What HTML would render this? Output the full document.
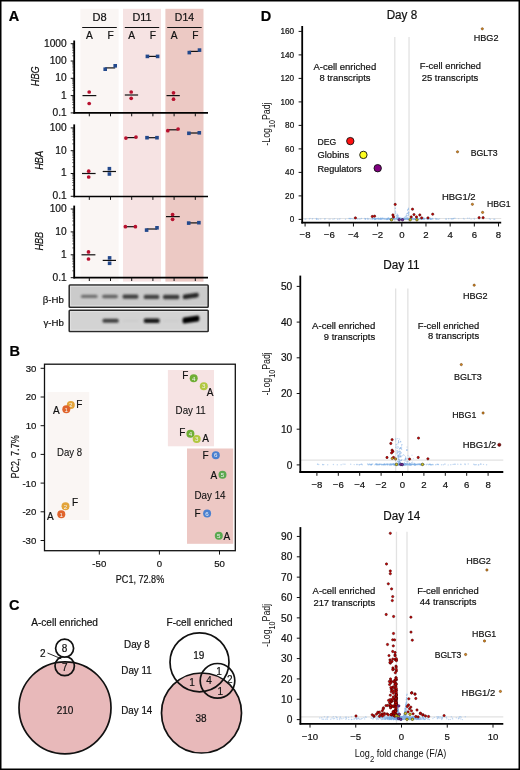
<!DOCTYPE html>
<html><head><meta charset="utf-8"><style>
html,body{margin:0;padding:0;background:#fff;}
svg{display:block;font-family:"Liberation Sans", sans-serif;will-change:transform;}
</style></head><body>
<svg width="520" height="770" viewBox="0 0 520 770" font-family='"Liberation Sans", sans-serif'>
<rect width="520" height="770" fill="#fff"/>
<text x="8.80" y="20.80" font-size="14.5" text-anchor="start" font-weight="bold" stroke="#000" stroke-width="0.2">A</text>
<rect x="80.40" y="8.80" width="38.20" height="272.80" fill="#faf6f4"/>
<rect x="123.00" y="8.80" width="38.00" height="272.80" fill="#f6e3e3"/>
<rect x="165.40" y="8.80" width="38.10" height="272.80" fill="#ecc9c4"/>
<text x="92.40" y="21.30" font-size="10.3" text-anchor="start" fill="#111" stroke="#111" stroke-width="0.2" textLength="14.20" lengthAdjust="spacingAndGlyphs">D8</text>
<line x1="82.20" y1="27.50" x2="116.80" y2="27.50" stroke="#111" stroke-width="1.2"/>
<text x="89.30" y="39.40" font-size="10.2" text-anchor="middle" fill="#111" stroke="#111" stroke-width="0.2">A</text>
<text x="110.50" y="39.40" font-size="10.2" text-anchor="middle" fill="#111" stroke="#111" stroke-width="0.2">F</text>
<text x="132.40" y="21.30" font-size="10.3" text-anchor="start" fill="#111" stroke="#111" stroke-width="0.2" textLength="19.20" lengthAdjust="spacingAndGlyphs">D11</text>
<line x1="124.80" y1="27.50" x2="159.20" y2="27.50" stroke="#111" stroke-width="1.2"/>
<text x="131.70" y="39.40" font-size="10.2" text-anchor="middle" fill="#111" stroke="#111" stroke-width="0.2">A</text>
<text x="152.90" y="39.40" font-size="10.2" text-anchor="middle" fill="#111" stroke="#111" stroke-width="0.2">F</text>
<text x="174.85" y="21.30" font-size="10.3" text-anchor="start" fill="#111" stroke="#111" stroke-width="0.2" textLength="19.20" lengthAdjust="spacingAndGlyphs">D14</text>
<line x1="167.20" y1="27.50" x2="201.70" y2="27.50" stroke="#111" stroke-width="1.2"/>
<text x="174.10" y="39.40" font-size="10.2" text-anchor="middle" fill="#111" stroke="#111" stroke-width="0.2">A</text>
<text x="195.30" y="39.40" font-size="10.2" text-anchor="middle" fill="#111" stroke="#111" stroke-width="0.2">F</text>
<line x1="74.20" y1="40.50" x2="74.20" y2="113.70" stroke="#000" stroke-width="1.8"/>
<line x1="73.40" y1="112.90" x2="208.00" y2="112.90" stroke="#000" stroke-width="1.6"/>
<line x1="89.30" y1="112.90" x2="89.30" y2="116.30" stroke="#111" stroke-width="1.0"/>
<line x1="110.50" y1="112.90" x2="110.50" y2="116.30" stroke="#111" stroke-width="1.0"/>
<line x1="131.70" y1="112.90" x2="131.70" y2="116.30" stroke="#111" stroke-width="1.0"/>
<line x1="152.90" y1="112.90" x2="152.90" y2="116.30" stroke="#111" stroke-width="1.0"/>
<line x1="174.10" y1="112.90" x2="174.10" y2="116.30" stroke="#111" stroke-width="1.0"/>
<line x1="195.30" y1="112.90" x2="195.30" y2="116.30" stroke="#111" stroke-width="1.0"/>
<line x1="70.70" y1="112.90" x2="74.20" y2="112.90" stroke="#111" stroke-width="1.0"/>
<text x="66.70" y="115.80" font-size="10.2" text-anchor="end" fill="#111" stroke="#111" stroke-width="0.2">0.1</text>
<line x1="72.20" y1="107.69" x2="74.20" y2="107.69" stroke="#111" stroke-width="0.6"/>
<line x1="72.20" y1="104.65" x2="74.20" y2="104.65" stroke="#111" stroke-width="0.6"/>
<line x1="72.20" y1="102.48" x2="74.20" y2="102.48" stroke="#111" stroke-width="0.6"/>
<line x1="72.20" y1="100.81" x2="74.20" y2="100.81" stroke="#111" stroke-width="0.6"/>
<line x1="72.20" y1="99.44" x2="74.20" y2="99.44" stroke="#111" stroke-width="0.6"/>
<line x1="72.20" y1="98.28" x2="74.20" y2="98.28" stroke="#111" stroke-width="0.6"/>
<line x1="72.20" y1="97.28" x2="74.20" y2="97.28" stroke="#111" stroke-width="0.6"/>
<line x1="72.20" y1="96.39" x2="74.20" y2="96.39" stroke="#111" stroke-width="0.6"/>
<line x1="70.70" y1="95.60" x2="74.20" y2="95.60" stroke="#111" stroke-width="1.0"/>
<text x="66.70" y="98.50" font-size="10.2" text-anchor="end" fill="#111" stroke="#111" stroke-width="0.2">1</text>
<line x1="72.20" y1="90.39" x2="74.20" y2="90.39" stroke="#111" stroke-width="0.6"/>
<line x1="72.20" y1="87.35" x2="74.20" y2="87.35" stroke="#111" stroke-width="0.6"/>
<line x1="72.20" y1="85.18" x2="74.20" y2="85.18" stroke="#111" stroke-width="0.6"/>
<line x1="72.20" y1="83.51" x2="74.20" y2="83.51" stroke="#111" stroke-width="0.6"/>
<line x1="72.20" y1="82.14" x2="74.20" y2="82.14" stroke="#111" stroke-width="0.6"/>
<line x1="72.20" y1="80.98" x2="74.20" y2="80.98" stroke="#111" stroke-width="0.6"/>
<line x1="72.20" y1="79.98" x2="74.20" y2="79.98" stroke="#111" stroke-width="0.6"/>
<line x1="72.20" y1="79.09" x2="74.20" y2="79.09" stroke="#111" stroke-width="0.6"/>
<line x1="70.70" y1="78.30" x2="74.20" y2="78.30" stroke="#111" stroke-width="1.0"/>
<text x="66.70" y="81.20" font-size="10.2" text-anchor="end" fill="#111" stroke="#111" stroke-width="0.2">10</text>
<line x1="72.20" y1="73.09" x2="74.20" y2="73.09" stroke="#111" stroke-width="0.6"/>
<line x1="72.20" y1="70.05" x2="74.20" y2="70.05" stroke="#111" stroke-width="0.6"/>
<line x1="72.20" y1="67.88" x2="74.20" y2="67.88" stroke="#111" stroke-width="0.6"/>
<line x1="72.20" y1="66.21" x2="74.20" y2="66.21" stroke="#111" stroke-width="0.6"/>
<line x1="72.20" y1="64.84" x2="74.20" y2="64.84" stroke="#111" stroke-width="0.6"/>
<line x1="72.20" y1="63.68" x2="74.20" y2="63.68" stroke="#111" stroke-width="0.6"/>
<line x1="72.20" y1="62.68" x2="74.20" y2="62.68" stroke="#111" stroke-width="0.6"/>
<line x1="72.20" y1="61.79" x2="74.20" y2="61.79" stroke="#111" stroke-width="0.6"/>
<line x1="70.70" y1="61.00" x2="74.20" y2="61.00" stroke="#111" stroke-width="1.0"/>
<text x="66.70" y="63.90" font-size="10.2" text-anchor="end" fill="#111" stroke="#111" stroke-width="0.2">100</text>
<line x1="72.20" y1="55.79" x2="74.20" y2="55.79" stroke="#111" stroke-width="0.6"/>
<line x1="72.20" y1="52.75" x2="74.20" y2="52.75" stroke="#111" stroke-width="0.6"/>
<line x1="72.20" y1="50.58" x2="74.20" y2="50.58" stroke="#111" stroke-width="0.6"/>
<line x1="72.20" y1="48.91" x2="74.20" y2="48.91" stroke="#111" stroke-width="0.6"/>
<line x1="72.20" y1="47.54" x2="74.20" y2="47.54" stroke="#111" stroke-width="0.6"/>
<line x1="72.20" y1="46.38" x2="74.20" y2="46.38" stroke="#111" stroke-width="0.6"/>
<line x1="72.20" y1="45.38" x2="74.20" y2="45.38" stroke="#111" stroke-width="0.6"/>
<line x1="72.20" y1="44.49" x2="74.20" y2="44.49" stroke="#111" stroke-width="0.6"/>
<line x1="70.70" y1="43.70" x2="74.20" y2="43.70" stroke="#111" stroke-width="1.0"/>
<text x="66.70" y="46.60" font-size="10.2" text-anchor="end" fill="#111" stroke="#111" stroke-width="0.2">1000</text>
<text x="0.00" y="0.00" font-size="10.2" text-anchor="middle" font-style="italic" fill="#111" stroke="#111" stroke-width="0.2" transform="translate(38.8,76.3) rotate(-90) scale(0.9,1)">HBG</text>
<line x1="74.20" y1="124.40" x2="74.20" y2="197.30" stroke="#000" stroke-width="1.8"/>
<line x1="73.40" y1="196.50" x2="208.00" y2="196.50" stroke="#000" stroke-width="1.6"/>
<line x1="89.30" y1="196.50" x2="89.30" y2="199.90" stroke="#111" stroke-width="1.0"/>
<line x1="110.50" y1="196.50" x2="110.50" y2="199.90" stroke="#111" stroke-width="1.0"/>
<line x1="131.70" y1="196.50" x2="131.70" y2="199.90" stroke="#111" stroke-width="1.0"/>
<line x1="152.90" y1="196.50" x2="152.90" y2="199.90" stroke="#111" stroke-width="1.0"/>
<line x1="174.10" y1="196.50" x2="174.10" y2="199.90" stroke="#111" stroke-width="1.0"/>
<line x1="195.30" y1="196.50" x2="195.30" y2="199.90" stroke="#111" stroke-width="1.0"/>
<line x1="70.70" y1="196.30" x2="74.20" y2="196.30" stroke="#111" stroke-width="1.0"/>
<text x="66.70" y="199.20" font-size="10.2" text-anchor="end" fill="#111" stroke="#111" stroke-width="0.2">0.1</text>
<line x1="72.20" y1="189.44" x2="74.20" y2="189.44" stroke="#111" stroke-width="0.6"/>
<line x1="72.20" y1="185.42" x2="74.20" y2="185.42" stroke="#111" stroke-width="0.6"/>
<line x1="72.20" y1="182.57" x2="74.20" y2="182.57" stroke="#111" stroke-width="0.6"/>
<line x1="72.20" y1="180.36" x2="74.20" y2="180.36" stroke="#111" stroke-width="0.6"/>
<line x1="72.20" y1="178.56" x2="74.20" y2="178.56" stroke="#111" stroke-width="0.6"/>
<line x1="72.20" y1="177.03" x2="74.20" y2="177.03" stroke="#111" stroke-width="0.6"/>
<line x1="72.20" y1="175.71" x2="74.20" y2="175.71" stroke="#111" stroke-width="0.6"/>
<line x1="72.20" y1="174.54" x2="74.20" y2="174.54" stroke="#111" stroke-width="0.6"/>
<line x1="70.70" y1="173.50" x2="74.20" y2="173.50" stroke="#111" stroke-width="1.0"/>
<text x="66.70" y="176.40" font-size="10.2" text-anchor="end" fill="#111" stroke="#111" stroke-width="0.2">1</text>
<line x1="72.20" y1="166.64" x2="74.20" y2="166.64" stroke="#111" stroke-width="0.6"/>
<line x1="72.20" y1="162.62" x2="74.20" y2="162.62" stroke="#111" stroke-width="0.6"/>
<line x1="72.20" y1="159.77" x2="74.20" y2="159.77" stroke="#111" stroke-width="0.6"/>
<line x1="72.20" y1="157.56" x2="74.20" y2="157.56" stroke="#111" stroke-width="0.6"/>
<line x1="72.20" y1="155.76" x2="74.20" y2="155.76" stroke="#111" stroke-width="0.6"/>
<line x1="72.20" y1="154.23" x2="74.20" y2="154.23" stroke="#111" stroke-width="0.6"/>
<line x1="72.20" y1="152.91" x2="74.20" y2="152.91" stroke="#111" stroke-width="0.6"/>
<line x1="72.20" y1="151.74" x2="74.20" y2="151.74" stroke="#111" stroke-width="0.6"/>
<line x1="70.70" y1="150.70" x2="74.20" y2="150.70" stroke="#111" stroke-width="1.0"/>
<text x="66.70" y="153.60" font-size="10.2" text-anchor="end" fill="#111" stroke="#111" stroke-width="0.2">10</text>
<line x1="72.20" y1="143.84" x2="74.20" y2="143.84" stroke="#111" stroke-width="0.6"/>
<line x1="72.20" y1="139.82" x2="74.20" y2="139.82" stroke="#111" stroke-width="0.6"/>
<line x1="72.20" y1="136.97" x2="74.20" y2="136.97" stroke="#111" stroke-width="0.6"/>
<line x1="72.20" y1="134.76" x2="74.20" y2="134.76" stroke="#111" stroke-width="0.6"/>
<line x1="72.20" y1="132.96" x2="74.20" y2="132.96" stroke="#111" stroke-width="0.6"/>
<line x1="72.20" y1="131.43" x2="74.20" y2="131.43" stroke="#111" stroke-width="0.6"/>
<line x1="72.20" y1="130.11" x2="74.20" y2="130.11" stroke="#111" stroke-width="0.6"/>
<line x1="72.20" y1="128.94" x2="74.20" y2="128.94" stroke="#111" stroke-width="0.6"/>
<line x1="70.70" y1="127.90" x2="74.20" y2="127.90" stroke="#111" stroke-width="1.0"/>
<text x="66.70" y="130.80" font-size="10.2" text-anchor="end" fill="#111" stroke="#111" stroke-width="0.2">100</text>
<text x="0.00" y="0.00" font-size="10.2" text-anchor="middle" font-style="italic" fill="#111" stroke="#111" stroke-width="0.2" transform="translate(42.9,160.4) rotate(-90) scale(0.9,1)">HBA</text>
<line x1="74.20" y1="205.60" x2="74.20" y2="278.40" stroke="#000" stroke-width="1.8"/>
<line x1="73.40" y1="277.60" x2="208.00" y2="277.60" stroke="#000" stroke-width="1.6"/>
<line x1="89.30" y1="277.60" x2="89.30" y2="281.00" stroke="#111" stroke-width="1.0"/>
<line x1="110.50" y1="277.60" x2="110.50" y2="281.00" stroke="#111" stroke-width="1.0"/>
<line x1="131.70" y1="277.60" x2="131.70" y2="281.00" stroke="#111" stroke-width="1.0"/>
<line x1="152.90" y1="277.60" x2="152.90" y2="281.00" stroke="#111" stroke-width="1.0"/>
<line x1="174.10" y1="277.60" x2="174.10" y2="281.00" stroke="#111" stroke-width="1.0"/>
<line x1="195.30" y1="277.60" x2="195.30" y2="281.00" stroke="#111" stroke-width="1.0"/>
<line x1="70.70" y1="277.70" x2="74.20" y2="277.70" stroke="#111" stroke-width="1.0"/>
<text x="66.70" y="280.60" font-size="10.2" text-anchor="end" fill="#111" stroke="#111" stroke-width="0.2">0.1</text>
<line x1="72.20" y1="270.81" x2="74.20" y2="270.81" stroke="#111" stroke-width="0.6"/>
<line x1="72.20" y1="266.77" x2="74.20" y2="266.77" stroke="#111" stroke-width="0.6"/>
<line x1="72.20" y1="263.91" x2="74.20" y2="263.91" stroke="#111" stroke-width="0.6"/>
<line x1="72.20" y1="261.69" x2="74.20" y2="261.69" stroke="#111" stroke-width="0.6"/>
<line x1="72.20" y1="259.88" x2="74.20" y2="259.88" stroke="#111" stroke-width="0.6"/>
<line x1="72.20" y1="258.35" x2="74.20" y2="258.35" stroke="#111" stroke-width="0.6"/>
<line x1="72.20" y1="257.02" x2="74.20" y2="257.02" stroke="#111" stroke-width="0.6"/>
<line x1="72.20" y1="255.85" x2="74.20" y2="255.85" stroke="#111" stroke-width="0.6"/>
<line x1="70.70" y1="254.80" x2="74.20" y2="254.80" stroke="#111" stroke-width="1.0"/>
<text x="66.70" y="257.70" font-size="10.2" text-anchor="end" fill="#111" stroke="#111" stroke-width="0.2">1</text>
<line x1="72.20" y1="247.91" x2="74.20" y2="247.91" stroke="#111" stroke-width="0.6"/>
<line x1="72.20" y1="243.87" x2="74.20" y2="243.87" stroke="#111" stroke-width="0.6"/>
<line x1="72.20" y1="241.01" x2="74.20" y2="241.01" stroke="#111" stroke-width="0.6"/>
<line x1="72.20" y1="238.79" x2="74.20" y2="238.79" stroke="#111" stroke-width="0.6"/>
<line x1="72.20" y1="236.98" x2="74.20" y2="236.98" stroke="#111" stroke-width="0.6"/>
<line x1="72.20" y1="235.45" x2="74.20" y2="235.45" stroke="#111" stroke-width="0.6"/>
<line x1="72.20" y1="234.12" x2="74.20" y2="234.12" stroke="#111" stroke-width="0.6"/>
<line x1="72.20" y1="232.95" x2="74.20" y2="232.95" stroke="#111" stroke-width="0.6"/>
<line x1="70.70" y1="231.90" x2="74.20" y2="231.90" stroke="#111" stroke-width="1.0"/>
<text x="66.70" y="234.80" font-size="10.2" text-anchor="end" fill="#111" stroke="#111" stroke-width="0.2">10</text>
<line x1="72.20" y1="225.01" x2="74.20" y2="225.01" stroke="#111" stroke-width="0.6"/>
<line x1="72.20" y1="220.97" x2="74.20" y2="220.97" stroke="#111" stroke-width="0.6"/>
<line x1="72.20" y1="218.11" x2="74.20" y2="218.11" stroke="#111" stroke-width="0.6"/>
<line x1="72.20" y1="215.89" x2="74.20" y2="215.89" stroke="#111" stroke-width="0.6"/>
<line x1="72.20" y1="214.08" x2="74.20" y2="214.08" stroke="#111" stroke-width="0.6"/>
<line x1="72.20" y1="212.55" x2="74.20" y2="212.55" stroke="#111" stroke-width="0.6"/>
<line x1="72.20" y1="211.22" x2="74.20" y2="211.22" stroke="#111" stroke-width="0.6"/>
<line x1="72.20" y1="210.05" x2="74.20" y2="210.05" stroke="#111" stroke-width="0.6"/>
<line x1="70.70" y1="209.00" x2="74.20" y2="209.00" stroke="#111" stroke-width="1.0"/>
<text x="66.70" y="211.90" font-size="10.2" text-anchor="end" fill="#111" stroke="#111" stroke-width="0.2">100</text>
<text x="0.00" y="0.00" font-size="10.2" text-anchor="middle" font-style="italic" fill="#111" stroke="#111" stroke-width="0.2" transform="translate(42.6,241.2) rotate(-90) scale(0.9,1)">HBB</text>
<line x1="82.50" y1="95.60" x2="96.30" y2="95.60" stroke="#111" stroke-width="1.2"/>
<circle cx="89.20" cy="92.00" r="1.85" fill="#b8102e"/>
<circle cx="89.20" cy="103.50" r="1.85" fill="#b8102e"/>
<line x1="105.20" y1="67.90" x2="115.20" y2="67.90" stroke="#111" stroke-width="1.2"/>
<rect x="103.40" y="67.40" width="3.60" height="3.60" fill="#23498c"/>
<rect x="113.40" y="64.00" width="3.60" height="3.60" fill="#23498c"/>
<line x1="124.80" y1="95.00" x2="138.10" y2="95.00" stroke="#111" stroke-width="1.2"/>
<circle cx="131.20" cy="92.00" r="1.85" fill="#b8102e"/>
<circle cx="131.20" cy="98.30" r="1.85" fill="#b8102e"/>
<line x1="147.40" y1="56.40" x2="157.60" y2="56.40" stroke="#111" stroke-width="1.2"/>
<rect x="145.60" y="54.60" width="3.60" height="3.60" fill="#23498c"/>
<rect x="155.80" y="54.60" width="3.60" height="3.60" fill="#23498c"/>
<line x1="166.50" y1="95.60" x2="179.80" y2="95.60" stroke="#111" stroke-width="1.2"/>
<circle cx="173.50" cy="92.80" r="1.85" fill="#b8102e"/>
<circle cx="173.50" cy="99.20" r="1.85" fill="#b8102e"/>
<line x1="189.30" y1="51.40" x2="199.50" y2="51.40" stroke="#111" stroke-width="1.2"/>
<rect x="187.50" y="50.80" width="3.60" height="3.60" fill="#23498c"/>
<rect x="197.70" y="48.30" width="3.60" height="3.60" fill="#23498c"/>
<line x1="82.00" y1="173.50" x2="95.60" y2="173.50" stroke="#111" stroke-width="1.2"/>
<circle cx="88.70" cy="171.20" r="1.85" fill="#b8102e"/>
<circle cx="88.70" cy="177.00" r="1.85" fill="#b8102e"/>
<line x1="102.70" y1="171.50" x2="116.00" y2="171.50" stroke="#111" stroke-width="1.2"/>
<rect x="107.60" y="166.90" width="3.60" height="3.60" fill="#23498c"/>
<rect x="107.60" y="172.20" width="3.60" height="3.60" fill="#23498c"/>
<line x1="125.90" y1="137.60" x2="136.00" y2="137.60" stroke="#111" stroke-width="1.2"/>
<circle cx="125.90" cy="138.10" r="1.85" fill="#b8102e"/>
<circle cx="136.00" cy="137.10" r="1.85" fill="#b8102e"/>
<line x1="147.00" y1="137.70" x2="157.00" y2="137.70" stroke="#111" stroke-width="1.2"/>
<rect x="145.20" y="135.90" width="3.60" height="3.60" fill="#23498c"/>
<rect x="155.20" y="135.90" width="3.60" height="3.60" fill="#23498c"/>
<line x1="167.80" y1="129.80" x2="178.10" y2="129.80" stroke="#111" stroke-width="1.2"/>
<circle cx="167.80" cy="130.70" r="1.85" fill="#b8102e"/>
<circle cx="178.10" cy="129.00" r="1.85" fill="#b8102e"/>
<line x1="188.90" y1="133.00" x2="199.30" y2="133.00" stroke="#111" stroke-width="1.2"/>
<rect x="187.10" y="131.50" width="3.60" height="3.60" fill="#23498c"/>
<rect x="197.50" y="131.00" width="3.60" height="3.60" fill="#23498c"/>
<line x1="81.50" y1="254.80" x2="95.40" y2="254.80" stroke="#111" stroke-width="1.2"/>
<circle cx="88.50" cy="251.90" r="1.85" fill="#b8102e"/>
<circle cx="88.50" cy="259.00" r="1.85" fill="#b8102e"/>
<line x1="102.70" y1="260.40" x2="116.00" y2="260.40" stroke="#111" stroke-width="1.2"/>
<rect x="107.80" y="256.10" width="3.60" height="3.60" fill="#23498c"/>
<rect x="107.80" y="261.50" width="3.60" height="3.60" fill="#23498c"/>
<line x1="125.40" y1="226.70" x2="135.40" y2="226.70" stroke="#111" stroke-width="1.2"/>
<circle cx="125.40" cy="226.70" r="1.85" fill="#b8102e"/>
<circle cx="135.40" cy="226.70" r="1.85" fill="#b8102e"/>
<line x1="146.60" y1="229.00" x2="157.00" y2="229.00" stroke="#111" stroke-width="1.2"/>
<rect x="144.80" y="228.30" width="3.60" height="3.60" fill="#23498c"/>
<rect x="155.20" y="226.00" width="3.60" height="3.60" fill="#23498c"/>
<line x1="166.00" y1="216.60" x2="179.80" y2="216.60" stroke="#111" stroke-width="1.2"/>
<circle cx="172.60" cy="214.50" r="1.85" fill="#b8102e"/>
<circle cx="172.60" cy="219.30" r="1.85" fill="#b8102e"/>
<line x1="188.70" y1="222.90" x2="198.90" y2="222.90" stroke="#111" stroke-width="1.2"/>
<rect x="186.90" y="221.30" width="3.60" height="3.60" fill="#23498c"/>
<rect x="197.10" y="220.90" width="3.60" height="3.60" fill="#23498c"/>
<defs><filter id="blur1" x="-20%" y="-100%" width="140%" height="300%"><feGaussianBlur stdDeviation="0.85"/></filter></defs>
<rect x="69.20" y="284.90" width="139.00" height="22.30" fill="#cbcbcb" stroke="#2a2a2a" stroke-width="1.5" rx="0.8"/>
<line x1="70.40" y1="286.30" x2="207.00" y2="286.30" stroke="#e2e2e2" stroke-width="0.8"/>
<line x1="70.40" y1="305.80" x2="207.00" y2="305.80" stroke="#e6e6e6" stroke-width="0.8"/>
<line x1="70.60" y1="286.10" x2="70.60" y2="306.00" stroke="#e2e2e2" stroke-width="0.8"/>
<rect x="69.20" y="310.20" width="139.00" height="21.30" fill="#d3d3d3" stroke="#2a2a2a" stroke-width="1.5" rx="0.8"/>
<line x1="70.40" y1="311.60" x2="207.00" y2="311.60" stroke="#e2e2e2" stroke-width="0.8"/>
<line x1="70.40" y1="330.10" x2="207.00" y2="330.10" stroke="#e6e6e6" stroke-width="0.8"/>
<line x1="70.60" y1="311.40" x2="70.60" y2="330.30" stroke="#e2e2e2" stroke-width="0.8"/>
<path d="M82.5,294.7 L96.0,294.7 Q97.6,294.7 97.6,296.4 Q97.6,298.1 96.0,298.1 L82.5,298.1 Q80.9,298.1 80.9,296.4 Q80.9,294.7 82.5,294.7 Z" fill="#6e6e6e" filter="url(#blur1)"/>
<path d="M103.7,294.7 L116.3,294.7 Q117.9,294.7 117.9,296.5 Q117.9,298.3 116.3,298.3 L103.7,298.3 Q102.1,298.3 102.1,296.5 Q102.1,294.7 103.7,294.7 Z" fill="#626262" filter="url(#blur1)"/>
<path d="M124.1,294.4 L136.8,294.4 Q138.4,294.4 138.4,296.6 Q138.4,298.8 136.8,298.8 L124.1,298.8 Q122.5,298.8 122.5,296.6 Q122.5,294.4 124.1,294.4 Z" fill="#404040" filter="url(#blur1)"/>
<path d="M145.3,294.7 L157.7,294.7 Q159.3,294.7 159.3,296.9 Q159.3,299.1 157.7,299.1 L145.3,299.1 Q143.7,299.1 143.7,296.9 Q143.7,294.7 145.3,294.7 Z" fill="#424242" filter="url(#blur1)"/>
<path d="M164.5,294.8 L177.8,294.8 Q179.4,294.8 179.4,297.0 Q179.4,299.2 177.8,299.2 L164.5,299.2 Q162.9,299.2 162.9,297.0 Q162.9,294.8 164.5,294.8 Z" fill="#3a3a3a" filter="url(#blur1)"/>
<path d="M184.4,294.5 L197.2,292.7 Q198.8,292.7 198.8,295.1 Q198.8,297.5 197.2,297.5 L184.4,299.3 Q182.8,299.3 182.8,296.9 Q182.8,294.5 184.4,294.5 Z" fill="#262626" filter="url(#blur1)"/>
<path d="M104.0,318.7 L117.2,318.7 Q118.8,318.7 118.8,320.7 Q118.8,322.7 117.2,322.7 L104.0,322.7 Q102.4,322.7 102.4,320.7 Q102.4,318.7 104.0,318.7 Z" fill="#404040" filter="url(#blur1)"/>
<path d="M123.7,319.5 L137.8,319.5 Q139.0,319.5 139.0,320.7 Q139.0,321.9 137.8,321.9 L123.7,321.9 Q122.5,321.9 122.5,320.7 Q122.5,319.5 123.7,319.5 Z" fill="#cdcdcd" filter="url(#blur1)"/>
<path d="M145.3,318.5 L158.1,318.5 Q159.7,318.5 159.7,320.7 Q159.7,322.9 158.1,322.9 L145.3,322.9 Q143.7,322.9 143.7,320.7 Q143.7,318.5 145.3,318.5 Z" fill="#181818" filter="url(#blur1)"/>
<path d="M163.9,319.5 L178.4,319.5 Q179.6,319.5 179.6,320.7 Q179.6,321.9 178.4,321.9 L163.9,321.9 Q162.7,321.9 162.7,320.7 Q162.7,319.5 163.9,319.5 Z" fill="#cecece" filter="url(#blur1)"/>
<path d="M184.1,317.4 L197.8,315.6 Q199.4,315.6 199.4,318.6 Q199.4,321.6 197.8,321.6 L184.1,323.4 Q182.5,323.4 182.5,320.4 Q182.5,317.4 184.1,317.4 Z" fill="#060606" filter="url(#blur1)"/>
<text x="42.80" y="302.60" font-size="9.6" text-anchor="start" fill="#111" stroke="#111" stroke-width="0.2" textLength="21.10" lengthAdjust="spacingAndGlyphs">β-Hb</text>
<text x="43.50" y="326.40" font-size="9.6" text-anchor="start" fill="#111" stroke="#111" stroke-width="0.2" textLength="20.40" lengthAdjust="spacingAndGlyphs">γ-Hb</text>
<text x="9.40" y="355.60" font-size="14.5" text-anchor="start" font-weight="bold" stroke="#000" stroke-width="0.2">B</text>
<rect x="47.50" y="392.00" width="41.70" height="128.00" fill="#faf6f4"/>
<rect x="167.90" y="370.00" width="46.10" height="76.30" fill="#f6e3e3"/>
<rect x="187.00" y="448.50" width="46.20" height="95.30" fill="#edc8c4"/>
<rect x="44.5" y="364.2" width="190.8" height="186.5" fill="none" stroke="#111" stroke-width="1.3"/>
<line x1="40.60" y1="368.30" x2="44.50" y2="368.30" stroke="#111" stroke-width="1.0"/>
<text x="36.30" y="371.70" font-size="9.6" text-anchor="end" fill="#111" stroke="#111" stroke-width="0.2">30</text>
<line x1="40.60" y1="397.00" x2="44.50" y2="397.00" stroke="#111" stroke-width="1.0"/>
<text x="36.30" y="400.40" font-size="9.6" text-anchor="end" fill="#111" stroke="#111" stroke-width="0.2">20</text>
<line x1="40.60" y1="425.70" x2="44.50" y2="425.70" stroke="#111" stroke-width="1.0"/>
<text x="36.30" y="429.10" font-size="9.6" text-anchor="end" fill="#111" stroke="#111" stroke-width="0.2">10</text>
<line x1="40.60" y1="454.40" x2="44.50" y2="454.40" stroke="#111" stroke-width="1.0"/>
<text x="36.30" y="457.80" font-size="9.6" text-anchor="end" fill="#111" stroke="#111" stroke-width="0.2">0</text>
<line x1="40.60" y1="483.10" x2="44.50" y2="483.10" stroke="#111" stroke-width="1.0"/>
<text x="36.30" y="486.50" font-size="9.6" text-anchor="end" fill="#111" stroke="#111" stroke-width="0.2">-10</text>
<line x1="40.60" y1="511.80" x2="44.50" y2="511.80" stroke="#111" stroke-width="1.0"/>
<text x="36.30" y="515.20" font-size="9.6" text-anchor="end" fill="#111" stroke="#111" stroke-width="0.2">-20</text>
<line x1="40.60" y1="540.50" x2="44.50" y2="540.50" stroke="#111" stroke-width="1.0"/>
<text x="36.30" y="543.90" font-size="9.6" text-anchor="end" fill="#111" stroke="#111" stroke-width="0.2">-30</text>
<line x1="99.30" y1="550.70" x2="99.30" y2="554.60" stroke="#111" stroke-width="1.0"/>
<text x="99.30" y="567.00" font-size="9.6" text-anchor="middle" fill="#111" stroke="#111" stroke-width="0.2">-50</text>
<line x1="159.40" y1="550.70" x2="159.40" y2="554.60" stroke="#111" stroke-width="1.0"/>
<text x="159.40" y="567.00" font-size="9.6" text-anchor="middle" fill="#111" stroke="#111" stroke-width="0.2">0</text>
<line x1="219.50" y1="550.70" x2="219.50" y2="554.60" stroke="#111" stroke-width="1.0"/>
<text x="219.50" y="567.00" font-size="9.6" text-anchor="middle" fill="#111" stroke="#111" stroke-width="0.2">50</text>
<text x="115.80" y="582.80" font-size="11.4" text-anchor="start" fill="#111" stroke="#111" stroke-width="0.2" textLength="48.40" lengthAdjust="spacingAndGlyphs">PC1, 72.8%</text>
<text x="0.00" y="0.00" font-size="11" text-anchor="start" fill="#111" stroke="#111" stroke-width="0.2" textLength="43.20" lengthAdjust="spacingAndGlyphs" transform="translate(19.3,478.5) rotate(-90)">PC2, 7.7%</text>
<circle cx="70.80" cy="405.00" r="4.00" fill="#e3a43a"/>
<text x="70.80" y="407.20" font-size="6.2" text-anchor="middle" fill="#f4f4f4">2</text>
<circle cx="66.30" cy="409.30" r="4.00" fill="#e0642c"/>
<text x="66.30" y="411.50" font-size="6.2" text-anchor="middle" fill="#f4f4f4">1</text>
<text x="53.00" y="413.50" font-size="10" text-anchor="start" fill="#111" stroke="#111" stroke-width="0.2">A</text>
<text x="76.20" y="408.00" font-size="10" text-anchor="start" fill="#111" stroke="#111" stroke-width="0.2">F</text>
<text x="57.00" y="456.00" font-size="10.5" text-anchor="start" fill="#111" stroke="#111" stroke-width="0.1" textLength="25.00" lengthAdjust="spacingAndGlyphs">Day 8</text>
<circle cx="65.50" cy="506.30" r="4.00" fill="#e3a43a"/>
<text x="65.50" y="508.50" font-size="6.2" text-anchor="middle" fill="#f4f4f4">2</text>
<circle cx="61.30" cy="514.30" r="4.00" fill="#e0642c"/>
<text x="61.30" y="516.50" font-size="6.2" text-anchor="middle" fill="#f4f4f4">1</text>
<text x="72.00" y="506.00" font-size="10" text-anchor="start" fill="#111" stroke="#111" stroke-width="0.2">F</text>
<text x="47.00" y="519.80" font-size="10" text-anchor="start" fill="#111" stroke="#111" stroke-width="0.2">A</text>
<circle cx="193.70" cy="378.30" r="4.00" fill="#6fae35"/>
<text x="193.70" y="380.50" font-size="6.2" text-anchor="middle" fill="#f4f4f4">4</text>
<text x="182.30" y="379.30" font-size="10" text-anchor="start" fill="#111" stroke="#111" stroke-width="0.2">F</text>
<circle cx="203.80" cy="386.20" r="4.00" fill="#b2c840"/>
<text x="203.80" y="388.40" font-size="6.2" text-anchor="middle" fill="#f4f4f4">3</text>
<text x="206.70" y="395.50" font-size="10" text-anchor="start" fill="#111" stroke="#111" stroke-width="0.2">A</text>
<text x="175.60" y="413.70" font-size="10.5" text-anchor="start" fill="#111" stroke="#111" stroke-width="0.1" textLength="30.20" lengthAdjust="spacingAndGlyphs">Day 11</text>
<circle cx="190.40" cy="433.80" r="4.00" fill="#6fae35"/>
<text x="190.40" y="436.00" font-size="6.2" text-anchor="middle" fill="#f4f4f4">4</text>
<text x="179.20" y="435.80" font-size="10" text-anchor="start" fill="#111" stroke="#111" stroke-width="0.2">F</text>
<circle cx="196.70" cy="439.00" r="4.00" fill="#b2c840"/>
<text x="196.70" y="441.20" font-size="6.2" text-anchor="middle" fill="#f4f4f4">3</text>
<text x="202.30" y="441.80" font-size="10" text-anchor="start" fill="#111" stroke="#111" stroke-width="0.2">A</text>
<circle cx="215.80" cy="455.20" r="4.00" fill="#4a80d0"/>
<text x="215.80" y="457.40" font-size="6.2" text-anchor="middle" fill="#f4f4f4">6</text>
<text x="202.60" y="458.50" font-size="10" text-anchor="start" fill="#111" stroke="#111" stroke-width="0.2">F</text>
<circle cx="222.50" cy="474.70" r="4.00" fill="#5aa84f"/>
<text x="222.50" y="476.90" font-size="6.2" text-anchor="middle" fill="#f4f4f4">5</text>
<text x="210.40" y="479.00" font-size="10" text-anchor="start" fill="#111" stroke="#111" stroke-width="0.2">A</text>
<text x="194.40" y="499.40" font-size="10.5" text-anchor="start" fill="#111" stroke="#111" stroke-width="0.1" textLength="31.20" lengthAdjust="spacingAndGlyphs">Day 14</text>
<circle cx="207.10" cy="513.60" r="4.00" fill="#4a80d0"/>
<text x="207.10" y="515.80" font-size="6.2" text-anchor="middle" fill="#f4f4f4">6</text>
<text x="194.40" y="517.10" font-size="10" text-anchor="start" fill="#111" stroke="#111" stroke-width="0.2">F</text>
<circle cx="218.80" cy="535.80" r="4.00" fill="#5aa84f"/>
<text x="218.80" y="538.00" font-size="6.2" text-anchor="middle" fill="#f4f4f4">5</text>
<text x="223.60" y="539.90" font-size="10" text-anchor="start" fill="#111" stroke="#111" stroke-width="0.2">A</text>
<text x="9.10" y="610.30" font-size="14.5" text-anchor="start" font-weight="bold" stroke="#000" stroke-width="0.2">C</text>
<text x="31.20" y="625.80" font-size="10.1" text-anchor="start" fill="#111" stroke="#111" stroke-width="0.2" textLength="66.80" lengthAdjust="spacingAndGlyphs">A-cell enriched</text>
<text x="166.50" y="625.80" font-size="10.1" text-anchor="start" fill="#111" stroke="#111" stroke-width="0.2" textLength="66.00" lengthAdjust="spacingAndGlyphs">F-cell enriched</text>
<circle cx="65.00" cy="707.80" r="46.00" fill="#e8b9ba" stroke="#111" stroke-width="1.7"/>
<circle cx="64.70" cy="666.00" r="9.70" fill="none" stroke="#111" stroke-width="1.7"/>
<circle cx="64.60" cy="648.20" r="9.00" fill="#fff" stroke="#111" stroke-width="1.7"/>
<text x="64.60" y="651.80" font-size="10" text-anchor="middle" fill="#111" stroke="#111" stroke-width="0.2">8</text>
<text x="64.70" y="671.20" font-size="10" text-anchor="middle" fill="#111" stroke="#111" stroke-width="0.2">7</text>
<text x="42.80" y="657.40" font-size="10" text-anchor="middle" fill="#111" stroke="#111" stroke-width="0.2">2</text>
<line x1="47.50" y1="653.00" x2="61.30" y2="658.80" stroke="#111" stroke-width="0.9"/>
<text x="65.00" y="713.60" font-size="10" text-anchor="middle" fill="#111" stroke="#111" stroke-width="0.2">210</text>
<circle cx="201.50" cy="713.00" r="40.00" fill="#e8b9ba" stroke="#111" stroke-width="1.7"/>
<circle cx="199.50" cy="662.30" r="29.50" fill="none" stroke="#111" stroke-width="1.7"/>
<circle cx="217.50" cy="680.80" r="17.30" fill="none" stroke="#111" stroke-width="1.7"/>
<text x="198.80" y="658.80" font-size="10" text-anchor="middle" fill="#111" stroke="#111" stroke-width="0.2">19</text>
<text x="219.00" y="675.00" font-size="10" text-anchor="middle" fill="#111" stroke="#111" stroke-width="0.2">1</text>
<text x="229.80" y="683.00" font-size="10" text-anchor="middle" fill="#111" stroke="#111" stroke-width="0.2">2</text>
<text x="192.10" y="685.70" font-size="10" text-anchor="middle" fill="#111" stroke="#111" stroke-width="0.2">1</text>
<text x="209.10" y="684.40" font-size="10" text-anchor="middle" fill="#111" stroke="#111" stroke-width="0.2">4</text>
<text x="220.40" y="694.60" font-size="10" text-anchor="middle" fill="#111" stroke="#111" stroke-width="0.2">1</text>
<text x="201.00" y="722.10" font-size="10" text-anchor="middle" fill="#111" stroke="#111" stroke-width="0.2">38</text>
<text x="124.00" y="648.00" font-size="10" text-anchor="start" fill="#111" stroke="#111" stroke-width="0.2" textLength="25.80" lengthAdjust="spacingAndGlyphs">Day 8</text>
<text x="121.30" y="674.10" font-size="10" text-anchor="start" fill="#111" stroke="#111" stroke-width="0.2" textLength="30.40" lengthAdjust="spacingAndGlyphs">Day 11</text>
<text x="121.30" y="714.00" font-size="10" text-anchor="start" fill="#111" stroke="#111" stroke-width="0.2" textLength="31.00" lengthAdjust="spacingAndGlyphs">Day 14</text>
<text x="260.80" y="20.90" font-size="14.5" text-anchor="start" font-weight="bold" stroke="#000" stroke-width="0.2">D</text>
<line x1="394.79" y1="37.00" x2="394.79" y2="222.70" stroke="#e2e2e2" stroke-width="1.3"/>
<line x1="409.05" y1="37.00" x2="409.05" y2="222.70" stroke="#e2e2e2" stroke-width="1.3"/>
<line x1="302.20" y1="218.50" x2="501.20" y2="218.50" stroke="#e2e2e2" stroke-width="1.2"/>
<circle cx="367.7" cy="219.2" r="0.7" fill="#9cc0ea" fill-opacity="0.6"/>
<circle cx="431.0" cy="219.3" r="0.7" fill="#9cc0ea" fill-opacity="0.6"/>
<circle cx="408.7" cy="219.0" r="0.7" fill="#9cc0ea" fill-opacity="0.6"/>
<circle cx="316.3" cy="218.8" r="0.7" fill="#9cc0ea" fill-opacity="0.6"/>
<circle cx="312.3" cy="218.9" r="0.7" fill="#9cc0ea" fill-opacity="0.6"/>
<circle cx="318.6" cy="219.3" r="0.7" fill="#9cc0ea" fill-opacity="0.6"/>
<circle cx="387.2" cy="218.4" r="0.7" fill="#9cc0ea" fill-opacity="0.6"/>
<circle cx="329.0" cy="219.1" r="0.7" fill="#9cc0ea" fill-opacity="0.6"/>
<circle cx="426.5" cy="218.3" r="0.7" fill="#9cc0ea" fill-opacity="0.6"/>
<circle cx="416.7" cy="218.9" r="0.7" fill="#9cc0ea" fill-opacity="0.6"/>
<circle cx="493.9" cy="219.3" r="0.7" fill="#9cc0ea" fill-opacity="0.6"/>
<circle cx="471.1" cy="219.1" r="0.7" fill="#9cc0ea" fill-opacity="0.6"/>
<circle cx="333.0" cy="219.3" r="0.7" fill="#9cc0ea" fill-opacity="0.6"/>
<circle cx="364.8" cy="218.4" r="0.7" fill="#9cc0ea" fill-opacity="0.6"/>
<circle cx="340.0" cy="218.7" r="0.7" fill="#9cc0ea" fill-opacity="0.6"/>
<circle cx="428.7" cy="219.0" r="0.7" fill="#9cc0ea" fill-opacity="0.6"/>
<circle cx="411.0" cy="219.3" r="0.7" fill="#9cc0ea" fill-opacity="0.6"/>
<circle cx="316.6" cy="219.2" r="0.7" fill="#9cc0ea" fill-opacity="0.6"/>
<circle cx="436.7" cy="218.9" r="0.7" fill="#9cc0ea" fill-opacity="0.6"/>
<circle cx="365.8" cy="218.7" r="0.7" fill="#9cc0ea" fill-opacity="0.6"/>
<circle cx="392.7" cy="219.0" r="0.7" fill="#9cc0ea" fill-opacity="0.6"/>
<circle cx="458.7" cy="218.6" r="0.7" fill="#9cc0ea" fill-opacity="0.6"/>
<circle cx="352.3" cy="218.7" r="0.7" fill="#9cc0ea" fill-opacity="0.6"/>
<circle cx="406.7" cy="218.4" r="0.7" fill="#9cc0ea" fill-opacity="0.6"/>
<circle cx="446.2" cy="219.1" r="0.7" fill="#9cc0ea" fill-opacity="0.6"/>
<circle cx="494.7" cy="219.3" r="0.7" fill="#9cc0ea" fill-opacity="0.6"/>
<circle cx="386.0" cy="218.5" r="0.7" fill="#9cc0ea" fill-opacity="0.6"/>
<circle cx="334.5" cy="218.8" r="0.7" fill="#9cc0ea" fill-opacity="0.6"/>
<circle cx="312.7" cy="218.6" r="0.7" fill="#9cc0ea" fill-opacity="0.6"/>
<circle cx="453.0" cy="218.7" r="0.7" fill="#9cc0ea" fill-opacity="0.6"/>
<circle cx="474.4" cy="219.0" r="0.7" fill="#9cc0ea" fill-opacity="0.6"/>
<circle cx="439.6" cy="218.7" r="0.7" fill="#9cc0ea" fill-opacity="0.6"/>
<circle cx="417.3" cy="218.9" r="0.7" fill="#9cc0ea" fill-opacity="0.6"/>
<circle cx="467.6" cy="218.3" r="0.7" fill="#9cc0ea" fill-opacity="0.6"/>
<circle cx="396.8" cy="218.6" r="0.7" fill="#9cc0ea" fill-opacity="0.6"/>
<circle cx="316.8" cy="218.6" r="0.7" fill="#9cc0ea" fill-opacity="0.6"/>
<circle cx="430.3" cy="218.2" r="0.7" fill="#9cc0ea" fill-opacity="0.6"/>
<circle cx="464.1" cy="219.1" r="0.7" fill="#9cc0ea" fill-opacity="0.6"/>
<circle cx="379.7" cy="218.6" r="0.7" fill="#9cc0ea" fill-opacity="0.6"/>
<circle cx="309.4" cy="218.9" r="0.7" fill="#9cc0ea" fill-opacity="0.6"/>
<circle cx="337.6" cy="219.3" r="0.7" fill="#9cc0ea" fill-opacity="0.6"/>
<circle cx="316.5" cy="218.5" r="0.7" fill="#9cc0ea" fill-opacity="0.6"/>
<circle cx="330.1" cy="219.1" r="0.7" fill="#9cc0ea" fill-opacity="0.6"/>
<circle cx="380.7" cy="218.4" r="0.7" fill="#9cc0ea" fill-opacity="0.6"/>
<circle cx="320.7" cy="218.9" r="0.7" fill="#9cc0ea" fill-opacity="0.6"/>
<circle cx="411.4" cy="218.4" r="0.7" fill="#9cc0ea" fill-opacity="0.6"/>
<circle cx="463.6" cy="218.4" r="0.7" fill="#9cc0ea" fill-opacity="0.6"/>
<circle cx="358.9" cy="218.9" r="0.7" fill="#9cc0ea" fill-opacity="0.6"/>
<circle cx="374.5" cy="218.4" r="0.7" fill="#9cc0ea" fill-opacity="0.6"/>
<circle cx="490.3" cy="219.2" r="0.7" fill="#9cc0ea" fill-opacity="0.6"/>
<circle cx="339.2" cy="219.1" r="0.7" fill="#9cc0ea" fill-opacity="0.6"/>
<circle cx="350.2" cy="218.8" r="0.7" fill="#9cc0ea" fill-opacity="0.6"/>
<circle cx="419.0" cy="219.1" r="0.7" fill="#9cc0ea" fill-opacity="0.6"/>
<circle cx="305.9" cy="218.9" r="0.7" fill="#9cc0ea" fill-opacity="0.6"/>
<circle cx="376.5" cy="218.7" r="0.7" fill="#9cc0ea" fill-opacity="0.6"/>
<circle cx="489.4" cy="218.6" r="0.7" fill="#9cc0ea" fill-opacity="0.6"/>
<circle cx="404.8" cy="218.7" r="0.7" fill="#9cc0ea" fill-opacity="0.6"/>
<circle cx="435.9" cy="219.3" r="0.7" fill="#9cc0ea" fill-opacity="0.6"/>
<circle cx="479.1" cy="218.5" r="0.7" fill="#9cc0ea" fill-opacity="0.6"/>
<circle cx="474.2" cy="218.5" r="0.7" fill="#9cc0ea" fill-opacity="0.6"/>
<circle cx="381.0" cy="218.9" r="0.7" fill="#9cc0ea" fill-opacity="0.6"/>
<circle cx="325.1" cy="218.7" r="0.7" fill="#9cc0ea" fill-opacity="0.6"/>
<circle cx="317.1" cy="219.3" r="0.7" fill="#9cc0ea" fill-opacity="0.6"/>
<circle cx="345.5" cy="219.2" r="0.7" fill="#9cc0ea" fill-opacity="0.6"/>
<circle cx="370.9" cy="219.3" r="0.7" fill="#9cc0ea" fill-opacity="0.6"/>
<circle cx="305.1" cy="219.2" r="0.7" fill="#9cc0ea" fill-opacity="0.6"/>
<circle cx="324.7" cy="219.0" r="0.7" fill="#9cc0ea" fill-opacity="0.6"/>
<circle cx="310.0" cy="218.4" r="0.7" fill="#9cc0ea" fill-opacity="0.6"/>
<circle cx="423.9" cy="219.2" r="0.7" fill="#9cc0ea" fill-opacity="0.6"/>
<circle cx="353.9" cy="219.0" r="0.7" fill="#9cc0ea" fill-opacity="0.6"/>
<circle cx="375.5" cy="219.3" r="0.7" fill="#9cc0ea" fill-opacity="0.6"/>
<circle cx="469.3" cy="218.2" r="0.7" fill="#9cc0ea" fill-opacity="0.6"/>
<circle cx="395.2" cy="218.8" r="0.7" fill="#9cc0ea" fill-opacity="0.6"/>
<circle cx="409.5" cy="219.0" r="0.75" fill="#7eaee6" fill-opacity="0.55"/>
<circle cx="406.4" cy="219.1" r="0.75" fill="#7eaee6" fill-opacity="0.55"/>
<circle cx="407.3" cy="219.4" r="0.75" fill="#7eaee6" fill-opacity="0.55"/>
<circle cx="391.7" cy="218.3" r="0.75" fill="#7eaee6" fill-opacity="0.55"/>
<circle cx="391.1" cy="218.8" r="0.75" fill="#7eaee6" fill-opacity="0.55"/>
<circle cx="399.9" cy="219.4" r="0.75" fill="#7eaee6" fill-opacity="0.55"/>
<circle cx="349.0" cy="218.4" r="0.75" fill="#7eaee6" fill-opacity="0.55"/>
<circle cx="392.4" cy="218.6" r="0.75" fill="#7eaee6" fill-opacity="0.55"/>
<circle cx="400.5" cy="219.2" r="0.75" fill="#7eaee6" fill-opacity="0.55"/>
<circle cx="420.2" cy="218.5" r="0.75" fill="#7eaee6" fill-opacity="0.55"/>
<circle cx="368.9" cy="219.0" r="0.75" fill="#7eaee6" fill-opacity="0.55"/>
<circle cx="395.0" cy="219.1" r="0.75" fill="#7eaee6" fill-opacity="0.55"/>
<circle cx="422.9" cy="218.4" r="0.75" fill="#7eaee6" fill-opacity="0.55"/>
<circle cx="349.9" cy="218.5" r="0.75" fill="#7eaee6" fill-opacity="0.55"/>
<circle cx="415.0" cy="219.1" r="0.75" fill="#7eaee6" fill-opacity="0.55"/>
<circle cx="372.9" cy="218.8" r="0.75" fill="#7eaee6" fill-opacity="0.55"/>
<circle cx="398.9" cy="219.4" r="0.75" fill="#7eaee6" fill-opacity="0.55"/>
<circle cx="405.5" cy="219.1" r="0.75" fill="#7eaee6" fill-opacity="0.55"/>
<circle cx="400.1" cy="218.3" r="0.75" fill="#7eaee6" fill-opacity="0.55"/>
<circle cx="431.5" cy="218.9" r="0.75" fill="#7eaee6" fill-opacity="0.55"/>
<circle cx="454.9" cy="218.3" r="0.75" fill="#7eaee6" fill-opacity="0.55"/>
<circle cx="379.6" cy="219.0" r="0.75" fill="#7eaee6" fill-opacity="0.55"/>
<circle cx="404.4" cy="219.2" r="0.75" fill="#7eaee6" fill-opacity="0.55"/>
<circle cx="415.4" cy="219.2" r="0.75" fill="#7eaee6" fill-opacity="0.55"/>
<circle cx="372.3" cy="218.4" r="0.75" fill="#7eaee6" fill-opacity="0.55"/>
<circle cx="372.6" cy="218.8" r="0.75" fill="#7eaee6" fill-opacity="0.55"/>
<circle cx="381.9" cy="219.3" r="0.75" fill="#7eaee6" fill-opacity="0.55"/>
<circle cx="373.4" cy="218.6" r="0.75" fill="#7eaee6" fill-opacity="0.55"/>
<circle cx="430.3" cy="218.5" r="0.75" fill="#7eaee6" fill-opacity="0.55"/>
<circle cx="383.7" cy="218.8" r="0.75" fill="#7eaee6" fill-opacity="0.55"/>
<circle cx="416.6" cy="219.0" r="0.75" fill="#7eaee6" fill-opacity="0.55"/>
<circle cx="432.5" cy="218.5" r="0.75" fill="#7eaee6" fill-opacity="0.55"/>
<circle cx="420.9" cy="218.9" r="0.75" fill="#7eaee6" fill-opacity="0.55"/>
<circle cx="398.4" cy="218.3" r="0.75" fill="#7eaee6" fill-opacity="0.55"/>
<circle cx="399.9" cy="219.3" r="0.75" fill="#7eaee6" fill-opacity="0.55"/>
<circle cx="390.1" cy="219.2" r="0.75" fill="#7eaee6" fill-opacity="0.55"/>
<circle cx="430.8" cy="219.2" r="0.75" fill="#7eaee6" fill-opacity="0.55"/>
<circle cx="382.1" cy="218.4" r="0.75" fill="#7eaee6" fill-opacity="0.55"/>
<circle cx="429.9" cy="219.0" r="0.75" fill="#7eaee6" fill-opacity="0.55"/>
<circle cx="398.3" cy="218.8" r="0.75" fill="#7eaee6" fill-opacity="0.55"/>
<circle cx="404.0" cy="218.3" r="0.75" fill="#7eaee6" fill-opacity="0.55"/>
<circle cx="404.2" cy="218.6" r="0.75" fill="#7eaee6" fill-opacity="0.55"/>
<circle cx="357.4" cy="218.9" r="0.75" fill="#7eaee6" fill-opacity="0.55"/>
<circle cx="394.3" cy="218.4" r="0.75" fill="#7eaee6" fill-opacity="0.55"/>
<circle cx="407.9" cy="219.1" r="0.75" fill="#7eaee6" fill-opacity="0.55"/>
<circle cx="390.0" cy="219.1" r="0.75" fill="#7eaee6" fill-opacity="0.55"/>
<circle cx="403.3" cy="219.1" r="0.75" fill="#7eaee6" fill-opacity="0.55"/>
<circle cx="427.5" cy="218.9" r="0.75" fill="#7eaee6" fill-opacity="0.55"/>
<circle cx="430.7" cy="219.0" r="0.75" fill="#7eaee6" fill-opacity="0.55"/>
<circle cx="432.9" cy="218.9" r="0.75" fill="#7eaee6" fill-opacity="0.55"/>
<circle cx="365.5" cy="218.9" r="0.75" fill="#7eaee6" fill-opacity="0.55"/>
<circle cx="380.8" cy="218.3" r="0.75" fill="#7eaee6" fill-opacity="0.55"/>
<circle cx="378.0" cy="218.8" r="0.75" fill="#7eaee6" fill-opacity="0.55"/>
<circle cx="401.6" cy="219.4" r="0.75" fill="#7eaee6" fill-opacity="0.55"/>
<circle cx="390.4" cy="219.4" r="0.75" fill="#7eaee6" fill-opacity="0.55"/>
<circle cx="406.3" cy="218.5" r="0.75" fill="#7eaee6" fill-opacity="0.55"/>
<circle cx="412.1" cy="218.5" r="0.75" fill="#7eaee6" fill-opacity="0.55"/>
<circle cx="421.2" cy="218.7" r="0.75" fill="#7eaee6" fill-opacity="0.55"/>
<circle cx="391.1" cy="218.7" r="0.75" fill="#7eaee6" fill-opacity="0.55"/>
<circle cx="422.6" cy="218.5" r="0.75" fill="#7eaee6" fill-opacity="0.55"/>
<circle cx="421.3" cy="219.1" r="0.75" fill="#7eaee6" fill-opacity="0.55"/>
<circle cx="417.1" cy="219.1" r="0.75" fill="#7eaee6" fill-opacity="0.55"/>
<circle cx="405.0" cy="218.7" r="0.75" fill="#7eaee6" fill-opacity="0.55"/>
<circle cx="379.0" cy="218.5" r="0.75" fill="#7eaee6" fill-opacity="0.55"/>
<circle cx="419.6" cy="218.7" r="0.75" fill="#7eaee6" fill-opacity="0.55"/>
<circle cx="390.9" cy="218.8" r="0.75" fill="#7eaee6" fill-opacity="0.55"/>
<circle cx="372.2" cy="218.9" r="0.75" fill="#7eaee6" fill-opacity="0.55"/>
<circle cx="399.5" cy="218.8" r="0.75" fill="#7eaee6" fill-opacity="0.55"/>
<circle cx="356.1" cy="218.6" r="0.75" fill="#7eaee6" fill-opacity="0.55"/>
<circle cx="408.1" cy="218.4" r="0.75" fill="#7eaee6" fill-opacity="0.55"/>
<circle cx="415.8" cy="218.7" r="0.75" fill="#7eaee6" fill-opacity="0.55"/>
<circle cx="396.5" cy="218.3" r="0.75" fill="#7eaee6" fill-opacity="0.55"/>
<circle cx="407.4" cy="219.3" r="0.75" fill="#7eaee6" fill-opacity="0.55"/>
<circle cx="392.9" cy="218.9" r="0.75" fill="#7eaee6" fill-opacity="0.55"/>
<circle cx="414.7" cy="219.3" r="0.75" fill="#7eaee6" fill-opacity="0.55"/>
<circle cx="408.1" cy="218.6" r="0.75" fill="#7eaee6" fill-opacity="0.55"/>
<circle cx="410.5" cy="219.2" r="0.75" fill="#7eaee6" fill-opacity="0.55"/>
<circle cx="361.5" cy="218.6" r="0.75" fill="#7eaee6" fill-opacity="0.55"/>
<circle cx="396.1" cy="218.4" r="0.75" fill="#7eaee6" fill-opacity="0.55"/>
<circle cx="392.7" cy="218.3" r="0.75" fill="#7eaee6" fill-opacity="0.55"/>
<circle cx="410.9" cy="218.9" r="0.75" fill="#7eaee6" fill-opacity="0.55"/>
<circle cx="448.7" cy="218.8" r="0.75" fill="#7eaee6" fill-opacity="0.55"/>
<circle cx="438.3" cy="219.2" r="0.75" fill="#7eaee6" fill-opacity="0.55"/>
<circle cx="399.5" cy="218.9" r="0.75" fill="#7eaee6" fill-opacity="0.55"/>
<circle cx="384.3" cy="219.2" r="0.75" fill="#7eaee6" fill-opacity="0.55"/>
<circle cx="400.1" cy="219.0" r="0.75" fill="#7eaee6" fill-opacity="0.55"/>
<circle cx="401.1" cy="218.7" r="0.75" fill="#7eaee6" fill-opacity="0.55"/>
<circle cx="398.0" cy="218.9" r="0.75" fill="#7eaee6" fill-opacity="0.55"/>
<circle cx="419.0" cy="218.7" r="0.75" fill="#7eaee6" fill-opacity="0.55"/>
<circle cx="403.8" cy="218.8" r="0.75" fill="#7eaee6" fill-opacity="0.55"/>
<circle cx="453.4" cy="218.5" r="0.75" fill="#7eaee6" fill-opacity="0.55"/>
<circle cx="423.9" cy="218.3" r="0.75" fill="#7eaee6" fill-opacity="0.55"/>
<circle cx="413.8" cy="219.4" r="0.75" fill="#7eaee6" fill-opacity="0.55"/>
<circle cx="411.1" cy="218.5" r="0.75" fill="#7eaee6" fill-opacity="0.55"/>
<circle cx="400.5" cy="218.9" r="0.75" fill="#7eaee6" fill-opacity="0.55"/>
<circle cx="411.9" cy="218.3" r="0.75" fill="#7eaee6" fill-opacity="0.55"/>
<circle cx="408.1" cy="219.2" r="0.75" fill="#7eaee6" fill-opacity="0.55"/>
<circle cx="388.2" cy="218.3" r="0.75" fill="#7eaee6" fill-opacity="0.55"/>
<circle cx="374.7" cy="219.3" r="0.75" fill="#7eaee6" fill-opacity="0.55"/>
<circle cx="388.9" cy="219.3" r="0.75" fill="#7eaee6" fill-opacity="0.55"/>
<circle cx="394.1" cy="219.3" r="0.75" fill="#7eaee6" fill-opacity="0.55"/>
<circle cx="383.0" cy="218.3" r="0.75" fill="#7eaee6" fill-opacity="0.55"/>
<circle cx="378.7" cy="219.3" r="0.75" fill="#7eaee6" fill-opacity="0.55"/>
<circle cx="375.8" cy="218.4" r="0.75" fill="#7eaee6" fill-opacity="0.55"/>
<circle cx="437.0" cy="218.9" r="0.75" fill="#7eaee6" fill-opacity="0.55"/>
<circle cx="417.5" cy="219.0" r="0.75" fill="#7eaee6" fill-opacity="0.55"/>
<circle cx="360.0" cy="219.1" r="0.75" fill="#7eaee6" fill-opacity="0.55"/>
<circle cx="387.3" cy="219.2" r="0.75" fill="#7eaee6" fill-opacity="0.55"/>
<circle cx="387.7" cy="219.3" r="0.75" fill="#7eaee6" fill-opacity="0.55"/>
<circle cx="399.4" cy="219.2" r="0.75" fill="#7eaee6" fill-opacity="0.55"/>
<circle cx="414.1" cy="219.0" r="0.75" fill="#7eaee6" fill-opacity="0.55"/>
<circle cx="405.8" cy="219.0" r="0.75" fill="#7eaee6" fill-opacity="0.55"/>
<circle cx="402.8" cy="218.8" r="0.75" fill="#7eaee6" fill-opacity="0.55"/>
<circle cx="385.8" cy="219.2" r="0.75" fill="#7eaee6" fill-opacity="0.55"/>
<circle cx="399.7" cy="219.1" r="0.75" fill="#7eaee6" fill-opacity="0.55"/>
<circle cx="404.8" cy="219.4" r="0.75" fill="#7eaee6" fill-opacity="0.55"/>
<circle cx="399.2" cy="219.2" r="0.75" fill="#7eaee6" fill-opacity="0.55"/>
<circle cx="377.5" cy="218.8" r="0.75" fill="#7eaee6" fill-opacity="0.55"/>
<circle cx="410.2" cy="218.4" r="0.75" fill="#7eaee6" fill-opacity="0.55"/>
<circle cx="398.1" cy="218.9" r="0.75" fill="#7eaee6" fill-opacity="0.55"/>
<circle cx="365.1" cy="218.9" r="0.75" fill="#7eaee6" fill-opacity="0.55"/>
<circle cx="403.0" cy="218.8" r="0.75" fill="#7eaee6" fill-opacity="0.55"/>
<circle cx="380.8" cy="219.0" r="0.75" fill="#7eaee6" fill-opacity="0.55"/>
<circle cx="351.0" cy="218.4" r="0.75" fill="#7eaee6" fill-opacity="0.55"/>
<circle cx="394.4" cy="218.9" r="0.75" fill="#7eaee6" fill-opacity="0.55"/>
<circle cx="375.3" cy="219.0" r="0.75" fill="#7eaee6" fill-opacity="0.55"/>
<circle cx="411.4" cy="219.3" r="0.75" fill="#7eaee6" fill-opacity="0.55"/>
<circle cx="405.2" cy="218.5" r="0.75" fill="#7eaee6" fill-opacity="0.55"/>
<circle cx="401.4" cy="219.3" r="0.75" fill="#7eaee6" fill-opacity="0.55"/>
<circle cx="413.3" cy="218.4" r="0.75" fill="#7eaee6" fill-opacity="0.55"/>
<circle cx="421.6" cy="219.1" r="0.75" fill="#7eaee6" fill-opacity="0.55"/>
<circle cx="380.9" cy="219.1" r="0.75" fill="#7eaee6" fill-opacity="0.55"/>
<circle cx="396.1" cy="219.2" r="0.75" fill="#7eaee6" fill-opacity="0.55"/>
<circle cx="422.5" cy="218.9" r="0.75" fill="#7eaee6" fill-opacity="0.55"/>
<circle cx="397.7" cy="218.3" r="0.75" fill="#7eaee6" fill-opacity="0.55"/>
<circle cx="451.1" cy="218.8" r="0.75" fill="#7eaee6" fill-opacity="0.55"/>
<circle cx="403.6" cy="219.0" r="0.75" fill="#7eaee6" fill-opacity="0.55"/>
<circle cx="452.0" cy="219.0" r="0.75" fill="#7eaee6" fill-opacity="0.55"/>
<circle cx="420.8" cy="218.8" r="0.75" fill="#7eaee6" fill-opacity="0.55"/>
<circle cx="401.9" cy="218.8" r="0.75" fill="#7eaee6" fill-opacity="0.55"/>
<circle cx="408.8" cy="219.4" r="0.75" fill="#7eaee6" fill-opacity="0.55"/>
<circle cx="423.7" cy="219.1" r="0.75" fill="#7eaee6" fill-opacity="0.55"/>
<circle cx="418.3" cy="219.4" r="0.75" fill="#7eaee6" fill-opacity="0.55"/>
<circle cx="412.2" cy="219.4" r="0.75" fill="#7eaee6" fill-opacity="0.55"/>
<circle cx="397.1" cy="218.7" r="0.75" fill="#7eaee6" fill-opacity="0.55"/>
<circle cx="415.1" cy="218.8" r="0.75" fill="#7eaee6" fill-opacity="0.55"/>
<circle cx="401.9" cy="218.6" r="0.75" fill="#7eaee6" fill-opacity="0.55"/>
<circle cx="373.5" cy="218.4" r="0.75" fill="#7eaee6" fill-opacity="0.55"/>
<circle cx="388.6" cy="218.2" r="0.75" fill="#7eaee6" fill-opacity="0.55"/>
<circle cx="412.8" cy="219.2" r="0.75" fill="#7eaee6" fill-opacity="0.55"/>
<circle cx="397.3" cy="219.3" r="0.75" fill="#7eaee6" fill-opacity="0.55"/>
<circle cx="374.4" cy="218.4" r="0.75" fill="#7eaee6" fill-opacity="0.55"/>
<circle cx="423.0" cy="218.5" r="0.75" fill="#7eaee6" fill-opacity="0.55"/>
<circle cx="384.7" cy="218.4" r="0.75" fill="#7eaee6" fill-opacity="0.55"/>
<circle cx="416.9" cy="218.8" r="0.75" fill="#7eaee6" fill-opacity="0.55"/>
<circle cx="419.9" cy="218.4" r="0.75" fill="#7eaee6" fill-opacity="0.55"/>
<circle cx="414.0" cy="218.7" r="0.75" fill="#7eaee6" fill-opacity="0.55"/>
<circle cx="367.7" cy="218.4" r="0.75" fill="#7eaee6" fill-opacity="0.55"/>
<circle cx="389.6" cy="219.1" r="0.75" fill="#7eaee6" fill-opacity="0.55"/>
<circle cx="374.7" cy="219.4" r="0.75" fill="#7eaee6" fill-opacity="0.55"/>
<circle cx="414.1" cy="219.3" r="0.75" fill="#7eaee6" fill-opacity="0.55"/>
<circle cx="415.4" cy="218.4" r="0.75" fill="#7eaee6" fill-opacity="0.55"/>
<circle cx="376.4" cy="218.7" r="0.75" fill="#7eaee6" fill-opacity="0.55"/>
<circle cx="392.0" cy="218.6" r="0.75" fill="#7eaee6" fill-opacity="0.55"/>
<circle cx="400.2" cy="218.5" r="0.75" fill="#7eaee6" fill-opacity="0.55"/>
<circle cx="401.9" cy="218.5" r="0.75" fill="#7eaee6" fill-opacity="0.55"/>
<circle cx="377.9" cy="218.6" r="0.75" fill="#7eaee6" fill-opacity="0.55"/>
<circle cx="401.4" cy="219.3" r="0.75" fill="#7eaee6" fill-opacity="0.55"/>
<circle cx="400.6" cy="219.3" r="0.75" fill="#7eaee6" fill-opacity="0.55"/>
<circle cx="387.1" cy="219.1" r="0.75" fill="#7eaee6" fill-opacity="0.55"/>
<circle cx="400.1" cy="218.5" r="0.75" fill="#7eaee6" fill-opacity="0.55"/>
<circle cx="388.8" cy="218.3" r="0.75" fill="#7eaee6" fill-opacity="0.55"/>
<circle cx="382.8" cy="218.8" r="0.75" fill="#7eaee6" fill-opacity="0.55"/>
<circle cx="402.5" cy="218.6" r="0.75" fill="#7eaee6" fill-opacity="0.55"/>
<circle cx="404.7" cy="218.6" r="0.75" fill="#7eaee6" fill-opacity="0.55"/>
<circle cx="375.2" cy="219.3" r="0.75" fill="#7eaee6" fill-opacity="0.55"/>
<circle cx="410.7" cy="218.5" r="0.75" fill="#7eaee6" fill-opacity="0.55"/>
<circle cx="413.6" cy="219.0" r="0.75" fill="#7eaee6" fill-opacity="0.55"/>
<circle cx="399.0" cy="219.3" r="0.75" fill="#7eaee6" fill-opacity="0.55"/>
<circle cx="400.5" cy="219.1" r="0.75" fill="#7eaee6" fill-opacity="0.55"/>
<circle cx="387.8" cy="218.6" r="0.75" fill="#7eaee6" fill-opacity="0.55"/>
<circle cx="375.6" cy="219.1" r="0.75" fill="#7eaee6" fill-opacity="0.55"/>
<circle cx="380.3" cy="218.9" r="0.75" fill="#7eaee6" fill-opacity="0.55"/>
<circle cx="399.6" cy="219.3" r="0.75" fill="#7eaee6" fill-opacity="0.55"/>
<circle cx="411.9" cy="218.3" r="0.75" fill="#7eaee6" fill-opacity="0.55"/>
<circle cx="393.8" cy="218.3" r="0.75" fill="#7eaee6" fill-opacity="0.55"/>
<circle cx="423.1" cy="218.4" r="0.75" fill="#7eaee6" fill-opacity="0.55"/>
<circle cx="404.2" cy="218.3" r="0.75" fill="#7eaee6" fill-opacity="0.55"/>
<circle cx="387.3" cy="219.2" r="0.75" fill="#7eaee6" fill-opacity="0.55"/>
<circle cx="406.6" cy="218.3" r="0.75" fill="#7eaee6" fill-opacity="0.55"/>
<circle cx="408.0" cy="219.2" r="0.75" fill="#7eaee6" fill-opacity="0.55"/>
<circle cx="426.6" cy="218.8" r="0.75" fill="#7eaee6" fill-opacity="0.55"/>
<circle cx="411.7" cy="218.4" r="0.75" fill="#7eaee6" fill-opacity="0.55"/>
<circle cx="398.8" cy="218.8" r="0.75" fill="#7eaee6" fill-opacity="0.55"/>
<circle cx="424.7" cy="219.1" r="0.75" fill="#7eaee6" fill-opacity="0.55"/>
<circle cx="382.1" cy="218.3" r="0.75" fill="#7eaee6" fill-opacity="0.55"/>
<circle cx="397.5" cy="219.4" r="0.75" fill="#7eaee6" fill-opacity="0.55"/>
<circle cx="402.2" cy="218.8" r="0.75" fill="#7eaee6" fill-opacity="0.55"/>
<circle cx="386.2" cy="219.2" r="0.75" fill="#7eaee6" fill-opacity="0.55"/>
<circle cx="406.8" cy="219.0" r="0.75" fill="#7eaee6" fill-opacity="0.55"/>
<circle cx="386.9" cy="219.4" r="0.75" fill="#7eaee6" fill-opacity="0.55"/>
<circle cx="435.7" cy="218.5" r="0.75" fill="#7eaee6" fill-opacity="0.55"/>
<circle cx="407.0" cy="218.3" r="0.75" fill="#7eaee6" fill-opacity="0.55"/>
<circle cx="393.5" cy="218.6" r="0.75" fill="#7eaee6" fill-opacity="0.55"/>
<circle cx="414.8" cy="219.0" r="0.75" fill="#7eaee6" fill-opacity="0.55"/>
<circle cx="392.5" cy="218.9" r="0.75" fill="#7eaee6" fill-opacity="0.55"/>
<circle cx="427.6" cy="219.0" r="0.75" fill="#7eaee6" fill-opacity="0.55"/>
<circle cx="401.6" cy="218.9" r="0.75" fill="#7eaee6" fill-opacity="0.55"/>
<circle cx="400.8" cy="219.3" r="0.75" fill="#7eaee6" fill-opacity="0.55"/>
<circle cx="407.8" cy="218.4" r="0.75" fill="#7eaee6" fill-opacity="0.55"/>
<circle cx="391.7" cy="219.1" r="0.75" fill="#7eaee6" fill-opacity="0.55"/>
<circle cx="446.0" cy="219.1" r="0.75" fill="#7eaee6" fill-opacity="0.55"/>
<circle cx="389.3" cy="219.0" r="0.75" fill="#7eaee6" fill-opacity="0.55"/>
<circle cx="400.9" cy="218.3" r="0.75" fill="#7eaee6" fill-opacity="0.55"/>
<circle cx="428.2" cy="218.7" r="0.75" fill="#7eaee6" fill-opacity="0.55"/>
<circle cx="378.3" cy="218.3" r="0.75" fill="#7eaee6" fill-opacity="0.55"/>
<circle cx="424.5" cy="218.6" r="0.75" fill="#7eaee6" fill-opacity="0.55"/>
<circle cx="392.9" cy="219.3" r="0.75" fill="#7eaee6" fill-opacity="0.55"/>
<circle cx="399.5" cy="218.5" r="0.75" fill="#7eaee6" fill-opacity="0.55"/>
<circle cx="380.8" cy="218.6" r="0.75" fill="#7eaee6" fill-opacity="0.55"/>
<circle cx="398.9" cy="218.9" r="0.6" fill="#8ab4e6" fill-opacity="0.6"/>
<circle cx="408.0" cy="215.5" r="0.6" fill="#8ab4e6" fill-opacity="0.6"/>
<circle cx="401.5" cy="219.4" r="0.6" fill="#8ab4e6" fill-opacity="0.6"/>
<circle cx="399.0" cy="217.7" r="0.6" fill="#8ab4e6" fill-opacity="0.6"/>
<circle cx="408.7" cy="212.4" r="0.6" fill="#8ab4e6" fill-opacity="0.6"/>
<circle cx="404.1" cy="218.7" r="0.6" fill="#8ab4e6" fill-opacity="0.6"/>
<circle cx="402.7" cy="219.3" r="0.6" fill="#8ab4e6" fill-opacity="0.6"/>
<circle cx="397.2" cy="216.9" r="0.6" fill="#8ab4e6" fill-opacity="0.6"/>
<circle cx="397.8" cy="215.1" r="0.6" fill="#8ab4e6" fill-opacity="0.6"/>
<circle cx="401.9" cy="219.4" r="0.6" fill="#8ab4e6" fill-opacity="0.6"/>
<circle cx="407.7" cy="209.7" r="0.6" fill="#8ab4e6" fill-opacity="0.6"/>
<circle cx="401.2" cy="219.4" r="0.6" fill="#8ab4e6" fill-opacity="0.6"/>
<circle cx="397.5" cy="217.9" r="0.6" fill="#8ab4e6" fill-opacity="0.6"/>
<circle cx="399.7" cy="219.1" r="0.6" fill="#8ab4e6" fill-opacity="0.6"/>
<circle cx="398.2" cy="217.6" r="0.6" fill="#8ab4e6" fill-opacity="0.6"/>
<circle cx="402.9" cy="219.2" r="0.6" fill="#8ab4e6" fill-opacity="0.6"/>
<circle cx="405.5" cy="217.2" r="0.6" fill="#8ab4e6" fill-opacity="0.6"/>
<circle cx="400.7" cy="219.2" r="0.6" fill="#8ab4e6" fill-opacity="0.6"/>
<circle cx="400.2" cy="219.0" r="0.6" fill="#8ab4e6" fill-opacity="0.6"/>
<circle cx="395.7" cy="213.4" r="0.6" fill="#8ab4e6" fill-opacity="0.6"/>
<circle cx="408.6" cy="214.7" r="0.6" fill="#8ab4e6" fill-opacity="0.6"/>
<circle cx="402.0" cy="219.4" r="0.6" fill="#8ab4e6" fill-opacity="0.6"/>
<circle cx="407.1" cy="215.8" r="0.6" fill="#8ab4e6" fill-opacity="0.6"/>
<circle cx="398.7" cy="218.1" r="0.6" fill="#8ab4e6" fill-opacity="0.6"/>
<circle cx="400.5" cy="219.1" r="0.6" fill="#8ab4e6" fill-opacity="0.6"/>
<circle cx="408.4" cy="208.0" r="0.6" fill="#8ab4e6" fill-opacity="0.6"/>
<circle cx="407.2" cy="218.2" r="0.6" fill="#8ab4e6" fill-opacity="0.6"/>
<circle cx="395.2" cy="208.3" r="0.6" fill="#8ab4e6" fill-opacity="0.6"/>
<circle cx="407.6" cy="213.1" r="0.6" fill="#8ab4e6" fill-opacity="0.6"/>
<circle cx="403.2" cy="219.4" r="0.6" fill="#8ab4e6" fill-opacity="0.6"/>
<circle cx="400.4" cy="219.0" r="0.6" fill="#8ab4e6" fill-opacity="0.6"/>
<circle cx="406.6" cy="213.8" r="0.6" fill="#8ab4e6" fill-opacity="0.6"/>
<circle cx="408.7" cy="212.7" r="0.6" fill="#8ab4e6" fill-opacity="0.6"/>
<circle cx="396.3" cy="215.9" r="0.6" fill="#8ab4e6" fill-opacity="0.6"/>
<circle cx="402.2" cy="219.4" r="0.6" fill="#8ab4e6" fill-opacity="0.6"/>
<circle cx="408.2" cy="209.5" r="0.6" fill="#8ab4e6" fill-opacity="0.6"/>
<circle cx="404.0" cy="218.4" r="0.6" fill="#8ab4e6" fill-opacity="0.6"/>
<circle cx="401.3" cy="219.4" r="0.6" fill="#8ab4e6" fill-opacity="0.6"/>
<circle cx="395.4" cy="208.2" r="0.6" fill="#8ab4e6" fill-opacity="0.6"/>
<circle cx="398.1" cy="215.8" r="0.6" fill="#8ab4e6" fill-opacity="0.6"/>
<circle cx="404.0" cy="218.8" r="0.6" fill="#8ab4e6" fill-opacity="0.6"/>
<circle cx="396.6" cy="215.5" r="0.6" fill="#8ab4e6" fill-opacity="0.6"/>
<circle cx="403.9" cy="218.6" r="0.6" fill="#8ab4e6" fill-opacity="0.6"/>
<circle cx="396.4" cy="217.1" r="0.6" fill="#8ab4e6" fill-opacity="0.6"/>
<circle cx="402.3" cy="219.4" r="0.6" fill="#8ab4e6" fill-opacity="0.6"/>
<circle cx="400.3" cy="219.2" r="0.6" fill="#8ab4e6" fill-opacity="0.6"/>
<circle cx="403.4" cy="219.3" r="0.6" fill="#8ab4e6" fill-opacity="0.6"/>
<circle cx="399.1" cy="218.1" r="0.6" fill="#8ab4e6" fill-opacity="0.6"/>
<circle cx="408.5" cy="209.2" r="0.6" fill="#8ab4e6" fill-opacity="0.6"/>
<circle cx="407.4" cy="213.5" r="0.6" fill="#8ab4e6" fill-opacity="0.6"/>
<circle cx="398.1" cy="217.6" r="0.6" fill="#8ab4e6" fill-opacity="0.6"/>
<circle cx="408.5" cy="208.7" r="0.6" fill="#8ab4e6" fill-opacity="0.6"/>
<circle cx="399.2" cy="219.1" r="0.6" fill="#8ab4e6" fill-opacity="0.6"/>
<circle cx="401.9" cy="219.4" r="0.6" fill="#8ab4e6" fill-opacity="0.6"/>
<circle cx="400.8" cy="219.3" r="0.6" fill="#8ab4e6" fill-opacity="0.6"/>
<circle cx="404.3" cy="218.0" r="0.6" fill="#8ab4e6" fill-opacity="0.6"/>
<circle cx="398.0" cy="218.7" r="0.6" fill="#8ab4e6" fill-opacity="0.6"/>
<circle cx="399.6" cy="218.6" r="0.6" fill="#8ab4e6" fill-opacity="0.6"/>
<circle cx="404.5" cy="218.6" r="0.6" fill="#8ab4e6" fill-opacity="0.6"/>
<circle cx="406.2" cy="215.1" r="0.6" fill="#8ab4e6" fill-opacity="0.6"/>
<circle cx="402.0" cy="219.4" r="0.6" fill="#8ab4e6" fill-opacity="0.6"/>
<circle cx="408.6" cy="211.9" r="0.6" fill="#8ab4e6" fill-opacity="0.6"/>
<circle cx="406.5" cy="216.6" r="0.6" fill="#8ab4e6" fill-opacity="0.6"/>
<circle cx="397.9" cy="215.8" r="0.6" fill="#8ab4e6" fill-opacity="0.6"/>
<circle cx="399.0" cy="217.4" r="0.6" fill="#8ab4e6" fill-opacity="0.6"/>
<circle cx="401.9" cy="219.4" r="0.6" fill="#8ab4e6" fill-opacity="0.6"/>
<circle cx="398.0" cy="216.8" r="0.6" fill="#8ab4e6" fill-opacity="0.6"/>
<circle cx="404.3" cy="218.0" r="0.6" fill="#8ab4e6" fill-opacity="0.6"/>
<circle cx="396.9" cy="215.0" r="0.6" fill="#8ab4e6" fill-opacity="0.6"/>
<circle cx="397.8" cy="215.1" r="0.6" fill="#8ab4e6" fill-opacity="0.6"/>
<circle cx="396.8" cy="217.8" r="0.6" fill="#8ab4e6" fill-opacity="0.6"/>
<circle cx="395.6" cy="212.2" r="0.6" fill="#8ab4e6" fill-opacity="0.6"/>
<circle cx="407.6" cy="210.6" r="0.6" fill="#8ab4e6" fill-opacity="0.6"/>
<circle cx="405.2" cy="216.4" r="0.6" fill="#8ab4e6" fill-opacity="0.6"/>
<circle cx="408.1" cy="213.0" r="0.6" fill="#8ab4e6" fill-opacity="0.6"/>
<circle cx="397.4" cy="214.2" r="0.6" fill="#8ab4e6" fill-opacity="0.6"/>
<circle cx="405.4" cy="218.8" r="0.6" fill="#8ab4e6" fill-opacity="0.6"/>
<circle cx="404.3" cy="218.5" r="0.6" fill="#8ab4e6" fill-opacity="0.6"/>
<circle cx="400.1" cy="219.0" r="0.6" fill="#8ab4e6" fill-opacity="0.6"/>
<circle cx="397.2" cy="219.1" r="0.6" fill="#8ab4e6" fill-opacity="0.6"/>
<circle cx="398.8" cy="218.0" r="0.6" fill="#8ab4e6" fill-opacity="0.6"/>
<circle cx="408.4" cy="215.0" r="0.6" fill="#8ab4e6" fill-opacity="0.6"/>
<circle cx="408.5" cy="213.5" r="0.6" fill="#8ab4e6" fill-opacity="0.6"/>
<circle cx="399.9" cy="218.6" r="0.6" fill="#8ab4e6" fill-opacity="0.6"/>
<circle cx="406.5" cy="215.5" r="0.6" fill="#8ab4e6" fill-opacity="0.6"/>
<circle cx="395.5" cy="211.1" r="0.6" fill="#8ab4e6" fill-opacity="0.6"/>
<circle cx="400.1" cy="218.8" r="0.6" fill="#8ab4e6" fill-opacity="0.6"/>
<circle cx="397.5" cy="216.3" r="0.6" fill="#8ab4e6" fill-opacity="0.6"/>
<circle cx="407.6" cy="217.8" r="0.6" fill="#8ab4e6" fill-opacity="0.6"/>
<circle cx="400.6" cy="219.1" r="0.6" fill="#8ab4e6" fill-opacity="0.6"/>
<circle cx="395.2" cy="204.4" r="1.15" fill="#d00000" stroke="#400000" stroke-width="0.55"/>
<circle cx="355.4" cy="217.9" r="1.15" fill="#d00000" stroke="#400000" stroke-width="0.55"/>
<circle cx="372.3" cy="216.5" r="1.15" fill="#d00000" stroke="#400000" stroke-width="0.55"/>
<circle cx="374.6" cy="216.2" r="1.15" fill="#d00000" stroke="#400000" stroke-width="0.55"/>
<circle cx="412.5" cy="209.2" r="1.15" fill="#d00000" stroke="#400000" stroke-width="0.55"/>
<circle cx="432.7" cy="214.2" r="1.15" fill="#d00000" stroke="#400000" stroke-width="0.55"/>
<circle cx="392.9" cy="215.0" r="1.15" fill="#d00000" stroke="#400000" stroke-width="0.55"/>
<circle cx="393.5" cy="217.0" r="1.15" fill="#d00000" stroke="#400000" stroke-width="0.55"/>
<circle cx="411.2" cy="217.0" r="1.15" fill="#d00000" stroke="#400000" stroke-width="0.55"/>
<circle cx="414.0" cy="214.6" r="1.15" fill="#d00000" stroke="#400000" stroke-width="0.55"/>
<circle cx="416.5" cy="217.0" r="1.15" fill="#d00000" stroke="#400000" stroke-width="0.55"/>
<circle cx="419.8" cy="215.0" r="1.15" fill="#d00000" stroke="#400000" stroke-width="0.55"/>
<circle cx="421.7" cy="217.9" r="1.15" fill="#d00000" stroke="#400000" stroke-width="0.55"/>
<circle cx="428.0" cy="217.9" r="1.15" fill="#d00000" stroke="#400000" stroke-width="0.55"/>
<circle cx="479.1" cy="217.7" r="1.15" fill="#d00000" stroke="#400000" stroke-width="0.55"/>
<circle cx="483.1" cy="217.7" r="1.15" fill="#d00000" stroke="#400000" stroke-width="0.55"/>
<circle cx="391.5" cy="219.8" r="1.25" fill="#d8cc20" stroke="#403800" stroke-width="0.6"/>
<circle cx="410.2" cy="219.8" r="1.25" fill="#d8cc20" stroke="#403800" stroke-width="0.6"/>
<circle cx="416.9" cy="219.8" r="1.25" fill="#d8cc20" stroke="#403800" stroke-width="0.6"/>
<circle cx="399.2" cy="219.8" r="1.25" fill="#7a30a0" stroke="#2a0838" stroke-width="0.6"/>
<circle cx="402.5" cy="219.8" r="1.25" fill="#7a30a0" stroke="#2a0838" stroke-width="0.6"/>
<circle cx="482.3" cy="28.8" r="1.15" fill="#d8861c" stroke="#5a3000" stroke-width="0.5"/>
<circle cx="457.5" cy="151.8" r="1.15" fill="#d8861c" stroke="#5a3000" stroke-width="0.5"/>
<circle cx="472.4" cy="204.3" r="1.15" fill="#d8861c" stroke="#5a3000" stroke-width="0.5"/>
<circle cx="482.6" cy="212.4" r="1.15" fill="#d8861c" stroke="#5a3000" stroke-width="0.5"/>
<line x1="302.20" y1="26.00" x2="302.20" y2="223.50" stroke="#000" stroke-width="1.8"/>
<line x1="301.40" y1="222.70" x2="501.20" y2="222.70" stroke="#000" stroke-width="1.8"/>
<line x1="298.60" y1="219.40" x2="302.20" y2="219.40" stroke="#111" stroke-width="1.0"/>
<text x="294.20" y="222.35" font-size="8.2" text-anchor="end" fill="#111" stroke="#111" stroke-width="0.2">0</text>
<line x1="298.60" y1="195.90" x2="302.20" y2="195.90" stroke="#111" stroke-width="1.0"/>
<text x="294.20" y="198.85" font-size="8.2" text-anchor="end" fill="#111" stroke="#111" stroke-width="0.2">20</text>
<line x1="298.60" y1="172.40" x2="302.20" y2="172.40" stroke="#111" stroke-width="1.0"/>
<text x="294.20" y="175.35" font-size="8.2" text-anchor="end" fill="#111" stroke="#111" stroke-width="0.2">40</text>
<line x1="298.60" y1="148.90" x2="302.20" y2="148.90" stroke="#111" stroke-width="1.0"/>
<text x="294.20" y="151.85" font-size="8.2" text-anchor="end" fill="#111" stroke="#111" stroke-width="0.2">60</text>
<line x1="298.60" y1="125.40" x2="302.20" y2="125.40" stroke="#111" stroke-width="1.0"/>
<text x="294.20" y="128.35" font-size="8.2" text-anchor="end" fill="#111" stroke="#111" stroke-width="0.2">80</text>
<line x1="298.60" y1="101.90" x2="302.20" y2="101.90" stroke="#111" stroke-width="1.0"/>
<text x="294.20" y="104.85" font-size="8.2" text-anchor="end" fill="#111" stroke="#111" stroke-width="0.2">100</text>
<line x1="298.60" y1="78.40" x2="302.20" y2="78.40" stroke="#111" stroke-width="1.0"/>
<text x="294.20" y="81.35" font-size="8.2" text-anchor="end" fill="#111" stroke="#111" stroke-width="0.2">120</text>
<line x1="298.60" y1="54.90" x2="302.20" y2="54.90" stroke="#111" stroke-width="1.0"/>
<text x="294.20" y="57.85" font-size="8.2" text-anchor="end" fill="#111" stroke="#111" stroke-width="0.2">140</text>
<line x1="298.60" y1="31.40" x2="302.20" y2="31.40" stroke="#111" stroke-width="1.0"/>
<text x="294.20" y="34.35" font-size="8.2" text-anchor="end" fill="#111" stroke="#111" stroke-width="0.2">160</text>
<line x1="305.08" y1="222.70" x2="305.08" y2="226.50" stroke="#111" stroke-width="1.0"/>
<text x="305.08" y="238.40" font-size="9.6" text-anchor="middle" fill="#111" stroke="#111" stroke-width="0.2">−8</text>
<line x1="329.26" y1="222.70" x2="329.26" y2="226.50" stroke="#111" stroke-width="1.0"/>
<text x="329.26" y="238.40" font-size="9.6" text-anchor="middle" fill="#111" stroke="#111" stroke-width="0.2">−6</text>
<line x1="353.44" y1="222.70" x2="353.44" y2="226.50" stroke="#111" stroke-width="1.0"/>
<text x="353.44" y="238.40" font-size="9.6" text-anchor="middle" fill="#111" stroke="#111" stroke-width="0.2">−4</text>
<line x1="377.62" y1="222.70" x2="377.62" y2="226.50" stroke="#111" stroke-width="1.0"/>
<text x="377.62" y="238.40" font-size="9.6" text-anchor="middle" fill="#111" stroke="#111" stroke-width="0.2">−2</text>
<line x1="401.80" y1="222.70" x2="401.80" y2="226.50" stroke="#111" stroke-width="1.0"/>
<text x="401.80" y="238.40" font-size="9.6" text-anchor="middle" fill="#111" stroke="#111" stroke-width="0.2">0</text>
<line x1="425.98" y1="222.70" x2="425.98" y2="226.50" stroke="#111" stroke-width="1.0"/>
<text x="425.98" y="238.40" font-size="9.6" text-anchor="middle" fill="#111" stroke="#111" stroke-width="0.2">2</text>
<line x1="450.16" y1="222.70" x2="450.16" y2="226.50" stroke="#111" stroke-width="1.0"/>
<text x="450.16" y="238.40" font-size="9.6" text-anchor="middle" fill="#111" stroke="#111" stroke-width="0.2">4</text>
<line x1="474.34" y1="222.70" x2="474.34" y2="226.50" stroke="#111" stroke-width="1.0"/>
<text x="474.34" y="238.40" font-size="9.6" text-anchor="middle" fill="#111" stroke="#111" stroke-width="0.2">6</text>
<line x1="498.52" y1="222.70" x2="498.52" y2="226.50" stroke="#111" stroke-width="1.0"/>
<text x="498.52" y="238.40" font-size="9.6" text-anchor="middle" fill="#111" stroke="#111" stroke-width="0.2">8</text>
<text font-size="11" text-anchor="middle" fill="#111" transform="translate(269.5,124.1) rotate(-90) scale(0.8,1)">-Log<tspan font-size="9" dy="5">10</tspan><tspan dy="-5">Padj</tspan></text>
<text x="386.70" y="19.10" font-size="12" text-anchor="start" fill="#111" stroke="#111" stroke-width="0.2" textLength="30.50" lengthAdjust="spacingAndGlyphs">Day 8</text>
<text x="313.40" y="70.20" font-size="9.6" text-anchor="start" fill="#111" stroke="#111" stroke-width="0.2" textLength="62.80" lengthAdjust="spacingAndGlyphs">A-cell enriched</text>
<text x="319.40" y="80.60" font-size="9.6" text-anchor="start" fill="#111" stroke="#111" stroke-width="0.2" textLength="51.10" lengthAdjust="spacingAndGlyphs">8 transcripts</text>
<text x="419.80" y="69.20" font-size="9.6" text-anchor="start" fill="#111" stroke="#111" stroke-width="0.2" textLength="61.20" lengthAdjust="spacingAndGlyphs">F-cell enriched</text>
<text x="421.70" y="81.20" font-size="9.6" text-anchor="start" fill="#111" stroke="#111" stroke-width="0.2" textLength="56.60" lengthAdjust="spacingAndGlyphs">25 transcripts</text>
<text x="473.70" y="41.00" font-size="9.6" text-anchor="start" fill="#111" stroke="#111" stroke-width="0.2" textLength="24.80" lengthAdjust="spacingAndGlyphs">HBG2</text>
<text x="470.70" y="156.10" font-size="9.6" text-anchor="start" fill="#111" stroke="#111" stroke-width="0.2" textLength="27.00" lengthAdjust="spacingAndGlyphs">BGLT3</text>
<text x="441.90" y="200.00" font-size="9.6" text-anchor="start" fill="#111" stroke="#111" stroke-width="0.2" textLength="33.70" lengthAdjust="spacingAndGlyphs">HBG1/2</text>
<text x="486.90" y="207.30" font-size="9.6" text-anchor="start" fill="#111" stroke="#111" stroke-width="0.2" textLength="23.70" lengthAdjust="spacingAndGlyphs">HBG1</text>
<text x="317.50" y="144.60" font-size="9.0" text-anchor="start" fill="#111" stroke="#111" stroke-width="0.2" textLength="18.70" lengthAdjust="spacingAndGlyphs">DEG</text>
<text x="317.50" y="158.30" font-size="9.0" text-anchor="start" fill="#111" stroke="#111" stroke-width="0.2" textLength="31.60" lengthAdjust="spacingAndGlyphs">Globins</text>
<text x="317.50" y="171.90" font-size="9.0" text-anchor="start" fill="#111" stroke="#111" stroke-width="0.2" textLength="44.00" lengthAdjust="spacingAndGlyphs">Regulators</text>
<circle cx="350.30" cy="141.10" r="3.70" fill="#ff1010" stroke="#111" stroke-width="0.9"/>
<circle cx="363.40" cy="154.90" r="3.70" fill="#ffff20" stroke="#111" stroke-width="0.9"/>
<circle cx="377.70" cy="168.20" r="3.70" fill="#800080" stroke="#111" stroke-width="0.9"/>
<line x1="395.65" y1="288.50" x2="395.65" y2="472.00" stroke="#e2e2e2" stroke-width="1.3"/>
<line x1="407.85" y1="288.50" x2="407.85" y2="472.00" stroke="#e2e2e2" stroke-width="1.3"/>
<line x1="300.30" y1="460.20" x2="503.30" y2="460.20" stroke="#e2e2e2" stroke-width="1.2"/>
<circle cx="448.2" cy="464.9" r="0.7" fill="#9cc0ea" fill-opacity="0.6"/>
<circle cx="322.9" cy="464.8" r="0.7" fill="#9cc0ea" fill-opacity="0.6"/>
<circle cx="474.4" cy="464.7" r="0.7" fill="#9cc0ea" fill-opacity="0.6"/>
<circle cx="444.8" cy="464.1" r="0.7" fill="#9cc0ea" fill-opacity="0.6"/>
<circle cx="374.9" cy="464.7" r="0.7" fill="#9cc0ea" fill-opacity="0.6"/>
<circle cx="480.9" cy="464.3" r="0.7" fill="#9cc0ea" fill-opacity="0.6"/>
<circle cx="361.8" cy="464.3" r="0.7" fill="#9cc0ea" fill-opacity="0.6"/>
<circle cx="371.1" cy="464.7" r="0.7" fill="#9cc0ea" fill-opacity="0.6"/>
<circle cx="317.5" cy="464.2" r="0.7" fill="#9cc0ea" fill-opacity="0.6"/>
<circle cx="473.8" cy="464.3" r="0.7" fill="#9cc0ea" fill-opacity="0.6"/>
<circle cx="478.4" cy="464.9" r="0.7" fill="#9cc0ea" fill-opacity="0.6"/>
<circle cx="356.9" cy="464.5" r="0.7" fill="#9cc0ea" fill-opacity="0.6"/>
<circle cx="480.7" cy="464.0" r="0.7" fill="#9cc0ea" fill-opacity="0.6"/>
<circle cx="383.1" cy="464.7" r="0.7" fill="#9cc0ea" fill-opacity="0.6"/>
<circle cx="390.5" cy="464.5" r="0.7" fill="#9cc0ea" fill-opacity="0.6"/>
<circle cx="475.8" cy="464.7" r="0.7" fill="#9cc0ea" fill-opacity="0.6"/>
<circle cx="454.3" cy="464.2" r="0.7" fill="#9cc0ea" fill-opacity="0.6"/>
<circle cx="457.8" cy="464.2" r="0.7" fill="#9cc0ea" fill-opacity="0.6"/>
<circle cx="420.9" cy="464.6" r="0.7" fill="#9cc0ea" fill-opacity="0.6"/>
<circle cx="371.6" cy="464.6" r="0.7" fill="#9cc0ea" fill-opacity="0.6"/>
<circle cx="450.8" cy="464.8" r="0.7" fill="#9cc0ea" fill-opacity="0.6"/>
<circle cx="350.7" cy="464.2" r="0.7" fill="#9cc0ea" fill-opacity="0.6"/>
<circle cx="359.2" cy="464.8" r="0.7" fill="#9cc0ea" fill-opacity="0.6"/>
<circle cx="322.7" cy="464.4" r="0.7" fill="#9cc0ea" fill-opacity="0.6"/>
<circle cx="372.7" cy="464.0" r="0.7" fill="#9cc0ea" fill-opacity="0.6"/>
<circle cx="468.2" cy="464.0" r="0.7" fill="#9cc0ea" fill-opacity="0.6"/>
<circle cx="362.2" cy="464.8" r="0.7" fill="#9cc0ea" fill-opacity="0.6"/>
<circle cx="333.4" cy="464.5" r="0.7" fill="#9cc0ea" fill-opacity="0.6"/>
<circle cx="438.4" cy="464.5" r="0.7" fill="#9cc0ea" fill-opacity="0.6"/>
<circle cx="357.0" cy="464.5" r="0.7" fill="#9cc0ea" fill-opacity="0.6"/>
<circle cx="423.1" cy="464.3" r="0.7" fill="#9cc0ea" fill-opacity="0.6"/>
<circle cx="445.0" cy="464.1" r="0.7" fill="#9cc0ea" fill-opacity="0.6"/>
<circle cx="430.6" cy="464.8" r="0.7" fill="#9cc0ea" fill-opacity="0.6"/>
<circle cx="460.9" cy="464.6" r="0.7" fill="#9cc0ea" fill-opacity="0.6"/>
<circle cx="414.0" cy="464.6" r="0.7" fill="#9cc0ea" fill-opacity="0.6"/>
<circle cx="443.3" cy="464.7" r="0.7" fill="#9cc0ea" fill-opacity="0.6"/>
<circle cx="359.3" cy="464.7" r="0.7" fill="#9cc0ea" fill-opacity="0.6"/>
<circle cx="343.1" cy="464.1" r="0.7" fill="#9cc0ea" fill-opacity="0.6"/>
<circle cx="415.9" cy="464.6" r="0.7" fill="#9cc0ea" fill-opacity="0.6"/>
<circle cx="384.7" cy="464.0" r="0.7" fill="#9cc0ea" fill-opacity="0.6"/>
<circle cx="403.8" cy="464.7" r="0.7" fill="#9cc0ea" fill-opacity="0.6"/>
<circle cx="455.3" cy="464.3" r="0.7" fill="#9cc0ea" fill-opacity="0.6"/>
<circle cx="486.6" cy="464.8" r="0.7" fill="#9cc0ea" fill-opacity="0.6"/>
<circle cx="398.2" cy="464.2" r="0.7" fill="#9cc0ea" fill-opacity="0.6"/>
<circle cx="460.8" cy="464.1" r="0.7" fill="#9cc0ea" fill-opacity="0.6"/>
<circle cx="323.8" cy="464.6" r="0.7" fill="#9cc0ea" fill-opacity="0.6"/>
<circle cx="337.3" cy="464.7" r="0.7" fill="#9cc0ea" fill-opacity="0.6"/>
<circle cx="483.5" cy="464.4" r="0.7" fill="#9cc0ea" fill-opacity="0.6"/>
<circle cx="476.1" cy="464.6" r="0.7" fill="#9cc0ea" fill-opacity="0.6"/>
<circle cx="465.2" cy="464.5" r="0.7" fill="#9cc0ea" fill-opacity="0.6"/>
<circle cx="361.4" cy="464.2" r="0.7" fill="#9cc0ea" fill-opacity="0.6"/>
<circle cx="478.8" cy="464.8" r="0.7" fill="#9cc0ea" fill-opacity="0.6"/>
<circle cx="419.0" cy="464.3" r="0.7" fill="#9cc0ea" fill-opacity="0.6"/>
<circle cx="354.2" cy="464.6" r="0.7" fill="#9cc0ea" fill-opacity="0.6"/>
<circle cx="341.1" cy="464.7" r="0.7" fill="#9cc0ea" fill-opacity="0.6"/>
<circle cx="360.5" cy="464.4" r="0.7" fill="#9cc0ea" fill-opacity="0.6"/>
<circle cx="428.5" cy="464.7" r="0.7" fill="#9cc0ea" fill-opacity="0.6"/>
<circle cx="318.8" cy="464.6" r="0.7" fill="#9cc0ea" fill-opacity="0.6"/>
<circle cx="433.0" cy="464.7" r="0.7" fill="#9cc0ea" fill-opacity="0.6"/>
<circle cx="370.3" cy="464.7" r="0.7" fill="#9cc0ea" fill-opacity="0.6"/>
<circle cx="453.1" cy="464.4" r="0.7" fill="#9cc0ea" fill-opacity="0.6"/>
<circle cx="327.7" cy="464.8" r="0.7" fill="#9cc0ea" fill-opacity="0.6"/>
<circle cx="384.6" cy="464.4" r="0.7" fill="#9cc0ea" fill-opacity="0.6"/>
<circle cx="426.3" cy="464.8" r="0.7" fill="#9cc0ea" fill-opacity="0.6"/>
<circle cx="344.9" cy="464.3" r="0.7" fill="#9cc0ea" fill-opacity="0.6"/>
<circle cx="387.1" cy="464.6" r="0.7" fill="#9cc0ea" fill-opacity="0.6"/>
<circle cx="369.6" cy="464.0" r="0.7" fill="#9cc0ea" fill-opacity="0.6"/>
<circle cx="370.4" cy="464.4" r="0.7" fill="#9cc0ea" fill-opacity="0.6"/>
<circle cx="378.0" cy="464.5" r="0.7" fill="#9cc0ea" fill-opacity="0.6"/>
<circle cx="464.9" cy="464.0" r="0.7" fill="#9cc0ea" fill-opacity="0.6"/>
<circle cx="379.2" cy="464.7" r="0.7" fill="#9cc0ea" fill-opacity="0.6"/>
<circle cx="441.5" cy="464.7" r="0.7" fill="#9cc0ea" fill-opacity="0.6"/>
<circle cx="317.9" cy="464.1" r="0.7" fill="#9cc0ea" fill-opacity="0.6"/>
<circle cx="379.6" cy="464.5" r="0.75" fill="#7eaee6" fill-opacity="0.55"/>
<circle cx="414.4" cy="464.1" r="0.75" fill="#7eaee6" fill-opacity="0.55"/>
<circle cx="394.5" cy="464.9" r="0.75" fill="#7eaee6" fill-opacity="0.55"/>
<circle cx="404.5" cy="464.4" r="0.75" fill="#7eaee6" fill-opacity="0.55"/>
<circle cx="383.2" cy="464.8" r="0.75" fill="#7eaee6" fill-opacity="0.55"/>
<circle cx="378.9" cy="464.3" r="0.75" fill="#7eaee6" fill-opacity="0.55"/>
<circle cx="391.2" cy="464.8" r="0.75" fill="#7eaee6" fill-opacity="0.55"/>
<circle cx="414.5" cy="464.6" r="0.75" fill="#7eaee6" fill-opacity="0.55"/>
<circle cx="371.1" cy="464.8" r="0.75" fill="#7eaee6" fill-opacity="0.55"/>
<circle cx="398.3" cy="464.5" r="0.75" fill="#7eaee6" fill-opacity="0.55"/>
<circle cx="414.8" cy="464.7" r="0.75" fill="#7eaee6" fill-opacity="0.55"/>
<circle cx="368.3" cy="464.8" r="0.75" fill="#7eaee6" fill-opacity="0.55"/>
<circle cx="438.0" cy="464.5" r="0.75" fill="#7eaee6" fill-opacity="0.55"/>
<circle cx="389.2" cy="464.9" r="0.75" fill="#7eaee6" fill-opacity="0.55"/>
<circle cx="414.8" cy="464.1" r="0.75" fill="#7eaee6" fill-opacity="0.55"/>
<circle cx="396.3" cy="464.3" r="0.75" fill="#7eaee6" fill-opacity="0.55"/>
<circle cx="406.2" cy="464.2" r="0.75" fill="#7eaee6" fill-opacity="0.55"/>
<circle cx="395.2" cy="464.7" r="0.75" fill="#7eaee6" fill-opacity="0.55"/>
<circle cx="380.3" cy="464.2" r="0.75" fill="#7eaee6" fill-opacity="0.55"/>
<circle cx="417.7" cy="464.7" r="0.75" fill="#7eaee6" fill-opacity="0.55"/>
<circle cx="405.3" cy="464.4" r="0.75" fill="#7eaee6" fill-opacity="0.55"/>
<circle cx="416.3" cy="464.6" r="0.75" fill="#7eaee6" fill-opacity="0.55"/>
<circle cx="410.0" cy="464.3" r="0.75" fill="#7eaee6" fill-opacity="0.55"/>
<circle cx="409.8" cy="464.1" r="0.75" fill="#7eaee6" fill-opacity="0.55"/>
<circle cx="419.8" cy="464.2" r="0.75" fill="#7eaee6" fill-opacity="0.55"/>
<circle cx="407.1" cy="464.9" r="0.75" fill="#7eaee6" fill-opacity="0.55"/>
<circle cx="406.2" cy="464.4" r="0.75" fill="#7eaee6" fill-opacity="0.55"/>
<circle cx="396.6" cy="464.4" r="0.75" fill="#7eaee6" fill-opacity="0.55"/>
<circle cx="394.2" cy="464.5" r="0.75" fill="#7eaee6" fill-opacity="0.55"/>
<circle cx="394.0" cy="464.4" r="0.75" fill="#7eaee6" fill-opacity="0.55"/>
<circle cx="384.3" cy="464.5" r="0.75" fill="#7eaee6" fill-opacity="0.55"/>
<circle cx="411.7" cy="464.5" r="0.75" fill="#7eaee6" fill-opacity="0.55"/>
<circle cx="421.6" cy="464.5" r="0.75" fill="#7eaee6" fill-opacity="0.55"/>
<circle cx="405.3" cy="464.7" r="0.75" fill="#7eaee6" fill-opacity="0.55"/>
<circle cx="404.6" cy="464.5" r="0.75" fill="#7eaee6" fill-opacity="0.55"/>
<circle cx="378.4" cy="464.7" r="0.75" fill="#7eaee6" fill-opacity="0.55"/>
<circle cx="396.0" cy="464.8" r="0.75" fill="#7eaee6" fill-opacity="0.55"/>
<circle cx="403.6" cy="464.5" r="0.75" fill="#7eaee6" fill-opacity="0.55"/>
<circle cx="415.1" cy="464.4" r="0.75" fill="#7eaee6" fill-opacity="0.55"/>
<circle cx="410.7" cy="464.9" r="0.75" fill="#7eaee6" fill-opacity="0.55"/>
<circle cx="398.7" cy="464.2" r="0.75" fill="#7eaee6" fill-opacity="0.55"/>
<circle cx="398.1" cy="464.2" r="0.75" fill="#7eaee6" fill-opacity="0.55"/>
<circle cx="397.9" cy="464.5" r="0.75" fill="#7eaee6" fill-opacity="0.55"/>
<circle cx="402.2" cy="464.6" r="0.75" fill="#7eaee6" fill-opacity="0.55"/>
<circle cx="409.7" cy="464.1" r="0.75" fill="#7eaee6" fill-opacity="0.55"/>
<circle cx="400.2" cy="464.0" r="0.75" fill="#7eaee6" fill-opacity="0.55"/>
<circle cx="399.6" cy="464.7" r="0.75" fill="#7eaee6" fill-opacity="0.55"/>
<circle cx="377.1" cy="464.0" r="0.75" fill="#7eaee6" fill-opacity="0.55"/>
<circle cx="367.7" cy="464.1" r="0.75" fill="#7eaee6" fill-opacity="0.55"/>
<circle cx="404.3" cy="464.8" r="0.75" fill="#7eaee6" fill-opacity="0.55"/>
<circle cx="410.2" cy="464.8" r="0.75" fill="#7eaee6" fill-opacity="0.55"/>
<circle cx="371.3" cy="464.6" r="0.75" fill="#7eaee6" fill-opacity="0.55"/>
<circle cx="402.8" cy="464.1" r="0.75" fill="#7eaee6" fill-opacity="0.55"/>
<circle cx="394.3" cy="464.7" r="0.75" fill="#7eaee6" fill-opacity="0.55"/>
<circle cx="405.6" cy="464.5" r="0.75" fill="#7eaee6" fill-opacity="0.55"/>
<circle cx="395.4" cy="464.1" r="0.75" fill="#7eaee6" fill-opacity="0.55"/>
<circle cx="405.3" cy="464.4" r="0.75" fill="#7eaee6" fill-opacity="0.55"/>
<circle cx="413.0" cy="464.6" r="0.75" fill="#7eaee6" fill-opacity="0.55"/>
<circle cx="411.1" cy="464.8" r="0.75" fill="#7eaee6" fill-opacity="0.55"/>
<circle cx="404.5" cy="464.1" r="0.75" fill="#7eaee6" fill-opacity="0.55"/>
<circle cx="389.9" cy="464.7" r="0.75" fill="#7eaee6" fill-opacity="0.55"/>
<circle cx="375.8" cy="464.2" r="0.75" fill="#7eaee6" fill-opacity="0.55"/>
<circle cx="415.3" cy="464.3" r="0.75" fill="#7eaee6" fill-opacity="0.55"/>
<circle cx="413.8" cy="464.6" r="0.75" fill="#7eaee6" fill-opacity="0.55"/>
<circle cx="414.9" cy="464.4" r="0.75" fill="#7eaee6" fill-opacity="0.55"/>
<circle cx="389.8" cy="464.1" r="0.75" fill="#7eaee6" fill-opacity="0.55"/>
<circle cx="437.2" cy="464.3" r="0.75" fill="#7eaee6" fill-opacity="0.55"/>
<circle cx="429.3" cy="464.5" r="0.75" fill="#7eaee6" fill-opacity="0.55"/>
<circle cx="405.7" cy="464.0" r="0.75" fill="#7eaee6" fill-opacity="0.55"/>
<circle cx="392.1" cy="464.4" r="0.75" fill="#7eaee6" fill-opacity="0.55"/>
<circle cx="387.4" cy="464.5" r="0.75" fill="#7eaee6" fill-opacity="0.55"/>
<circle cx="420.7" cy="464.7" r="0.75" fill="#7eaee6" fill-opacity="0.55"/>
<circle cx="402.3" cy="464.2" r="0.75" fill="#7eaee6" fill-opacity="0.55"/>
<circle cx="398.1" cy="464.7" r="0.75" fill="#7eaee6" fill-opacity="0.55"/>
<circle cx="376.8" cy="464.4" r="0.75" fill="#7eaee6" fill-opacity="0.55"/>
<circle cx="371.8" cy="464.3" r="0.75" fill="#7eaee6" fill-opacity="0.55"/>
<circle cx="402.2" cy="464.9" r="0.75" fill="#7eaee6" fill-opacity="0.55"/>
<circle cx="403.3" cy="464.8" r="0.75" fill="#7eaee6" fill-opacity="0.55"/>
<circle cx="391.5" cy="464.4" r="0.75" fill="#7eaee6" fill-opacity="0.55"/>
<circle cx="392.6" cy="464.1" r="0.75" fill="#7eaee6" fill-opacity="0.55"/>
<circle cx="409.2" cy="464.3" r="0.75" fill="#7eaee6" fill-opacity="0.55"/>
<circle cx="409.9" cy="464.9" r="0.75" fill="#7eaee6" fill-opacity="0.55"/>
<circle cx="415.5" cy="464.8" r="0.75" fill="#7eaee6" fill-opacity="0.55"/>
<circle cx="402.7" cy="464.6" r="0.75" fill="#7eaee6" fill-opacity="0.55"/>
<circle cx="405.5" cy="464.4" r="0.75" fill="#7eaee6" fill-opacity="0.55"/>
<circle cx="420.7" cy="464.7" r="0.75" fill="#7eaee6" fill-opacity="0.55"/>
<circle cx="391.3" cy="464.8" r="0.75" fill="#7eaee6" fill-opacity="0.55"/>
<circle cx="391.4" cy="464.1" r="0.75" fill="#7eaee6" fill-opacity="0.55"/>
<circle cx="402.8" cy="464.8" r="0.75" fill="#7eaee6" fill-opacity="0.55"/>
<circle cx="410.4" cy="464.3" r="0.75" fill="#7eaee6" fill-opacity="0.55"/>
<circle cx="419.3" cy="464.5" r="0.75" fill="#7eaee6" fill-opacity="0.55"/>
<circle cx="384.9" cy="464.7" r="0.75" fill="#7eaee6" fill-opacity="0.55"/>
<circle cx="422.5" cy="464.4" r="0.75" fill="#7eaee6" fill-opacity="0.55"/>
<circle cx="403.9" cy="464.6" r="0.75" fill="#7eaee6" fill-opacity="0.55"/>
<circle cx="393.3" cy="464.1" r="0.75" fill="#7eaee6" fill-opacity="0.55"/>
<circle cx="390.6" cy="464.2" r="0.75" fill="#7eaee6" fill-opacity="0.55"/>
<circle cx="402.8" cy="464.9" r="0.75" fill="#7eaee6" fill-opacity="0.55"/>
<circle cx="432.6" cy="464.4" r="0.75" fill="#7eaee6" fill-opacity="0.55"/>
<circle cx="394.0" cy="464.8" r="0.75" fill="#7eaee6" fill-opacity="0.55"/>
<circle cx="408.2" cy="464.2" r="0.75" fill="#7eaee6" fill-opacity="0.55"/>
<circle cx="420.0" cy="464.1" r="0.75" fill="#7eaee6" fill-opacity="0.55"/>
<circle cx="403.9" cy="464.8" r="0.75" fill="#7eaee6" fill-opacity="0.55"/>
<circle cx="408.4" cy="464.4" r="0.75" fill="#7eaee6" fill-opacity="0.55"/>
<circle cx="420.6" cy="464.3" r="0.75" fill="#7eaee6" fill-opacity="0.55"/>
<circle cx="405.8" cy="464.6" r="0.75" fill="#7eaee6" fill-opacity="0.55"/>
<circle cx="394.6" cy="464.6" r="0.75" fill="#7eaee6" fill-opacity="0.55"/>
<circle cx="430.3" cy="464.2" r="0.75" fill="#7eaee6" fill-opacity="0.55"/>
<circle cx="411.3" cy="464.3" r="0.75" fill="#7eaee6" fill-opacity="0.55"/>
<circle cx="429.3" cy="464.2" r="0.75" fill="#7eaee6" fill-opacity="0.55"/>
<circle cx="403.6" cy="464.5" r="0.75" fill="#7eaee6" fill-opacity="0.55"/>
<circle cx="401.7" cy="464.7" r="0.75" fill="#7eaee6" fill-opacity="0.55"/>
<circle cx="387.3" cy="464.8" r="0.75" fill="#7eaee6" fill-opacity="0.55"/>
<circle cx="402.9" cy="464.6" r="0.75" fill="#7eaee6" fill-opacity="0.55"/>
<circle cx="406.4" cy="464.2" r="0.75" fill="#7eaee6" fill-opacity="0.55"/>
<circle cx="393.4" cy="464.3" r="0.75" fill="#7eaee6" fill-opacity="0.55"/>
<circle cx="377.2" cy="464.7" r="0.75" fill="#7eaee6" fill-opacity="0.55"/>
<circle cx="388.5" cy="464.2" r="0.75" fill="#7eaee6" fill-opacity="0.55"/>
<circle cx="397.6" cy="464.4" r="0.75" fill="#7eaee6" fill-opacity="0.55"/>
<circle cx="400.6" cy="464.0" r="0.75" fill="#7eaee6" fill-opacity="0.55"/>
<circle cx="422.3" cy="464.7" r="0.75" fill="#7eaee6" fill-opacity="0.55"/>
<circle cx="404.3" cy="464.7" r="0.75" fill="#7eaee6" fill-opacity="0.55"/>
<circle cx="400.8" cy="464.7" r="0.75" fill="#7eaee6" fill-opacity="0.55"/>
<circle cx="401.2" cy="464.2" r="0.75" fill="#7eaee6" fill-opacity="0.55"/>
<circle cx="369.1" cy="464.6" r="0.75" fill="#7eaee6" fill-opacity="0.55"/>
<circle cx="411.6" cy="464.7" r="0.75" fill="#7eaee6" fill-opacity="0.55"/>
<circle cx="394.0" cy="464.1" r="0.75" fill="#7eaee6" fill-opacity="0.55"/>
<circle cx="387.9" cy="464.3" r="0.75" fill="#7eaee6" fill-opacity="0.55"/>
<circle cx="386.9" cy="464.0" r="0.75" fill="#7eaee6" fill-opacity="0.55"/>
<circle cx="376.4" cy="464.3" r="0.75" fill="#7eaee6" fill-opacity="0.55"/>
<circle cx="407.6" cy="464.1" r="0.75" fill="#7eaee6" fill-opacity="0.55"/>
<circle cx="381.9" cy="464.4" r="0.75" fill="#7eaee6" fill-opacity="0.55"/>
<circle cx="411.1" cy="464.6" r="0.75" fill="#7eaee6" fill-opacity="0.55"/>
<circle cx="407.1" cy="464.8" r="0.75" fill="#7eaee6" fill-opacity="0.55"/>
<circle cx="421.4" cy="464.1" r="0.75" fill="#7eaee6" fill-opacity="0.55"/>
<circle cx="404.5" cy="464.8" r="0.75" fill="#7eaee6" fill-opacity="0.55"/>
<circle cx="405.1" cy="464.1" r="0.75" fill="#7eaee6" fill-opacity="0.55"/>
<circle cx="398.2" cy="464.9" r="0.75" fill="#7eaee6" fill-opacity="0.55"/>
<circle cx="408.9" cy="464.9" r="0.75" fill="#7eaee6" fill-opacity="0.55"/>
<circle cx="395.5" cy="464.3" r="0.75" fill="#7eaee6" fill-opacity="0.55"/>
<circle cx="384.0" cy="464.2" r="0.75" fill="#7eaee6" fill-opacity="0.55"/>
<circle cx="419.5" cy="464.6" r="0.75" fill="#7eaee6" fill-opacity="0.55"/>
<circle cx="410.0" cy="464.2" r="0.75" fill="#7eaee6" fill-opacity="0.55"/>
<circle cx="414.9" cy="464.8" r="0.75" fill="#7eaee6" fill-opacity="0.55"/>
<circle cx="376.0" cy="464.1" r="0.75" fill="#7eaee6" fill-opacity="0.55"/>
<circle cx="431.2" cy="464.8" r="0.75" fill="#7eaee6" fill-opacity="0.55"/>
<circle cx="385.4" cy="464.7" r="0.75" fill="#7eaee6" fill-opacity="0.55"/>
<circle cx="405.3" cy="464.1" r="0.75" fill="#7eaee6" fill-opacity="0.55"/>
<circle cx="404.9" cy="464.2" r="0.75" fill="#7eaee6" fill-opacity="0.55"/>
<circle cx="385.2" cy="464.3" r="0.75" fill="#7eaee6" fill-opacity="0.55"/>
<circle cx="383.1" cy="464.6" r="0.75" fill="#7eaee6" fill-opacity="0.55"/>
<circle cx="407.6" cy="464.2" r="0.75" fill="#7eaee6" fill-opacity="0.55"/>
<circle cx="406.2" cy="464.7" r="0.75" fill="#7eaee6" fill-opacity="0.55"/>
<circle cx="396.4" cy="464.9" r="0.75" fill="#7eaee6" fill-opacity="0.55"/>
<circle cx="415.7" cy="464.7" r="0.75" fill="#7eaee6" fill-opacity="0.55"/>
<circle cx="398.0" cy="464.6" r="0.75" fill="#7eaee6" fill-opacity="0.55"/>
<circle cx="424.1" cy="464.6" r="0.75" fill="#7eaee6" fill-opacity="0.55"/>
<circle cx="418.5" cy="464.1" r="0.75" fill="#7eaee6" fill-opacity="0.55"/>
<circle cx="398.8" cy="464.3" r="0.75" fill="#7eaee6" fill-opacity="0.55"/>
<circle cx="416.6" cy="464.5" r="0.75" fill="#7eaee6" fill-opacity="0.55"/>
<circle cx="405.3" cy="464.2" r="0.75" fill="#7eaee6" fill-opacity="0.55"/>
<circle cx="390.1" cy="464.4" r="0.75" fill="#7eaee6" fill-opacity="0.55"/>
<circle cx="420.3" cy="464.7" r="0.75" fill="#7eaee6" fill-opacity="0.55"/>
<circle cx="406.4" cy="464.2" r="0.75" fill="#7eaee6" fill-opacity="0.55"/>
<circle cx="397.9" cy="464.7" r="0.75" fill="#7eaee6" fill-opacity="0.55"/>
<circle cx="411.8" cy="464.2" r="0.75" fill="#7eaee6" fill-opacity="0.55"/>
<circle cx="402.6" cy="464.0" r="0.75" fill="#7eaee6" fill-opacity="0.55"/>
<circle cx="418.7" cy="464.5" r="0.75" fill="#7eaee6" fill-opacity="0.55"/>
<circle cx="402.9" cy="464.2" r="0.75" fill="#7eaee6" fill-opacity="0.55"/>
<circle cx="409.0" cy="464.6" r="0.75" fill="#7eaee6" fill-opacity="0.55"/>
<circle cx="417.4" cy="464.2" r="0.75" fill="#7eaee6" fill-opacity="0.55"/>
<circle cx="400.3" cy="464.6" r="0.75" fill="#7eaee6" fill-opacity="0.55"/>
<circle cx="435.8" cy="464.7" r="0.75" fill="#7eaee6" fill-opacity="0.55"/>
<circle cx="397.4" cy="464.8" r="0.75" fill="#7eaee6" fill-opacity="0.55"/>
<circle cx="387.0" cy="464.3" r="0.75" fill="#7eaee6" fill-opacity="0.55"/>
<circle cx="423.9" cy="464.3" r="0.75" fill="#7eaee6" fill-opacity="0.55"/>
<circle cx="414.4" cy="464.2" r="0.75" fill="#7eaee6" fill-opacity="0.55"/>
<circle cx="393.5" cy="464.5" r="0.75" fill="#7eaee6" fill-opacity="0.55"/>
<circle cx="393.1" cy="464.5" r="0.75" fill="#7eaee6" fill-opacity="0.55"/>
<circle cx="407.1" cy="464.1" r="0.75" fill="#7eaee6" fill-opacity="0.55"/>
<circle cx="398.7" cy="464.9" r="0.75" fill="#7eaee6" fill-opacity="0.55"/>
<circle cx="405.5" cy="464.1" r="0.75" fill="#7eaee6" fill-opacity="0.55"/>
<circle cx="413.0" cy="464.5" r="0.75" fill="#7eaee6" fill-opacity="0.55"/>
<circle cx="381.5" cy="464.7" r="0.75" fill="#7eaee6" fill-opacity="0.55"/>
<circle cx="422.4" cy="464.5" r="0.75" fill="#7eaee6" fill-opacity="0.55"/>
<circle cx="379.6" cy="464.2" r="0.75" fill="#7eaee6" fill-opacity="0.55"/>
<circle cx="397.9" cy="464.3" r="0.75" fill="#7eaee6" fill-opacity="0.55"/>
<circle cx="395.3" cy="464.8" r="0.75" fill="#7eaee6" fill-opacity="0.55"/>
<circle cx="412.6" cy="464.1" r="0.75" fill="#7eaee6" fill-opacity="0.55"/>
<circle cx="390.5" cy="464.7" r="0.75" fill="#7eaee6" fill-opacity="0.55"/>
<circle cx="383.0" cy="464.5" r="0.75" fill="#7eaee6" fill-opacity="0.55"/>
<circle cx="405.2" cy="464.8" r="0.75" fill="#7eaee6" fill-opacity="0.55"/>
<circle cx="384.4" cy="464.5" r="0.75" fill="#7eaee6" fill-opacity="0.55"/>
<circle cx="410.2" cy="464.7" r="0.75" fill="#7eaee6" fill-opacity="0.55"/>
<circle cx="395.7" cy="464.6" r="0.75" fill="#7eaee6" fill-opacity="0.55"/>
<circle cx="394.7" cy="464.8" r="0.75" fill="#7eaee6" fill-opacity="0.55"/>
<circle cx="376.9" cy="464.8" r="0.75" fill="#7eaee6" fill-opacity="0.55"/>
<circle cx="402.7" cy="464.4" r="0.75" fill="#7eaee6" fill-opacity="0.55"/>
<circle cx="414.9" cy="464.8" r="0.75" fill="#7eaee6" fill-opacity="0.55"/>
<circle cx="398.3" cy="464.0" r="0.75" fill="#7eaee6" fill-opacity="0.55"/>
<circle cx="410.4" cy="464.2" r="0.75" fill="#7eaee6" fill-opacity="0.55"/>
<circle cx="431.1" cy="464.8" r="0.75" fill="#7eaee6" fill-opacity="0.55"/>
<circle cx="423.8" cy="464.6" r="0.75" fill="#7eaee6" fill-opacity="0.55"/>
<circle cx="427.1" cy="464.2" r="0.75" fill="#7eaee6" fill-opacity="0.55"/>
<circle cx="400.0" cy="464.5" r="0.75" fill="#7eaee6" fill-opacity="0.55"/>
<circle cx="409.1" cy="464.8" r="0.75" fill="#7eaee6" fill-opacity="0.55"/>
<circle cx="421.2" cy="464.7" r="0.75" fill="#7eaee6" fill-opacity="0.55"/>
<circle cx="399.7" cy="464.5" r="0.75" fill="#7eaee6" fill-opacity="0.55"/>
<circle cx="404.9" cy="464.2" r="0.75" fill="#7eaee6" fill-opacity="0.55"/>
<circle cx="396.8" cy="464.3" r="0.75" fill="#7eaee6" fill-opacity="0.55"/>
<circle cx="387.1" cy="464.5" r="0.75" fill="#7eaee6" fill-opacity="0.55"/>
<circle cx="414.4" cy="464.5" r="0.75" fill="#7eaee6" fill-opacity="0.55"/>
<circle cx="417.2" cy="464.2" r="0.75" fill="#7eaee6" fill-opacity="0.55"/>
<circle cx="414.9" cy="464.4" r="0.75" fill="#7eaee6" fill-opacity="0.55"/>
<circle cx="394.4" cy="464.2" r="0.75" fill="#7eaee6" fill-opacity="0.55"/>
<circle cx="393.7" cy="464.3" r="0.75" fill="#7eaee6" fill-opacity="0.55"/>
<circle cx="407.3" cy="464.1" r="0.75" fill="#7eaee6" fill-opacity="0.55"/>
<circle cx="405.7" cy="464.1" r="0.75" fill="#7eaee6" fill-opacity="0.55"/>
<circle cx="381.2" cy="464.3" r="0.75" fill="#7eaee6" fill-opacity="0.55"/>
<circle cx="392.9" cy="464.6" r="0.75" fill="#7eaee6" fill-opacity="0.55"/>
<circle cx="390.6" cy="464.3" r="0.75" fill="#7eaee6" fill-opacity="0.55"/>
<circle cx="396.8" cy="452.8" r="0.6" fill="#8ab4e6" fill-opacity="0.6"/>
<circle cx="405.2" cy="459.6" r="0.6" fill="#8ab4e6" fill-opacity="0.6"/>
<circle cx="403.3" cy="464.7" r="0.6" fill="#8ab4e6" fill-opacity="0.6"/>
<circle cx="400.8" cy="464.0" r="0.6" fill="#8ab4e6" fill-opacity="0.6"/>
<circle cx="403.2" cy="464.7" r="0.6" fill="#8ab4e6" fill-opacity="0.6"/>
<circle cx="403.9" cy="463.5" r="0.6" fill="#8ab4e6" fill-opacity="0.6"/>
<circle cx="397.9" cy="455.2" r="0.6" fill="#8ab4e6" fill-opacity="0.6"/>
<circle cx="405.1" cy="461.1" r="0.6" fill="#8ab4e6" fill-opacity="0.6"/>
<circle cx="401.6" cy="464.6" r="0.6" fill="#8ab4e6" fill-opacity="0.6"/>
<circle cx="396.1" cy="446.9" r="0.6" fill="#8ab4e6" fill-opacity="0.6"/>
<circle cx="397.6" cy="452.9" r="0.6" fill="#8ab4e6" fill-opacity="0.6"/>
<circle cx="407.1" cy="450.0" r="0.6" fill="#8ab4e6" fill-opacity="0.6"/>
<circle cx="396.9" cy="450.9" r="0.6" fill="#8ab4e6" fill-opacity="0.6"/>
<circle cx="402.3" cy="464.9" r="0.6" fill="#8ab4e6" fill-opacity="0.6"/>
<circle cx="401.9" cy="464.8" r="0.6" fill="#8ab4e6" fill-opacity="0.6"/>
<circle cx="405.8" cy="457.9" r="0.6" fill="#8ab4e6" fill-opacity="0.6"/>
<circle cx="400.7" cy="463.4" r="0.6" fill="#8ab4e6" fill-opacity="0.6"/>
<circle cx="398.2" cy="456.5" r="0.6" fill="#8ab4e6" fill-opacity="0.6"/>
<circle cx="400.4" cy="463.1" r="0.6" fill="#8ab4e6" fill-opacity="0.6"/>
<circle cx="397.1" cy="448.4" r="0.6" fill="#8ab4e6" fill-opacity="0.6"/>
<circle cx="400.0" cy="464.2" r="0.6" fill="#8ab4e6" fill-opacity="0.6"/>
<circle cx="399.0" cy="460.8" r="0.6" fill="#8ab4e6" fill-opacity="0.6"/>
<circle cx="395.8" cy="447.4" r="0.6" fill="#8ab4e6" fill-opacity="0.6"/>
<circle cx="400.8" cy="463.8" r="0.6" fill="#8ab4e6" fill-opacity="0.6"/>
<circle cx="399.9" cy="463.2" r="0.6" fill="#8ab4e6" fill-opacity="0.6"/>
<circle cx="398.4" cy="456.9" r="0.6" fill="#8ab4e6" fill-opacity="0.6"/>
<circle cx="407.1" cy="449.9" r="0.6" fill="#8ab4e6" fill-opacity="0.6"/>
<circle cx="398.3" cy="456.3" r="0.6" fill="#8ab4e6" fill-opacity="0.6"/>
<circle cx="400.4" cy="464.0" r="0.6" fill="#8ab4e6" fill-opacity="0.6"/>
<circle cx="397.2" cy="450.8" r="0.6" fill="#8ab4e6" fill-opacity="0.6"/>
<circle cx="405.5" cy="458.4" r="0.6" fill="#8ab4e6" fill-opacity="0.6"/>
<circle cx="401.4" cy="464.5" r="0.6" fill="#8ab4e6" fill-opacity="0.6"/>
<circle cx="398.4" cy="455.9" r="0.6" fill="#8ab4e6" fill-opacity="0.6"/>
<circle cx="400.0" cy="462.3" r="0.6" fill="#8ab4e6" fill-opacity="0.6"/>
<circle cx="405.6" cy="456.9" r="0.6" fill="#8ab4e6" fill-opacity="0.6"/>
<circle cx="401.4" cy="464.6" r="0.6" fill="#8ab4e6" fill-opacity="0.6"/>
<circle cx="402.3" cy="464.9" r="0.6" fill="#8ab4e6" fill-opacity="0.6"/>
<circle cx="405.8" cy="458.9" r="0.6" fill="#8ab4e6" fill-opacity="0.6"/>
<circle cx="406.0" cy="459.0" r="0.6" fill="#8ab4e6" fill-opacity="0.6"/>
<circle cx="400.2" cy="463.6" r="0.6" fill="#8ab4e6" fill-opacity="0.6"/>
<circle cx="400.8" cy="464.4" r="0.6" fill="#8ab4e6" fill-opacity="0.6"/>
<circle cx="395.7" cy="440.9" r="0.6" fill="#8ab4e6" fill-opacity="0.6"/>
<circle cx="399.1" cy="461.8" r="0.6" fill="#8ab4e6" fill-opacity="0.6"/>
<circle cx="399.3" cy="461.3" r="0.6" fill="#8ab4e6" fill-opacity="0.6"/>
<circle cx="400.9" cy="463.9" r="0.6" fill="#8ab4e6" fill-opacity="0.6"/>
<circle cx="403.7" cy="464.3" r="0.6" fill="#8ab4e6" fill-opacity="0.6"/>
<circle cx="407.0" cy="447.0" r="0.6" fill="#8ab4e6" fill-opacity="0.6"/>
<circle cx="396.3" cy="444.4" r="0.6" fill="#8ab4e6" fill-opacity="0.6"/>
<circle cx="406.7" cy="450.0" r="0.6" fill="#8ab4e6" fill-opacity="0.6"/>
<circle cx="397.4" cy="451.1" r="0.6" fill="#8ab4e6" fill-opacity="0.6"/>
<circle cx="403.4" cy="464.8" r="0.6" fill="#8ab4e6" fill-opacity="0.6"/>
<circle cx="395.8" cy="438.3" r="0.6" fill="#8ab4e6" fill-opacity="0.6"/>
<circle cx="403.7" cy="464.4" r="0.6" fill="#8ab4e6" fill-opacity="0.6"/>
<circle cx="396.9" cy="457.9" r="0.6" fill="#8ab4e6" fill-opacity="0.6"/>
<circle cx="398.5" cy="457.2" r="0.6" fill="#8ab4e6" fill-opacity="0.6"/>
<circle cx="399.9" cy="463.5" r="0.6" fill="#8ab4e6" fill-opacity="0.6"/>
<circle cx="406.7" cy="450.1" r="0.6" fill="#8ab4e6" fill-opacity="0.6"/>
<circle cx="397.7" cy="452.6" r="0.6" fill="#8ab4e6" fill-opacity="0.6"/>
<circle cx="403.1" cy="464.7" r="0.6" fill="#8ab4e6" fill-opacity="0.6"/>
<circle cx="403.8" cy="463.7" r="0.6" fill="#8ab4e6" fill-opacity="0.6"/>
<circle cx="405.3" cy="458.8" r="0.6" fill="#8ab4e6" fill-opacity="0.6"/>
<circle cx="398.1" cy="455.7" r="0.6" fill="#8ab4e6" fill-opacity="0.6"/>
<circle cx="402.1" cy="464.9" r="0.6" fill="#8ab4e6" fill-opacity="0.6"/>
<circle cx="401.0" cy="464.0" r="0.6" fill="#8ab4e6" fill-opacity="0.6"/>
<circle cx="402.4" cy="464.9" r="0.6" fill="#8ab4e6" fill-opacity="0.6"/>
<circle cx="398.5" cy="461.6" r="0.6" fill="#8ab4e6" fill-opacity="0.6"/>
<circle cx="401.7" cy="464.8" r="0.6" fill="#8ab4e6" fill-opacity="0.6"/>
<circle cx="401.3" cy="464.7" r="0.6" fill="#8ab4e6" fill-opacity="0.6"/>
<circle cx="401.6" cy="464.7" r="0.6" fill="#8ab4e6" fill-opacity="0.6"/>
<circle cx="402.2" cy="464.9" r="0.6" fill="#8ab4e6" fill-opacity="0.6"/>
<circle cx="395.7" cy="439.4" r="0.6" fill="#8ab4e6" fill-opacity="0.6"/>
<circle cx="401.4" cy="464.5" r="0.6" fill="#8ab4e6" fill-opacity="0.6"/>
<circle cx="403.8" cy="463.8" r="0.6" fill="#8ab4e6" fill-opacity="0.6"/>
<circle cx="400.2" cy="463.3" r="0.6" fill="#8ab4e6" fill-opacity="0.6"/>
<circle cx="407.4" cy="458.5" r="0.6" fill="#8ab4e6" fill-opacity="0.6"/>
<circle cx="403.4" cy="464.4" r="0.6" fill="#8ab4e6" fill-opacity="0.6"/>
<circle cx="396.0" cy="445.0" r="0.6" fill="#8ab4e6" fill-opacity="0.6"/>
<circle cx="404.0" cy="463.3" r="0.6" fill="#8ab4e6" fill-opacity="0.6"/>
<circle cx="399.7" cy="460.9" r="0.6" fill="#8ab4e6" fill-opacity="0.6"/>
<circle cx="401.9" cy="464.8" r="0.6" fill="#8ab4e6" fill-opacity="0.6"/>
<circle cx="406.6" cy="462.0" r="0.6" fill="#8ab4e6" fill-opacity="0.6"/>
<circle cx="404.4" cy="462.6" r="0.6" fill="#8ab4e6" fill-opacity="0.6"/>
<circle cx="399.8" cy="461.4" r="0.6" fill="#8ab4e6" fill-opacity="0.6"/>
<circle cx="400.1" cy="463.0" r="0.6" fill="#8ab4e6" fill-opacity="0.6"/>
<circle cx="402.1" cy="464.8" r="0.6" fill="#8ab4e6" fill-opacity="0.6"/>
<circle cx="398.2" cy="458.2" r="0.6" fill="#8ab4e6" fill-opacity="0.6"/>
<circle cx="400.8" cy="463.9" r="0.6" fill="#8ab4e6" fill-opacity="0.6"/>
<circle cx="405.7" cy="459.8" r="0.6" fill="#8ab4e6" fill-opacity="0.6"/>
<circle cx="405.7" cy="458.8" r="0.6" fill="#8ab4e6" fill-opacity="0.6"/>
<circle cx="401.8" cy="464.8" r="0.6" fill="#8ab4e6" fill-opacity="0.6"/>
<circle cx="418.5" cy="438.1" r="1.15" fill="#d00000" stroke="#400000" stroke-width="0.55"/>
<circle cx="418.2" cy="457.5" r="1.15" fill="#d00000" stroke="#400000" stroke-width="0.55"/>
<circle cx="427.9" cy="458.8" r="1.15" fill="#d00000" stroke="#400000" stroke-width="0.55"/>
<circle cx="409.6" cy="459.1" r="1.15" fill="#d00000" stroke="#400000" stroke-width="0.55"/>
<circle cx="392.1" cy="439.7" r="1.15" fill="#d00000" stroke="#400000" stroke-width="0.55"/>
<circle cx="390.8" cy="443.5" r="1.15" fill="#d00000" stroke="#400000" stroke-width="0.55"/>
<circle cx="392.1" cy="450.2" r="1.15" fill="#d00000" stroke="#400000" stroke-width="0.55"/>
<circle cx="392.9" cy="451.5" r="1.15" fill="#d00000" stroke="#400000" stroke-width="0.55"/>
<circle cx="391.6" cy="452.9" r="1.15" fill="#d00000" stroke="#400000" stroke-width="0.55"/>
<circle cx="387.0" cy="457.5" r="1.15" fill="#d00000" stroke="#400000" stroke-width="0.55"/>
<circle cx="393.5" cy="457.5" r="1.15" fill="#d00000" stroke="#400000" stroke-width="0.55"/>
<circle cx="499.3" cy="444.8" r="1.6" fill="#8e0a0a" stroke="#3a0000" stroke-width="0.5"/>
<circle cx="397.0" cy="453.9" r="0.6" fill="#8ab4e6" fill-opacity="0.65"/>
<circle cx="399.9" cy="448.3" r="0.6" fill="#8ab4e6" fill-opacity="0.65"/>
<circle cx="399.5" cy="462.6" r="0.6" fill="#8ab4e6" fill-opacity="0.65"/>
<circle cx="400.8" cy="456.2" r="0.6" fill="#8ab4e6" fill-opacity="0.65"/>
<circle cx="398.7" cy="464.5" r="0.6" fill="#8ab4e6" fill-opacity="0.65"/>
<circle cx="398.6" cy="451.3" r="0.6" fill="#8ab4e6" fill-opacity="0.65"/>
<circle cx="401.0" cy="464.5" r="0.6" fill="#8ab4e6" fill-opacity="0.65"/>
<circle cx="399.1" cy="462.6" r="0.6" fill="#8ab4e6" fill-opacity="0.65"/>
<circle cx="400.7" cy="441.9" r="0.6" fill="#8ab4e6" fill-opacity="0.65"/>
<circle cx="400.0" cy="455.4" r="0.6" fill="#8ab4e6" fill-opacity="0.65"/>
<circle cx="398.9" cy="442.6" r="0.6" fill="#8ab4e6" fill-opacity="0.65"/>
<circle cx="398.4" cy="455.3" r="0.6" fill="#8ab4e6" fill-opacity="0.65"/>
<circle cx="398.9" cy="452.3" r="0.6" fill="#8ab4e6" fill-opacity="0.65"/>
<circle cx="399.0" cy="455.8" r="0.6" fill="#8ab4e6" fill-opacity="0.65"/>
<circle cx="399.7" cy="453.4" r="0.6" fill="#8ab4e6" fill-opacity="0.65"/>
<circle cx="399.3" cy="459.7" r="0.6" fill="#8ab4e6" fill-opacity="0.65"/>
<circle cx="400.0" cy="463.9" r="0.6" fill="#8ab4e6" fill-opacity="0.65"/>
<circle cx="399.5" cy="464.5" r="0.6" fill="#8ab4e6" fill-opacity="0.65"/>
<circle cx="400.4" cy="453.8" r="0.6" fill="#8ab4e6" fill-opacity="0.65"/>
<circle cx="397.6" cy="461.5" r="0.6" fill="#8ab4e6" fill-opacity="0.65"/>
<circle cx="400.9" cy="456.9" r="0.6" fill="#8ab4e6" fill-opacity="0.65"/>
<circle cx="398.3" cy="463.1" r="0.6" fill="#8ab4e6" fill-opacity="0.65"/>
<circle cx="399.6" cy="462.3" r="0.6" fill="#8ab4e6" fill-opacity="0.65"/>
<circle cx="401.1" cy="460.3" r="0.6" fill="#8ab4e6" fill-opacity="0.65"/>
<circle cx="398.4" cy="464.5" r="0.6" fill="#8ab4e6" fill-opacity="0.65"/>
<circle cx="398.0" cy="456.7" r="0.6" fill="#8ab4e6" fill-opacity="0.65"/>
<circle cx="400.5" cy="447.5" r="0.6" fill="#8ab4e6" fill-opacity="0.65"/>
<circle cx="400.1" cy="456.5" r="0.6" fill="#8ab4e6" fill-opacity="0.65"/>
<circle cx="401.0" cy="464.5" r="0.6" fill="#8ab4e6" fill-opacity="0.65"/>
<circle cx="399.4" cy="461.2" r="0.6" fill="#8ab4e6" fill-opacity="0.65"/>
<circle cx="397.8" cy="438.6" r="0.6" fill="#8ab4e6" fill-opacity="0.65"/>
<circle cx="398.6" cy="459.2" r="0.6" fill="#8ab4e6" fill-opacity="0.65"/>
<circle cx="399.6" cy="454.2" r="0.6" fill="#8ab4e6" fill-opacity="0.65"/>
<circle cx="400.3" cy="463.6" r="0.6" fill="#8ab4e6" fill-opacity="0.65"/>
<circle cx="400.1" cy="464.5" r="0.6" fill="#8ab4e6" fill-opacity="0.65"/>
<circle cx="400.2" cy="452.8" r="0.6" fill="#8ab4e6" fill-opacity="0.65"/>
<circle cx="402.1" cy="464.4" r="0.6" fill="#8ab4e6" fill-opacity="0.65"/>
<circle cx="402.0" cy="444.6" r="0.6" fill="#8ab4e6" fill-opacity="0.65"/>
<circle cx="400.1" cy="451.4" r="0.6" fill="#8ab4e6" fill-opacity="0.65"/>
<circle cx="400.2" cy="463.3" r="0.6" fill="#8ab4e6" fill-opacity="0.65"/>
<circle cx="399.9" cy="464.5" r="0.6" fill="#8ab4e6" fill-opacity="0.65"/>
<circle cx="399.3" cy="449.1" r="0.6" fill="#8ab4e6" fill-opacity="0.65"/>
<circle cx="399.5" cy="451.0" r="0.6" fill="#8ab4e6" fill-opacity="0.65"/>
<circle cx="397.9" cy="464.4" r="0.6" fill="#8ab4e6" fill-opacity="0.65"/>
<circle cx="398.8" cy="459.6" r="0.6" fill="#8ab4e6" fill-opacity="0.65"/>
<circle cx="398.7" cy="441.4" r="0.6" fill="#8ab4e6" fill-opacity="0.65"/>
<circle cx="399.9" cy="451.5" r="0.6" fill="#8ab4e6" fill-opacity="0.65"/>
<circle cx="402.8" cy="464.5" r="0.6" fill="#8ab4e6" fill-opacity="0.65"/>
<circle cx="401.6" cy="447.2" r="0.6" fill="#8ab4e6" fill-opacity="0.65"/>
<circle cx="400.1" cy="464.4" r="0.6" fill="#8ab4e6" fill-opacity="0.65"/>
<circle cx="399.3" cy="464.0" r="0.6" fill="#8ab4e6" fill-opacity="0.65"/>
<circle cx="401.6" cy="445.1" r="0.6" fill="#8ab4e6" fill-opacity="0.65"/>
<circle cx="399.6" cy="461.5" r="0.6" fill="#8ab4e6" fill-opacity="0.65"/>
<circle cx="400.0" cy="456.5" r="0.6" fill="#8ab4e6" fill-opacity="0.65"/>
<circle cx="398.5" cy="464.1" r="0.6" fill="#8ab4e6" fill-opacity="0.65"/>
<circle cx="400.6" cy="448.1" r="0.6" fill="#8ab4e6" fill-opacity="0.65"/>
<circle cx="399.0" cy="454.7" r="0.6" fill="#8ab4e6" fill-opacity="0.65"/>
<circle cx="401.2" cy="460.5" r="0.6" fill="#8ab4e6" fill-opacity="0.65"/>
<circle cx="398.5" cy="440.7" r="0.6" fill="#8ab4e6" fill-opacity="0.65"/>
<circle cx="401.3" cy="448.7" r="0.6" fill="#8ab4e6" fill-opacity="0.65"/>
<circle cx="399.2" cy="464.4" r="0.6" fill="#8ab4e6" fill-opacity="0.65"/>
<circle cx="399.6" cy="439.0" r="0.6" fill="#8ab4e6" fill-opacity="0.65"/>
<circle cx="399.4" cy="462.1" r="0.6" fill="#8ab4e6" fill-opacity="0.65"/>
<circle cx="398.0" cy="455.5" r="0.6" fill="#8ab4e6" fill-opacity="0.65"/>
<circle cx="402.1" cy="455.7" r="0.6" fill="#8ab4e6" fill-opacity="0.65"/>
<circle cx="399.7" cy="462.5" r="0.6" fill="#8ab4e6" fill-opacity="0.65"/>
<circle cx="397.9" cy="461.3" r="0.6" fill="#8ab4e6" fill-opacity="0.65"/>
<circle cx="401.0" cy="452.8" r="0.6" fill="#8ab4e6" fill-opacity="0.65"/>
<circle cx="398.1" cy="447.6" r="0.6" fill="#8ab4e6" fill-opacity="0.65"/>
<circle cx="398.6" cy="462.8" r="0.6" fill="#8ab4e6" fill-opacity="0.65"/>
<circle cx="400.9" cy="460.4" r="0.6" fill="#8ab4e6" fill-opacity="0.65"/>
<circle cx="400.0" cy="456.1" r="0.6" fill="#8ab4e6" fill-opacity="0.65"/>
<circle cx="400.9" cy="464.5" r="0.6" fill="#8ab4e6" fill-opacity="0.65"/>
<circle cx="397.9" cy="446.4" r="0.6" fill="#8ab4e6" fill-opacity="0.65"/>
<circle cx="400.8" cy="456.6" r="0.6" fill="#8ab4e6" fill-opacity="0.65"/>
<circle cx="398.0" cy="462.9" r="0.6" fill="#8ab4e6" fill-opacity="0.65"/>
<circle cx="401.2" cy="452.8" r="0.6" fill="#8ab4e6" fill-opacity="0.65"/>
<circle cx="398.4" cy="442.4" r="0.6" fill="#8ab4e6" fill-opacity="0.65"/>
<circle cx="399.7" cy="457.1" r="0.6" fill="#8ab4e6" fill-opacity="0.65"/>
<circle cx="400.4" cy="448.1" r="0.6" fill="#8ab4e6" fill-opacity="0.65"/>
<circle cx="400.6" cy="441.4" r="0.6" fill="#8ab4e6" fill-opacity="0.65"/>
<circle cx="401.7" cy="463.4" r="0.6" fill="#8ab4e6" fill-opacity="0.65"/>
<circle cx="398.7" cy="459.5" r="0.6" fill="#8ab4e6" fill-opacity="0.65"/>
<circle cx="399.0" cy="463.7" r="0.6" fill="#8ab4e6" fill-opacity="0.65"/>
<circle cx="399.9" cy="448.4" r="0.6" fill="#8ab4e6" fill-opacity="0.65"/>
<circle cx="401.8" cy="459.6" r="0.6" fill="#8ab4e6" fill-opacity="0.65"/>
<circle cx="401.7" cy="449.2" r="0.6" fill="#8ab4e6" fill-opacity="0.65"/>
<circle cx="401.0" cy="463.4" r="0.6" fill="#8ab4e6" fill-opacity="0.65"/>
<circle cx="397.9" cy="443.9" r="0.6" fill="#8ab4e6" fill-opacity="0.65"/>
<circle cx="398.9" cy="458.0" r="0.6" fill="#8ab4e6" fill-opacity="0.65"/>
<circle cx="408.2" cy="461.0" r="0.6" fill="#8ab4e6" fill-opacity="0.5"/>
<circle cx="405.1" cy="464.1" r="0.6" fill="#8ab4e6" fill-opacity="0.5"/>
<circle cx="405.0" cy="459.6" r="0.6" fill="#8ab4e6" fill-opacity="0.5"/>
<circle cx="407.0" cy="461.3" r="0.6" fill="#8ab4e6" fill-opacity="0.5"/>
<circle cx="407.4" cy="461.8" r="0.6" fill="#8ab4e6" fill-opacity="0.5"/>
<circle cx="404.6" cy="464.5" r="0.6" fill="#8ab4e6" fill-opacity="0.5"/>
<circle cx="414.0" cy="463.1" r="0.6" fill="#8ab4e6" fill-opacity="0.5"/>
<circle cx="404.2" cy="460.5" r="0.6" fill="#8ab4e6" fill-opacity="0.5"/>
<circle cx="411.7" cy="464.3" r="0.6" fill="#8ab4e6" fill-opacity="0.5"/>
<circle cx="409.6" cy="463.3" r="0.6" fill="#8ab4e6" fill-opacity="0.5"/>
<circle cx="408.7" cy="464.5" r="0.6" fill="#8ab4e6" fill-opacity="0.5"/>
<circle cx="403.4" cy="454.7" r="0.6" fill="#8ab4e6" fill-opacity="0.5"/>
<circle cx="412.5" cy="462.1" r="0.6" fill="#8ab4e6" fill-opacity="0.5"/>
<circle cx="409.2" cy="463.8" r="0.6" fill="#8ab4e6" fill-opacity="0.5"/>
<circle cx="411.6" cy="462.7" r="0.6" fill="#8ab4e6" fill-opacity="0.5"/>
<circle cx="413.4" cy="458.6" r="0.6" fill="#8ab4e6" fill-opacity="0.5"/>
<circle cx="412.0" cy="455.2" r="0.6" fill="#8ab4e6" fill-opacity="0.5"/>
<circle cx="405.8" cy="464.5" r="0.6" fill="#8ab4e6" fill-opacity="0.5"/>
<circle cx="405.2" cy="464.2" r="0.6" fill="#8ab4e6" fill-opacity="0.5"/>
<circle cx="403.9" cy="464.5" r="0.6" fill="#8ab4e6" fill-opacity="0.5"/>
<circle cx="409.1" cy="456.9" r="0.6" fill="#8ab4e6" fill-opacity="0.5"/>
<circle cx="408.0" cy="455.5" r="0.6" fill="#8ab4e6" fill-opacity="0.5"/>
<circle cx="413.0" cy="464.5" r="0.6" fill="#8ab4e6" fill-opacity="0.5"/>
<circle cx="409.6" cy="462.9" r="0.6" fill="#8ab4e6" fill-opacity="0.5"/>
<circle cx="404.3" cy="455.3" r="0.6" fill="#8ab4e6" fill-opacity="0.5"/>
<circle cx="396.5" cy="464.4" r="1.25" fill="#d8cc20" stroke="#403800" stroke-width="0.6"/>
<circle cx="422.5" cy="464.4" r="1.25" fill="#d8cc20" stroke="#403800" stroke-width="0.6"/>
<circle cx="392.2" cy="458.4" r="1.15" fill="#e0a020" stroke="#403000" stroke-width="0.55"/>
<circle cx="395.6" cy="459.0" r="1.15" fill="#e0a020" stroke="#403000" stroke-width="0.55"/>
<circle cx="400.7" cy="464.4" r="1.25" fill="#7a30a0" stroke="#2a0838" stroke-width="0.6"/>
<circle cx="402.2" cy="464.6" r="1.25" fill="#7a30a0" stroke="#2a0838" stroke-width="0.6"/>
<circle cx="474.2" cy="285.2" r="1.15" fill="#d8861c" stroke="#5a3000" stroke-width="0.5"/>
<circle cx="461.3" cy="364.6" r="1.15" fill="#d8861c" stroke="#5a3000" stroke-width="0.5"/>
<circle cx="483.1" cy="413.0" r="1.15" fill="#d8861c" stroke="#5a3000" stroke-width="0.5"/>
<line x1="300.30" y1="275.60" x2="300.30" y2="472.80" stroke="#000" stroke-width="1.8"/>
<line x1="299.50" y1="472.00" x2="503.30" y2="472.00" stroke="#000" stroke-width="1.8"/>
<line x1="296.70" y1="464.90" x2="300.30" y2="464.90" stroke="#111" stroke-width="1.0"/>
<text x="292.30" y="468.57" font-size="10.2" text-anchor="end" fill="#111" stroke="#111" stroke-width="0.2">0</text>
<line x1="296.70" y1="429.20" x2="300.30" y2="429.20" stroke="#111" stroke-width="1.0"/>
<text x="292.30" y="432.87" font-size="10.2" text-anchor="end" fill="#111" stroke="#111" stroke-width="0.2">10</text>
<line x1="296.70" y1="393.50" x2="300.30" y2="393.50" stroke="#111" stroke-width="1.0"/>
<text x="292.30" y="397.17" font-size="10.2" text-anchor="end" fill="#111" stroke="#111" stroke-width="0.2">20</text>
<line x1="296.70" y1="357.80" x2="300.30" y2="357.80" stroke="#111" stroke-width="1.0"/>
<text x="292.30" y="361.47" font-size="10.2" text-anchor="end" fill="#111" stroke="#111" stroke-width="0.2">30</text>
<line x1="296.70" y1="322.10" x2="300.30" y2="322.10" stroke="#111" stroke-width="1.0"/>
<text x="292.30" y="325.77" font-size="10.2" text-anchor="end" fill="#111" stroke="#111" stroke-width="0.2">40</text>
<line x1="296.70" y1="286.40" x2="300.30" y2="286.40" stroke="#111" stroke-width="1.0"/>
<text x="292.30" y="290.07" font-size="10.2" text-anchor="end" fill="#111" stroke="#111" stroke-width="0.2">50</text>
<line x1="316.90" y1="472.00" x2="316.90" y2="475.80" stroke="#111" stroke-width="1.0"/>
<text x="316.90" y="487.70" font-size="9.6" text-anchor="middle" fill="#111" stroke="#111" stroke-width="0.2">−8</text>
<line x1="338.30" y1="472.00" x2="338.30" y2="475.80" stroke="#111" stroke-width="1.0"/>
<text x="338.30" y="487.70" font-size="9.6" text-anchor="middle" fill="#111" stroke="#111" stroke-width="0.2">−6</text>
<line x1="359.70" y1="472.00" x2="359.70" y2="475.80" stroke="#111" stroke-width="1.0"/>
<text x="359.70" y="487.70" font-size="9.6" text-anchor="middle" fill="#111" stroke="#111" stroke-width="0.2">−4</text>
<line x1="381.10" y1="472.00" x2="381.10" y2="475.80" stroke="#111" stroke-width="1.0"/>
<text x="381.10" y="487.70" font-size="9.6" text-anchor="middle" fill="#111" stroke="#111" stroke-width="0.2">−2</text>
<line x1="402.50" y1="472.00" x2="402.50" y2="475.80" stroke="#111" stroke-width="1.0"/>
<text x="402.50" y="487.70" font-size="9.6" text-anchor="middle" fill="#111" stroke="#111" stroke-width="0.2">0</text>
<line x1="423.90" y1="472.00" x2="423.90" y2="475.80" stroke="#111" stroke-width="1.0"/>
<text x="423.90" y="487.70" font-size="9.6" text-anchor="middle" fill="#111" stroke="#111" stroke-width="0.2">2</text>
<line x1="445.30" y1="472.00" x2="445.30" y2="475.80" stroke="#111" stroke-width="1.0"/>
<text x="445.30" y="487.70" font-size="9.6" text-anchor="middle" fill="#111" stroke="#111" stroke-width="0.2">4</text>
<line x1="466.70" y1="472.00" x2="466.70" y2="475.80" stroke="#111" stroke-width="1.0"/>
<text x="466.70" y="487.70" font-size="9.6" text-anchor="middle" fill="#111" stroke="#111" stroke-width="0.2">6</text>
<line x1="488.10" y1="472.00" x2="488.10" y2="475.80" stroke="#111" stroke-width="1.0"/>
<text x="488.10" y="487.70" font-size="9.6" text-anchor="middle" fill="#111" stroke="#111" stroke-width="0.2">8</text>
<text font-size="11" text-anchor="middle" fill="#111" transform="translate(269.6,373.8) rotate(-90) scale(0.8,1)">-Log<tspan font-size="9" dy="5">10</tspan><tspan dy="-5">Padj</tspan></text>
<text x="383.20" y="268.90" font-size="12" text-anchor="start" fill="#111" stroke="#111" stroke-width="0.2" textLength="36.40" lengthAdjust="spacingAndGlyphs">Day 11</text>
<text x="312.10" y="328.50" font-size="9.6" text-anchor="start" fill="#111" stroke="#111" stroke-width="0.2" textLength="63.10" lengthAdjust="spacingAndGlyphs">A-cell enriched</text>
<text x="323.80" y="340.10" font-size="9.6" text-anchor="start" fill="#111" stroke="#111" stroke-width="0.2" textLength="51.40" lengthAdjust="spacingAndGlyphs">9 transcripts</text>
<text x="417.70" y="328.90" font-size="9.6" text-anchor="start" fill="#111" stroke="#111" stroke-width="0.2" textLength="61.40" lengthAdjust="spacingAndGlyphs">F-cell enriched</text>
<text x="427.90" y="339.40" font-size="9.6" text-anchor="start" fill="#111" stroke="#111" stroke-width="0.2" textLength="51.20" lengthAdjust="spacingAndGlyphs">8 transcripts</text>
<text x="462.90" y="298.50" font-size="9.6" text-anchor="start" fill="#111" stroke="#111" stroke-width="0.2" textLength="24.80" lengthAdjust="spacingAndGlyphs">HBG2</text>
<text x="454.00" y="380.00" font-size="9.6" text-anchor="start" fill="#111" stroke="#111" stroke-width="0.2" textLength="27.80" lengthAdjust="spacingAndGlyphs">BGLT3</text>
<text x="452.20" y="418.00" font-size="9.6" text-anchor="start" fill="#111" stroke="#111" stroke-width="0.2" textLength="24.20" lengthAdjust="spacingAndGlyphs">HBG1</text>
<text x="462.70" y="448.10" font-size="9.6" text-anchor="start" fill="#111" stroke="#111" stroke-width="0.2" textLength="33.60" lengthAdjust="spacingAndGlyphs">HBG1/2</text>
<line x1="396.47" y1="531.70" x2="396.47" y2="723.80" stroke="#e2e2e2" stroke-width="1.3"/>
<line x1="406.99" y1="531.70" x2="406.99" y2="723.80" stroke="#e2e2e2" stroke-width="1.3"/>
<line x1="300.40" y1="716.80" x2="503.30" y2="716.80" stroke="#e2e2e2" stroke-width="1.2"/>
<circle cx="356.8" cy="717.9" r="0.7" fill="#9cc0ea" fill-opacity="0.6"/>
<circle cx="412.9" cy="716.7" r="0.7" fill="#9cc0ea" fill-opacity="0.6"/>
<circle cx="417.2" cy="718.4" r="0.7" fill="#9cc0ea" fill-opacity="0.6"/>
<circle cx="384.8" cy="719.1" r="0.7" fill="#9cc0ea" fill-opacity="0.6"/>
<circle cx="460.5" cy="716.6" r="0.7" fill="#9cc0ea" fill-opacity="0.6"/>
<circle cx="351.6" cy="719.5" r="0.7" fill="#9cc0ea" fill-opacity="0.6"/>
<circle cx="356.6" cy="718.5" r="0.7" fill="#9cc0ea" fill-opacity="0.6"/>
<circle cx="451.3" cy="716.8" r="0.7" fill="#9cc0ea" fill-opacity="0.6"/>
<circle cx="441.7" cy="719.5" r="0.7" fill="#9cc0ea" fill-opacity="0.6"/>
<circle cx="434.3" cy="717.4" r="0.7" fill="#9cc0ea" fill-opacity="0.6"/>
<circle cx="413.8" cy="716.6" r="0.7" fill="#9cc0ea" fill-opacity="0.6"/>
<circle cx="327.3" cy="719.2" r="0.7" fill="#9cc0ea" fill-opacity="0.6"/>
<circle cx="429.7" cy="716.7" r="0.7" fill="#9cc0ea" fill-opacity="0.6"/>
<circle cx="418.2" cy="718.7" r="0.7" fill="#9cc0ea" fill-opacity="0.6"/>
<circle cx="405.7" cy="717.3" r="0.7" fill="#9cc0ea" fill-opacity="0.6"/>
<circle cx="334.6" cy="718.6" r="0.7" fill="#9cc0ea" fill-opacity="0.6"/>
<circle cx="356.8" cy="719.2" r="0.7" fill="#9cc0ea" fill-opacity="0.6"/>
<circle cx="389.6" cy="719.1" r="0.7" fill="#9cc0ea" fill-opacity="0.6"/>
<circle cx="354.1" cy="719.2" r="0.7" fill="#9cc0ea" fill-opacity="0.6"/>
<circle cx="418.4" cy="719.6" r="0.7" fill="#9cc0ea" fill-opacity="0.6"/>
<circle cx="424.2" cy="719.0" r="0.7" fill="#9cc0ea" fill-opacity="0.6"/>
<circle cx="324.4" cy="716.8" r="0.7" fill="#9cc0ea" fill-opacity="0.6"/>
<circle cx="351.4" cy="716.7" r="0.7" fill="#9cc0ea" fill-opacity="0.6"/>
<circle cx="446.0" cy="716.9" r="0.7" fill="#9cc0ea" fill-opacity="0.6"/>
<circle cx="339.6" cy="718.2" r="0.7" fill="#9cc0ea" fill-opacity="0.6"/>
<circle cx="333.3" cy="716.8" r="0.7" fill="#9cc0ea" fill-opacity="0.6"/>
<circle cx="442.5" cy="717.7" r="0.7" fill="#9cc0ea" fill-opacity="0.6"/>
<circle cx="385.4" cy="718.6" r="0.7" fill="#9cc0ea" fill-opacity="0.6"/>
<circle cx="439.6" cy="718.1" r="0.7" fill="#9cc0ea" fill-opacity="0.6"/>
<circle cx="411.1" cy="719.2" r="0.7" fill="#9cc0ea" fill-opacity="0.6"/>
<circle cx="351.6" cy="719.4" r="0.7" fill="#9cc0ea" fill-opacity="0.6"/>
<circle cx="423.6" cy="717.9" r="0.7" fill="#9cc0ea" fill-opacity="0.6"/>
<circle cx="340.3" cy="716.9" r="0.7" fill="#9cc0ea" fill-opacity="0.6"/>
<circle cx="358.2" cy="718.3" r="0.7" fill="#9cc0ea" fill-opacity="0.6"/>
<circle cx="341.9" cy="718.8" r="0.7" fill="#9cc0ea" fill-opacity="0.6"/>
<circle cx="442.1" cy="718.6" r="0.7" fill="#9cc0ea" fill-opacity="0.6"/>
<circle cx="343.7" cy="718.1" r="0.7" fill="#9cc0ea" fill-opacity="0.6"/>
<circle cx="365.7" cy="716.8" r="0.7" fill="#9cc0ea" fill-opacity="0.6"/>
<circle cx="335.9" cy="716.6" r="0.7" fill="#9cc0ea" fill-opacity="0.6"/>
<circle cx="327.5" cy="716.9" r="0.7" fill="#9cc0ea" fill-opacity="0.6"/>
<circle cx="417.0" cy="719.0" r="0.7" fill="#9cc0ea" fill-opacity="0.6"/>
<circle cx="389.0" cy="718.7" r="0.7" fill="#9cc0ea" fill-opacity="0.6"/>
<circle cx="356.9" cy="719.0" r="0.7" fill="#9cc0ea" fill-opacity="0.6"/>
<circle cx="372.5" cy="716.6" r="0.7" fill="#9cc0ea" fill-opacity="0.6"/>
<circle cx="465.3" cy="716.8" r="0.7" fill="#9cc0ea" fill-opacity="0.6"/>
<circle cx="333.4" cy="718.7" r="0.7" fill="#9cc0ea" fill-opacity="0.6"/>
<circle cx="450.4" cy="719.4" r="0.7" fill="#9cc0ea" fill-opacity="0.6"/>
<circle cx="425.5" cy="718.7" r="0.7" fill="#9cc0ea" fill-opacity="0.6"/>
<circle cx="462.4" cy="719.6" r="0.7" fill="#9cc0ea" fill-opacity="0.6"/>
<circle cx="437.3" cy="718.6" r="0.7" fill="#9cc0ea" fill-opacity="0.6"/>
<circle cx="339.7" cy="719.6" r="0.7" fill="#9cc0ea" fill-opacity="0.6"/>
<circle cx="441.0" cy="718.0" r="0.7" fill="#9cc0ea" fill-opacity="0.6"/>
<circle cx="346.4" cy="718.3" r="0.7" fill="#9cc0ea" fill-opacity="0.6"/>
<circle cx="452.7" cy="718.9" r="0.7" fill="#9cc0ea" fill-opacity="0.6"/>
<circle cx="402.8" cy="719.2" r="0.7" fill="#9cc0ea" fill-opacity="0.6"/>
<circle cx="345.5" cy="717.2" r="0.7" fill="#9cc0ea" fill-opacity="0.6"/>
<circle cx="423.3" cy="719.0" r="0.7" fill="#9cc0ea" fill-opacity="0.6"/>
<circle cx="330.8" cy="719.3" r="0.7" fill="#9cc0ea" fill-opacity="0.6"/>
<circle cx="408.2" cy="718.1" r="0.7" fill="#9cc0ea" fill-opacity="0.6"/>
<circle cx="359.2" cy="719.0" r="0.7" fill="#9cc0ea" fill-opacity="0.6"/>
<circle cx="408.8" cy="717.4" r="0.7" fill="#9cc0ea" fill-opacity="0.6"/>
<circle cx="438.0" cy="717.8" r="0.7" fill="#9cc0ea" fill-opacity="0.6"/>
<circle cx="348.8" cy="719.4" r="0.7" fill="#9cc0ea" fill-opacity="0.6"/>
<circle cx="426.4" cy="718.4" r="0.7" fill="#9cc0ea" fill-opacity="0.6"/>
<circle cx="424.8" cy="719.4" r="0.7" fill="#9cc0ea" fill-opacity="0.6"/>
<circle cx="437.8" cy="718.6" r="0.7" fill="#9cc0ea" fill-opacity="0.6"/>
<circle cx="442.4" cy="717.0" r="0.7" fill="#9cc0ea" fill-opacity="0.6"/>
<circle cx="391.3" cy="719.6" r="0.7" fill="#9cc0ea" fill-opacity="0.6"/>
<circle cx="452.4" cy="718.1" r="0.7" fill="#9cc0ea" fill-opacity="0.6"/>
<circle cx="446.8" cy="718.8" r="0.7" fill="#9cc0ea" fill-opacity="0.6"/>
<circle cx="346.4" cy="717.1" r="0.7" fill="#9cc0ea" fill-opacity="0.6"/>
<circle cx="372.9" cy="719.1" r="0.7" fill="#9cc0ea" fill-opacity="0.6"/>
<circle cx="373.5" cy="717.8" r="0.7" fill="#9cc0ea" fill-opacity="0.6"/>
<circle cx="319.8" cy="718.0" r="0.7" fill="#9cc0ea" fill-opacity="0.6"/>
<circle cx="384.4" cy="718.0" r="0.7" fill="#9cc0ea" fill-opacity="0.6"/>
<circle cx="336.8" cy="717.4" r="0.7" fill="#9cc0ea" fill-opacity="0.6"/>
<circle cx="438.7" cy="717.0" r="0.7" fill="#9cc0ea" fill-opacity="0.6"/>
<circle cx="366.1" cy="717.4" r="0.7" fill="#9cc0ea" fill-opacity="0.6"/>
<circle cx="375.0" cy="717.3" r="0.7" fill="#9cc0ea" fill-opacity="0.6"/>
<circle cx="328.1" cy="716.9" r="0.7" fill="#9cc0ea" fill-opacity="0.6"/>
<circle cx="458.8" cy="718.1" r="0.7" fill="#9cc0ea" fill-opacity="0.6"/>
<circle cx="394.3" cy="718.0" r="0.7" fill="#9cc0ea" fill-opacity="0.6"/>
<circle cx="397.8" cy="719.5" r="0.7" fill="#9cc0ea" fill-opacity="0.6"/>
<circle cx="460.8" cy="718.9" r="0.7" fill="#9cc0ea" fill-opacity="0.6"/>
<circle cx="345.9" cy="719.3" r="0.7" fill="#9cc0ea" fill-opacity="0.6"/>
<circle cx="355.8" cy="717.1" r="0.7" fill="#9cc0ea" fill-opacity="0.6"/>
<circle cx="323.6" cy="719.3" r="0.7" fill="#9cc0ea" fill-opacity="0.6"/>
<circle cx="421.5" cy="719.0" r="0.7" fill="#9cc0ea" fill-opacity="0.6"/>
<circle cx="321.7" cy="717.8" r="0.7" fill="#9cc0ea" fill-opacity="0.6"/>
<circle cx="403.5" cy="718.0" r="0.7" fill="#9cc0ea" fill-opacity="0.6"/>
<circle cx="422.0" cy="719.3" r="0.7" fill="#9cc0ea" fill-opacity="0.6"/>
<circle cx="446.4" cy="717.4" r="0.7" fill="#9cc0ea" fill-opacity="0.6"/>
<circle cx="325.8" cy="719.2" r="0.7" fill="#9cc0ea" fill-opacity="0.6"/>
<circle cx="391.4" cy="718.1" r="0.7" fill="#9cc0ea" fill-opacity="0.6"/>
<circle cx="360.1" cy="719.2" r="0.7" fill="#9cc0ea" fill-opacity="0.6"/>
<circle cx="378.5" cy="719.2" r="0.7" fill="#9cc0ea" fill-opacity="0.6"/>
<circle cx="405.8" cy="717.0" r="0.7" fill="#9cc0ea" fill-opacity="0.6"/>
<circle cx="340.7" cy="717.9" r="0.7" fill="#9cc0ea" fill-opacity="0.6"/>
<circle cx="428.4" cy="719.1" r="0.7" fill="#9cc0ea" fill-opacity="0.6"/>
<circle cx="440.1" cy="716.7" r="0.7" fill="#9cc0ea" fill-opacity="0.6"/>
<circle cx="376.1" cy="718.3" r="0.7" fill="#9cc0ea" fill-opacity="0.6"/>
<circle cx="442.1" cy="718.0" r="0.7" fill="#9cc0ea" fill-opacity="0.6"/>
<circle cx="377.1" cy="716.7" r="0.7" fill="#9cc0ea" fill-opacity="0.6"/>
<circle cx="432.9" cy="718.6" r="0.7" fill="#9cc0ea" fill-opacity="0.6"/>
<circle cx="354.3" cy="718.6" r="0.7" fill="#9cc0ea" fill-opacity="0.6"/>
<circle cx="382.9" cy="716.6" r="0.7" fill="#9cc0ea" fill-opacity="0.6"/>
<circle cx="436.9" cy="716.8" r="0.7" fill="#9cc0ea" fill-opacity="0.6"/>
<circle cx="438.5" cy="717.0" r="0.7" fill="#9cc0ea" fill-opacity="0.6"/>
<circle cx="327.0" cy="718.0" r="0.7" fill="#9cc0ea" fill-opacity="0.6"/>
<circle cx="459.4" cy="716.7" r="0.7" fill="#9cc0ea" fill-opacity="0.6"/>
<circle cx="355.6" cy="718.3" r="0.7" fill="#9cc0ea" fill-opacity="0.6"/>
<circle cx="411.8" cy="718.5" r="0.7" fill="#9cc0ea" fill-opacity="0.6"/>
<circle cx="396.9" cy="719.4" r="0.7" fill="#9cc0ea" fill-opacity="0.6"/>
<circle cx="382.5" cy="718.1" r="0.7" fill="#9cc0ea" fill-opacity="0.6"/>
<circle cx="322.2" cy="719.2" r="0.7" fill="#9cc0ea" fill-opacity="0.6"/>
<circle cx="461.1" cy="717.2" r="0.7" fill="#9cc0ea" fill-opacity="0.6"/>
<circle cx="456.3" cy="717.7" r="0.7" fill="#9cc0ea" fill-opacity="0.6"/>
<circle cx="437.6" cy="716.9" r="0.7" fill="#9cc0ea" fill-opacity="0.6"/>
<circle cx="448.7" cy="719.5" r="0.7" fill="#9cc0ea" fill-opacity="0.6"/>
<circle cx="413.1" cy="718.8" r="0.7" fill="#9cc0ea" fill-opacity="0.6"/>
<circle cx="418.5" cy="718.8" r="0.7" fill="#9cc0ea" fill-opacity="0.6"/>
<circle cx="398.5" cy="716.8" r="0.7" fill="#9cc0ea" fill-opacity="0.6"/>
<circle cx="410.1" cy="718.8" r="0.7" fill="#9cc0ea" fill-opacity="0.6"/>
<circle cx="395.3" cy="718.3" r="0.7" fill="#9cc0ea" fill-opacity="0.6"/>
<circle cx="458.4" cy="718.7" r="0.7" fill="#9cc0ea" fill-opacity="0.6"/>
<circle cx="363.9" cy="717.6" r="0.7" fill="#9cc0ea" fill-opacity="0.6"/>
<circle cx="336.8" cy="717.8" r="0.7" fill="#9cc0ea" fill-opacity="0.6"/>
<circle cx="459.1" cy="718.0" r="0.7" fill="#9cc0ea" fill-opacity="0.6"/>
<circle cx="358.4" cy="718.2" r="0.7" fill="#9cc0ea" fill-opacity="0.6"/>
<circle cx="397.3" cy="719.1" r="0.7" fill="#9cc0ea" fill-opacity="0.6"/>
<circle cx="337.3" cy="719.2" r="0.7" fill="#9cc0ea" fill-opacity="0.6"/>
<circle cx="362.1" cy="718.4" r="0.7" fill="#9cc0ea" fill-opacity="0.6"/>
<circle cx="361.4" cy="718.9" r="0.7" fill="#9cc0ea" fill-opacity="0.6"/>
<circle cx="332.0" cy="717.9" r="0.7" fill="#9cc0ea" fill-opacity="0.6"/>
<circle cx="442.1" cy="717.7" r="0.7" fill="#9cc0ea" fill-opacity="0.6"/>
<circle cx="402.6" cy="717.6" r="0.7" fill="#9cc0ea" fill-opacity="0.6"/>
<circle cx="348.6" cy="717.4" r="0.7" fill="#9cc0ea" fill-opacity="0.6"/>
<circle cx="386.6" cy="717.9" r="0.7" fill="#9cc0ea" fill-opacity="0.6"/>
<circle cx="408.9" cy="718.2" r="0.7" fill="#9cc0ea" fill-opacity="0.6"/>
<circle cx="364.6" cy="718.9" r="0.7" fill="#9cc0ea" fill-opacity="0.6"/>
<circle cx="403.8" cy="718.4" r="0.75" fill="#7eaee6" fill-opacity="0.55"/>
<circle cx="414.5" cy="717.8" r="0.75" fill="#7eaee6" fill-opacity="0.55"/>
<circle cx="411.7" cy="717.0" r="0.75" fill="#7eaee6" fill-opacity="0.55"/>
<circle cx="402.3" cy="718.9" r="0.75" fill="#7eaee6" fill-opacity="0.55"/>
<circle cx="389.5" cy="718.7" r="0.75" fill="#7eaee6" fill-opacity="0.55"/>
<circle cx="397.1" cy="716.6" r="0.75" fill="#7eaee6" fill-opacity="0.55"/>
<circle cx="396.2" cy="719.1" r="0.75" fill="#7eaee6" fill-opacity="0.55"/>
<circle cx="419.6" cy="719.4" r="0.75" fill="#7eaee6" fill-opacity="0.55"/>
<circle cx="409.7" cy="719.4" r="0.75" fill="#7eaee6" fill-opacity="0.55"/>
<circle cx="392.9" cy="718.4" r="0.75" fill="#7eaee6" fill-opacity="0.55"/>
<circle cx="384.9" cy="719.3" r="0.75" fill="#7eaee6" fill-opacity="0.55"/>
<circle cx="408.1" cy="718.9" r="0.75" fill="#7eaee6" fill-opacity="0.55"/>
<circle cx="418.9" cy="719.1" r="0.75" fill="#7eaee6" fill-opacity="0.55"/>
<circle cx="397.0" cy="718.6" r="0.75" fill="#7eaee6" fill-opacity="0.55"/>
<circle cx="391.6" cy="717.7" r="0.75" fill="#7eaee6" fill-opacity="0.55"/>
<circle cx="414.7" cy="717.0" r="0.75" fill="#7eaee6" fill-opacity="0.55"/>
<circle cx="407.2" cy="717.3" r="0.75" fill="#7eaee6" fill-opacity="0.55"/>
<circle cx="389.5" cy="717.3" r="0.75" fill="#7eaee6" fill-opacity="0.55"/>
<circle cx="402.3" cy="717.2" r="0.75" fill="#7eaee6" fill-opacity="0.55"/>
<circle cx="389.1" cy="717.4" r="0.75" fill="#7eaee6" fill-opacity="0.55"/>
<circle cx="406.4" cy="716.9" r="0.75" fill="#7eaee6" fill-opacity="0.55"/>
<circle cx="398.6" cy="719.6" r="0.75" fill="#7eaee6" fill-opacity="0.55"/>
<circle cx="402.9" cy="718.1" r="0.75" fill="#7eaee6" fill-opacity="0.55"/>
<circle cx="387.0" cy="716.7" r="0.75" fill="#7eaee6" fill-opacity="0.55"/>
<circle cx="391.2" cy="717.2" r="0.75" fill="#7eaee6" fill-opacity="0.55"/>
<circle cx="396.5" cy="716.9" r="0.75" fill="#7eaee6" fill-opacity="0.55"/>
<circle cx="393.1" cy="718.2" r="0.75" fill="#7eaee6" fill-opacity="0.55"/>
<circle cx="394.8" cy="718.2" r="0.75" fill="#7eaee6" fill-opacity="0.55"/>
<circle cx="400.0" cy="718.4" r="0.75" fill="#7eaee6" fill-opacity="0.55"/>
<circle cx="392.5" cy="717.9" r="0.75" fill="#7eaee6" fill-opacity="0.55"/>
<circle cx="394.3" cy="717.2" r="0.75" fill="#7eaee6" fill-opacity="0.55"/>
<circle cx="407.9" cy="717.0" r="0.75" fill="#7eaee6" fill-opacity="0.55"/>
<circle cx="389.6" cy="719.0" r="0.75" fill="#7eaee6" fill-opacity="0.55"/>
<circle cx="401.5" cy="718.7" r="0.75" fill="#7eaee6" fill-opacity="0.55"/>
<circle cx="410.3" cy="717.8" r="0.75" fill="#7eaee6" fill-opacity="0.55"/>
<circle cx="412.9" cy="719.3" r="0.75" fill="#7eaee6" fill-opacity="0.55"/>
<circle cx="410.0" cy="717.0" r="0.75" fill="#7eaee6" fill-opacity="0.55"/>
<circle cx="396.8" cy="717.0" r="0.75" fill="#7eaee6" fill-opacity="0.55"/>
<circle cx="408.7" cy="718.3" r="0.75" fill="#7eaee6" fill-opacity="0.55"/>
<circle cx="399.6" cy="716.8" r="0.75" fill="#7eaee6" fill-opacity="0.55"/>
<circle cx="404.9" cy="717.9" r="0.75" fill="#7eaee6" fill-opacity="0.55"/>
<circle cx="401.7" cy="718.1" r="0.75" fill="#7eaee6" fill-opacity="0.55"/>
<circle cx="418.1" cy="718.0" r="0.75" fill="#7eaee6" fill-opacity="0.55"/>
<circle cx="392.4" cy="716.6" r="0.75" fill="#7eaee6" fill-opacity="0.55"/>
<circle cx="388.3" cy="717.5" r="0.75" fill="#7eaee6" fill-opacity="0.55"/>
<circle cx="400.1" cy="718.4" r="0.75" fill="#7eaee6" fill-opacity="0.55"/>
<circle cx="392.3" cy="718.5" r="0.75" fill="#7eaee6" fill-opacity="0.55"/>
<circle cx="413.0" cy="716.7" r="0.75" fill="#7eaee6" fill-opacity="0.55"/>
<circle cx="395.5" cy="719.3" r="0.75" fill="#7eaee6" fill-opacity="0.55"/>
<circle cx="389.5" cy="718.5" r="0.75" fill="#7eaee6" fill-opacity="0.55"/>
<circle cx="390.0" cy="717.8" r="0.75" fill="#7eaee6" fill-opacity="0.55"/>
<circle cx="409.7" cy="716.9" r="0.75" fill="#7eaee6" fill-opacity="0.55"/>
<circle cx="413.9" cy="718.3" r="0.75" fill="#7eaee6" fill-opacity="0.55"/>
<circle cx="398.7" cy="717.7" r="0.75" fill="#7eaee6" fill-opacity="0.55"/>
<circle cx="411.6" cy="718.0" r="0.75" fill="#7eaee6" fill-opacity="0.55"/>
<circle cx="401.3" cy="717.1" r="0.75" fill="#7eaee6" fill-opacity="0.55"/>
<circle cx="406.1" cy="716.6" r="0.75" fill="#7eaee6" fill-opacity="0.55"/>
<circle cx="409.9" cy="717.1" r="0.75" fill="#7eaee6" fill-opacity="0.55"/>
<circle cx="396.2" cy="716.9" r="0.75" fill="#7eaee6" fill-opacity="0.55"/>
<circle cx="401.1" cy="717.5" r="0.75" fill="#7eaee6" fill-opacity="0.55"/>
<circle cx="415.8" cy="716.9" r="0.75" fill="#7eaee6" fill-opacity="0.55"/>
<circle cx="371.3" cy="718.3" r="0.75" fill="#7eaee6" fill-opacity="0.55"/>
<circle cx="406.5" cy="718.0" r="0.75" fill="#7eaee6" fill-opacity="0.55"/>
<circle cx="409.1" cy="718.1" r="0.75" fill="#7eaee6" fill-opacity="0.55"/>
<circle cx="404.1" cy="717.7" r="0.75" fill="#7eaee6" fill-opacity="0.55"/>
<circle cx="407.9" cy="717.8" r="0.75" fill="#7eaee6" fill-opacity="0.55"/>
<circle cx="380.4" cy="717.7" r="0.75" fill="#7eaee6" fill-opacity="0.55"/>
<circle cx="429.4" cy="719.5" r="0.75" fill="#7eaee6" fill-opacity="0.55"/>
<circle cx="385.1" cy="718.7" r="0.75" fill="#7eaee6" fill-opacity="0.55"/>
<circle cx="411.7" cy="717.5" r="0.75" fill="#7eaee6" fill-opacity="0.55"/>
<circle cx="410.9" cy="717.0" r="0.75" fill="#7eaee6" fill-opacity="0.55"/>
<circle cx="401.7" cy="717.8" r="0.75" fill="#7eaee6" fill-opacity="0.55"/>
<circle cx="397.9" cy="718.1" r="0.75" fill="#7eaee6" fill-opacity="0.55"/>
<circle cx="395.2" cy="717.9" r="0.75" fill="#7eaee6" fill-opacity="0.55"/>
<circle cx="399.9" cy="718.0" r="0.75" fill="#7eaee6" fill-opacity="0.55"/>
<circle cx="417.3" cy="716.6" r="0.75" fill="#7eaee6" fill-opacity="0.55"/>
<circle cx="391.4" cy="719.2" r="0.75" fill="#7eaee6" fill-opacity="0.55"/>
<circle cx="396.4" cy="719.1" r="0.75" fill="#7eaee6" fill-opacity="0.55"/>
<circle cx="401.8" cy="719.3" r="0.75" fill="#7eaee6" fill-opacity="0.55"/>
<circle cx="396.3" cy="719.1" r="0.75" fill="#7eaee6" fill-opacity="0.55"/>
<circle cx="381.3" cy="717.7" r="0.75" fill="#7eaee6" fill-opacity="0.55"/>
<circle cx="398.6" cy="717.1" r="0.75" fill="#7eaee6" fill-opacity="0.55"/>
<circle cx="403.1" cy="717.2" r="0.75" fill="#7eaee6" fill-opacity="0.55"/>
<circle cx="402.2" cy="718.6" r="0.75" fill="#7eaee6" fill-opacity="0.55"/>
<circle cx="399.3" cy="719.1" r="0.75" fill="#7eaee6" fill-opacity="0.55"/>
<circle cx="391.5" cy="718.8" r="0.75" fill="#7eaee6" fill-opacity="0.55"/>
<circle cx="420.8" cy="717.8" r="0.75" fill="#7eaee6" fill-opacity="0.55"/>
<circle cx="415.4" cy="718.5" r="0.75" fill="#7eaee6" fill-opacity="0.55"/>
<circle cx="391.2" cy="719.4" r="0.75" fill="#7eaee6" fill-opacity="0.55"/>
<circle cx="404.9" cy="716.9" r="0.75" fill="#7eaee6" fill-opacity="0.55"/>
<circle cx="377.4" cy="718.3" r="0.75" fill="#7eaee6" fill-opacity="0.55"/>
<circle cx="387.7" cy="717.7" r="0.75" fill="#7eaee6" fill-opacity="0.55"/>
<circle cx="401.5" cy="716.8" r="0.75" fill="#7eaee6" fill-opacity="0.55"/>
<circle cx="404.8" cy="717.0" r="0.75" fill="#7eaee6" fill-opacity="0.55"/>
<circle cx="392.2" cy="717.1" r="0.75" fill="#7eaee6" fill-opacity="0.55"/>
<circle cx="423.1" cy="718.7" r="0.75" fill="#7eaee6" fill-opacity="0.55"/>
<circle cx="379.2" cy="718.1" r="0.75" fill="#7eaee6" fill-opacity="0.55"/>
<circle cx="384.8" cy="716.7" r="0.75" fill="#7eaee6" fill-opacity="0.55"/>
<circle cx="402.0" cy="717.4" r="0.75" fill="#7eaee6" fill-opacity="0.55"/>
<circle cx="412.4" cy="718.9" r="0.75" fill="#7eaee6" fill-opacity="0.55"/>
<circle cx="393.4" cy="718.1" r="0.75" fill="#7eaee6" fill-opacity="0.55"/>
<circle cx="422.4" cy="717.2" r="0.75" fill="#7eaee6" fill-opacity="0.55"/>
<circle cx="401.8" cy="718.5" r="0.75" fill="#7eaee6" fill-opacity="0.55"/>
<circle cx="408.3" cy="719.0" r="0.75" fill="#7eaee6" fill-opacity="0.55"/>
<circle cx="410.5" cy="717.9" r="0.75" fill="#7eaee6" fill-opacity="0.55"/>
<circle cx="399.9" cy="719.2" r="0.75" fill="#7eaee6" fill-opacity="0.55"/>
<circle cx="390.9" cy="718.4" r="0.75" fill="#7eaee6" fill-opacity="0.55"/>
<circle cx="399.2" cy="719.4" r="0.75" fill="#7eaee6" fill-opacity="0.55"/>
<circle cx="416.2" cy="718.5" r="0.75" fill="#7eaee6" fill-opacity="0.55"/>
<circle cx="415.9" cy="718.9" r="0.75" fill="#7eaee6" fill-opacity="0.55"/>
<circle cx="404.7" cy="718.9" r="0.75" fill="#7eaee6" fill-opacity="0.55"/>
<circle cx="409.9" cy="719.5" r="0.75" fill="#7eaee6" fill-opacity="0.55"/>
<circle cx="396.4" cy="719.1" r="0.75" fill="#7eaee6" fill-opacity="0.55"/>
<circle cx="392.9" cy="717.4" r="0.75" fill="#7eaee6" fill-opacity="0.55"/>
<circle cx="408.8" cy="717.1" r="0.75" fill="#7eaee6" fill-opacity="0.55"/>
<circle cx="406.3" cy="719.2" r="0.75" fill="#7eaee6" fill-opacity="0.55"/>
<circle cx="381.9" cy="717.1" r="0.75" fill="#7eaee6" fill-opacity="0.55"/>
<circle cx="408.8" cy="719.1" r="0.75" fill="#7eaee6" fill-opacity="0.55"/>
<circle cx="390.9" cy="718.4" r="0.75" fill="#7eaee6" fill-opacity="0.55"/>
<circle cx="415.5" cy="716.7" r="0.75" fill="#7eaee6" fill-opacity="0.55"/>
<circle cx="408.5" cy="718.1" r="0.75" fill="#7eaee6" fill-opacity="0.55"/>
<circle cx="427.5" cy="718.9" r="0.75" fill="#7eaee6" fill-opacity="0.55"/>
<circle cx="395.9" cy="717.4" r="0.75" fill="#7eaee6" fill-opacity="0.55"/>
<circle cx="403.2" cy="718.8" r="0.75" fill="#7eaee6" fill-opacity="0.55"/>
<circle cx="413.3" cy="718.5" r="0.75" fill="#7eaee6" fill-opacity="0.55"/>
<circle cx="392.9" cy="718.8" r="0.75" fill="#7eaee6" fill-opacity="0.55"/>
<circle cx="395.6" cy="716.9" r="0.75" fill="#7eaee6" fill-opacity="0.55"/>
<circle cx="396.7" cy="719.2" r="0.75" fill="#7eaee6" fill-opacity="0.55"/>
<circle cx="387.8" cy="718.8" r="0.75" fill="#7eaee6" fill-opacity="0.55"/>
<circle cx="400.4" cy="717.2" r="0.75" fill="#7eaee6" fill-opacity="0.55"/>
<circle cx="389.5" cy="717.9" r="0.75" fill="#7eaee6" fill-opacity="0.55"/>
<circle cx="412.1" cy="718.7" r="0.75" fill="#7eaee6" fill-opacity="0.55"/>
<circle cx="397.9" cy="719.1" r="0.75" fill="#7eaee6" fill-opacity="0.55"/>
<circle cx="404.5" cy="717.0" r="0.75" fill="#7eaee6" fill-opacity="0.55"/>
<circle cx="394.5" cy="719.3" r="0.75" fill="#7eaee6" fill-opacity="0.55"/>
<circle cx="416.1" cy="717.9" r="0.75" fill="#7eaee6" fill-opacity="0.55"/>
<circle cx="393.2" cy="718.7" r="0.75" fill="#7eaee6" fill-opacity="0.55"/>
<circle cx="411.4" cy="719.4" r="0.75" fill="#7eaee6" fill-opacity="0.55"/>
<circle cx="398.5" cy="719.2" r="0.75" fill="#7eaee6" fill-opacity="0.55"/>
<circle cx="408.8" cy="717.4" r="0.75" fill="#7eaee6" fill-opacity="0.55"/>
<circle cx="399.2" cy="716.8" r="0.75" fill="#7eaee6" fill-opacity="0.55"/>
<circle cx="412.4" cy="717.2" r="0.75" fill="#7eaee6" fill-opacity="0.55"/>
<circle cx="417.7" cy="719.2" r="0.75" fill="#7eaee6" fill-opacity="0.55"/>
<circle cx="386.8" cy="718.8" r="0.75" fill="#7eaee6" fill-opacity="0.55"/>
<circle cx="417.8" cy="717.6" r="0.75" fill="#7eaee6" fill-opacity="0.55"/>
<circle cx="404.6" cy="718.5" r="0.75" fill="#7eaee6" fill-opacity="0.55"/>
<circle cx="387.8" cy="717.5" r="0.75" fill="#7eaee6" fill-opacity="0.55"/>
<circle cx="409.9" cy="718.8" r="0.75" fill="#7eaee6" fill-opacity="0.55"/>
<circle cx="407.3" cy="717.7" r="0.75" fill="#7eaee6" fill-opacity="0.55"/>
<circle cx="393.1" cy="719.0" r="0.75" fill="#7eaee6" fill-opacity="0.55"/>
<circle cx="419.7" cy="717.4" r="0.75" fill="#7eaee6" fill-opacity="0.55"/>
<circle cx="417.6" cy="717.4" r="0.75" fill="#7eaee6" fill-opacity="0.55"/>
<circle cx="404.5" cy="719.1" r="0.75" fill="#7eaee6" fill-opacity="0.55"/>
<circle cx="402.3" cy="719.0" r="0.75" fill="#7eaee6" fill-opacity="0.55"/>
<circle cx="398.0" cy="719.5" r="0.75" fill="#7eaee6" fill-opacity="0.55"/>
<circle cx="411.7" cy="718.7" r="0.75" fill="#7eaee6" fill-opacity="0.55"/>
<circle cx="397.0" cy="717.0" r="0.75" fill="#7eaee6" fill-opacity="0.55"/>
<circle cx="396.2" cy="717.9" r="0.75" fill="#7eaee6" fill-opacity="0.55"/>
<circle cx="399.7" cy="718.3" r="0.75" fill="#7eaee6" fill-opacity="0.55"/>
<circle cx="393.3" cy="717.5" r="0.75" fill="#7eaee6" fill-opacity="0.55"/>
<circle cx="401.2" cy="717.1" r="0.75" fill="#7eaee6" fill-opacity="0.55"/>
<circle cx="401.9" cy="717.2" r="0.75" fill="#7eaee6" fill-opacity="0.55"/>
<circle cx="400.8" cy="717.0" r="0.75" fill="#7eaee6" fill-opacity="0.55"/>
<circle cx="404.7" cy="717.7" r="0.75" fill="#7eaee6" fill-opacity="0.55"/>
<circle cx="409.4" cy="719.3" r="0.75" fill="#7eaee6" fill-opacity="0.55"/>
<circle cx="403.9" cy="717.2" r="0.75" fill="#7eaee6" fill-opacity="0.55"/>
<circle cx="407.5" cy="717.3" r="0.75" fill="#7eaee6" fill-opacity="0.55"/>
<circle cx="425.1" cy="719.3" r="0.75" fill="#7eaee6" fill-opacity="0.55"/>
<circle cx="397.8" cy="717.3" r="0.75" fill="#7eaee6" fill-opacity="0.55"/>
<circle cx="391.2" cy="717.1" r="0.75" fill="#7eaee6" fill-opacity="0.55"/>
<circle cx="400.6" cy="716.7" r="0.75" fill="#7eaee6" fill-opacity="0.55"/>
<circle cx="406.2" cy="718.3" r="0.75" fill="#7eaee6" fill-opacity="0.55"/>
<circle cx="416.7" cy="717.3" r="0.75" fill="#7eaee6" fill-opacity="0.55"/>
<circle cx="394.3" cy="717.1" r="0.75" fill="#7eaee6" fill-opacity="0.55"/>
<circle cx="393.1" cy="719.4" r="0.75" fill="#7eaee6" fill-opacity="0.55"/>
<circle cx="392.8" cy="717.5" r="0.75" fill="#7eaee6" fill-opacity="0.55"/>
<circle cx="389.7" cy="716.8" r="0.75" fill="#7eaee6" fill-opacity="0.55"/>
<circle cx="407.2" cy="719.2" r="0.75" fill="#7eaee6" fill-opacity="0.55"/>
<circle cx="401.7" cy="717.5" r="0.75" fill="#7eaee6" fill-opacity="0.55"/>
<circle cx="398.2" cy="717.1" r="0.75" fill="#7eaee6" fill-opacity="0.55"/>
<circle cx="400.5" cy="716.6" r="0.75" fill="#7eaee6" fill-opacity="0.55"/>
<circle cx="415.3" cy="717.7" r="0.75" fill="#7eaee6" fill-opacity="0.55"/>
<circle cx="393.5" cy="719.4" r="0.75" fill="#7eaee6" fill-opacity="0.55"/>
<circle cx="399.2" cy="718.5" r="0.75" fill="#7eaee6" fill-opacity="0.55"/>
<circle cx="395.2" cy="718.7" r="0.75" fill="#7eaee6" fill-opacity="0.55"/>
<circle cx="405.4" cy="719.2" r="0.75" fill="#7eaee6" fill-opacity="0.55"/>
<circle cx="397.1" cy="718.9" r="0.75" fill="#7eaee6" fill-opacity="0.55"/>
<circle cx="385.7" cy="718.9" r="0.75" fill="#7eaee6" fill-opacity="0.55"/>
<circle cx="389.6" cy="716.7" r="0.75" fill="#7eaee6" fill-opacity="0.55"/>
<circle cx="400.4" cy="718.5" r="0.75" fill="#7eaee6" fill-opacity="0.55"/>
<circle cx="394.5" cy="719.2" r="0.75" fill="#7eaee6" fill-opacity="0.55"/>
<circle cx="423.2" cy="717.9" r="0.75" fill="#7eaee6" fill-opacity="0.55"/>
<circle cx="391.4" cy="717.9" r="0.75" fill="#7eaee6" fill-opacity="0.55"/>
<circle cx="419.0" cy="717.3" r="0.75" fill="#7eaee6" fill-opacity="0.55"/>
<circle cx="409.4" cy="717.8" r="0.75" fill="#7eaee6" fill-opacity="0.55"/>
<circle cx="415.7" cy="718.2" r="0.75" fill="#7eaee6" fill-opacity="0.55"/>
<circle cx="403.6" cy="719.3" r="0.75" fill="#7eaee6" fill-opacity="0.55"/>
<circle cx="380.9" cy="718.7" r="0.75" fill="#7eaee6" fill-opacity="0.55"/>
<circle cx="396.7" cy="719.4" r="0.75" fill="#7eaee6" fill-opacity="0.55"/>
<circle cx="407.2" cy="718.7" r="0.75" fill="#7eaee6" fill-opacity="0.55"/>
<circle cx="407.1" cy="718.2" r="0.75" fill="#7eaee6" fill-opacity="0.55"/>
<circle cx="417.6" cy="719.3" r="0.75" fill="#7eaee6" fill-opacity="0.55"/>
<circle cx="395.9" cy="718.5" r="0.75" fill="#7eaee6" fill-opacity="0.55"/>
<circle cx="412.5" cy="719.1" r="0.75" fill="#7eaee6" fill-opacity="0.55"/>
<circle cx="403.0" cy="716.6" r="0.75" fill="#7eaee6" fill-opacity="0.55"/>
<circle cx="402.2" cy="717.3" r="0.75" fill="#7eaee6" fill-opacity="0.55"/>
<circle cx="416.6" cy="716.6" r="0.75" fill="#7eaee6" fill-opacity="0.55"/>
<circle cx="410.3" cy="717.9" r="0.75" fill="#7eaee6" fill-opacity="0.55"/>
<circle cx="411.4" cy="718.3" r="0.75" fill="#7eaee6" fill-opacity="0.55"/>
<circle cx="409.5" cy="719.0" r="0.75" fill="#7eaee6" fill-opacity="0.55"/>
<circle cx="400.1" cy="716.8" r="0.75" fill="#7eaee6" fill-opacity="0.55"/>
<circle cx="401.1" cy="717.6" r="0.75" fill="#7eaee6" fill-opacity="0.55"/>
<circle cx="383.7" cy="717.6" r="0.75" fill="#7eaee6" fill-opacity="0.55"/>
<circle cx="383.0" cy="718.8" r="0.75" fill="#7eaee6" fill-opacity="0.55"/>
<circle cx="401.7" cy="719.5" r="0.75" fill="#7eaee6" fill-opacity="0.55"/>
<circle cx="407.5" cy="717.2" r="0.75" fill="#7eaee6" fill-opacity="0.55"/>
<circle cx="406.4" cy="719.0" r="0.75" fill="#7eaee6" fill-opacity="0.55"/>
<circle cx="393.7" cy="717.7" r="0.75" fill="#7eaee6" fill-opacity="0.55"/>
<circle cx="415.7" cy="719.1" r="0.75" fill="#7eaee6" fill-opacity="0.55"/>
<circle cx="380.8" cy="717.2" r="0.75" fill="#7eaee6" fill-opacity="0.55"/>
<circle cx="410.3" cy="718.6" r="0.75" fill="#7eaee6" fill-opacity="0.55"/>
<circle cx="385.7" cy="719.0" r="0.75" fill="#7eaee6" fill-opacity="0.55"/>
<circle cx="405.9" cy="718.5" r="0.75" fill="#7eaee6" fill-opacity="0.55"/>
<circle cx="392.9" cy="717.9" r="0.75" fill="#7eaee6" fill-opacity="0.55"/>
<circle cx="387.4" cy="718.9" r="0.75" fill="#7eaee6" fill-opacity="0.55"/>
<circle cx="416.7" cy="719.5" r="0.75" fill="#7eaee6" fill-opacity="0.55"/>
<circle cx="387.4" cy="717.1" r="0.75" fill="#7eaee6" fill-opacity="0.55"/>
<circle cx="395.2" cy="717.4" r="0.75" fill="#7eaee6" fill-opacity="0.55"/>
<circle cx="423.4" cy="718.1" r="0.75" fill="#7eaee6" fill-opacity="0.55"/>
<circle cx="386.7" cy="718.1" r="0.75" fill="#7eaee6" fill-opacity="0.55"/>
<circle cx="406.6" cy="717.8" r="0.75" fill="#7eaee6" fill-opacity="0.55"/>
<circle cx="409.2" cy="719.4" r="0.75" fill="#7eaee6" fill-opacity="0.55"/>
<circle cx="399.0" cy="718.2" r="0.75" fill="#7eaee6" fill-opacity="0.55"/>
<circle cx="395.4" cy="716.6" r="0.75" fill="#7eaee6" fill-opacity="0.55"/>
<circle cx="404.2" cy="718.3" r="0.75" fill="#7eaee6" fill-opacity="0.55"/>
<circle cx="403.2" cy="719.0" r="0.75" fill="#7eaee6" fill-opacity="0.55"/>
<circle cx="401.4" cy="717.0" r="0.75" fill="#7eaee6" fill-opacity="0.55"/>
<circle cx="400.7" cy="717.0" r="0.75" fill="#7eaee6" fill-opacity="0.55"/>
<circle cx="404.2" cy="718.7" r="0.75" fill="#7eaee6" fill-opacity="0.55"/>
<circle cx="390.3" cy="717.6" r="0.75" fill="#7eaee6" fill-opacity="0.55"/>
<circle cx="390.1" cy="718.6" r="0.75" fill="#7eaee6" fill-opacity="0.55"/>
<circle cx="400.4" cy="718.3" r="0.75" fill="#7eaee6" fill-opacity="0.55"/>
<circle cx="391.2" cy="716.8" r="0.75" fill="#7eaee6" fill-opacity="0.55"/>
<circle cx="383.8" cy="719.1" r="0.75" fill="#7eaee6" fill-opacity="0.55"/>
<circle cx="398.1" cy="717.9" r="0.75" fill="#7eaee6" fill-opacity="0.55"/>
<circle cx="412.9" cy="718.5" r="0.75" fill="#7eaee6" fill-opacity="0.55"/>
<circle cx="403.1" cy="718.6" r="0.75" fill="#7eaee6" fill-opacity="0.55"/>
<circle cx="405.9" cy="718.2" r="0.75" fill="#7eaee6" fill-opacity="0.55"/>
<circle cx="425.1" cy="717.0" r="0.75" fill="#7eaee6" fill-opacity="0.55"/>
<circle cx="397.2" cy="716.6" r="0.75" fill="#7eaee6" fill-opacity="0.55"/>
<circle cx="416.3" cy="717.1" r="0.75" fill="#7eaee6" fill-opacity="0.55"/>
<circle cx="397.9" cy="719.4" r="0.75" fill="#7eaee6" fill-opacity="0.55"/>
<circle cx="394.8" cy="718.7" r="0.75" fill="#7eaee6" fill-opacity="0.55"/>
<circle cx="388.0" cy="717.9" r="0.75" fill="#7eaee6" fill-opacity="0.55"/>
<circle cx="413.5" cy="717.6" r="0.75" fill="#7eaee6" fill-opacity="0.55"/>
<circle cx="397.8" cy="718.7" r="0.75" fill="#7eaee6" fill-opacity="0.55"/>
<circle cx="388.9" cy="719.5" r="0.75" fill="#7eaee6" fill-opacity="0.55"/>
<circle cx="420.5" cy="719.0" r="0.75" fill="#7eaee6" fill-opacity="0.55"/>
<circle cx="396.3" cy="719.3" r="0.75" fill="#7eaee6" fill-opacity="0.55"/>
<circle cx="390.7" cy="717.6" r="0.75" fill="#7eaee6" fill-opacity="0.55"/>
<circle cx="391.5" cy="718.3" r="0.75" fill="#7eaee6" fill-opacity="0.55"/>
<circle cx="411.9" cy="718.0" r="0.75" fill="#7eaee6" fill-opacity="0.55"/>
<circle cx="391.4" cy="719.3" r="0.75" fill="#7eaee6" fill-opacity="0.55"/>
<circle cx="397.1" cy="719.0" r="0.75" fill="#7eaee6" fill-opacity="0.55"/>
<circle cx="412.2" cy="719.3" r="0.75" fill="#7eaee6" fill-opacity="0.55"/>
<circle cx="392.7" cy="717.0" r="0.75" fill="#7eaee6" fill-opacity="0.55"/>
<circle cx="401.4" cy="718.0" r="0.75" fill="#7eaee6" fill-opacity="0.55"/>
<circle cx="406.4" cy="718.8" r="0.75" fill="#7eaee6" fill-opacity="0.55"/>
<circle cx="387.6" cy="718.9" r="0.75" fill="#7eaee6" fill-opacity="0.55"/>
<circle cx="402.4" cy="717.9" r="0.75" fill="#7eaee6" fill-opacity="0.55"/>
<circle cx="411.5" cy="717.8" r="0.75" fill="#7eaee6" fill-opacity="0.55"/>
<circle cx="410.1" cy="719.4" r="0.75" fill="#7eaee6" fill-opacity="0.55"/>
<circle cx="397.9" cy="718.3" r="0.75" fill="#7eaee6" fill-opacity="0.55"/>
<circle cx="403.8" cy="717.0" r="0.75" fill="#7eaee6" fill-opacity="0.55"/>
<circle cx="385.0" cy="717.3" r="0.75" fill="#7eaee6" fill-opacity="0.55"/>
<circle cx="396.1" cy="719.3" r="0.75" fill="#7eaee6" fill-opacity="0.55"/>
<circle cx="419.0" cy="719.3" r="0.75" fill="#7eaee6" fill-opacity="0.55"/>
<circle cx="400.5" cy="717.1" r="0.75" fill="#7eaee6" fill-opacity="0.55"/>
<circle cx="396.3" cy="716.7" r="0.75" fill="#7eaee6" fill-opacity="0.55"/>
<circle cx="405.7" cy="717.9" r="0.75" fill="#7eaee6" fill-opacity="0.55"/>
<circle cx="402.4" cy="717.2" r="0.75" fill="#7eaee6" fill-opacity="0.55"/>
<circle cx="395.6" cy="719.4" r="0.75" fill="#7eaee6" fill-opacity="0.55"/>
<circle cx="402.4" cy="719.6" r="0.75" fill="#7eaee6" fill-opacity="0.55"/>
<circle cx="412.1" cy="717.8" r="0.75" fill="#7eaee6" fill-opacity="0.55"/>
<circle cx="403.6" cy="717.4" r="0.75" fill="#7eaee6" fill-opacity="0.55"/>
<circle cx="410.5" cy="718.3" r="0.75" fill="#7eaee6" fill-opacity="0.55"/>
<circle cx="413.2" cy="716.9" r="0.75" fill="#7eaee6" fill-opacity="0.55"/>
<circle cx="391.6" cy="717.9" r="0.75" fill="#7eaee6" fill-opacity="0.55"/>
<circle cx="420.8" cy="719.1" r="0.75" fill="#7eaee6" fill-opacity="0.55"/>
<circle cx="390.5" cy="717.3" r="0.75" fill="#7eaee6" fill-opacity="0.55"/>
<circle cx="391.4" cy="717.5" r="0.75" fill="#7eaee6" fill-opacity="0.55"/>
<circle cx="417.2" cy="717.1" r="0.75" fill="#7eaee6" fill-opacity="0.55"/>
<circle cx="409.1" cy="717.3" r="0.75" fill="#7eaee6" fill-opacity="0.55"/>
<circle cx="408.9" cy="716.7" r="0.75" fill="#7eaee6" fill-opacity="0.55"/>
<circle cx="400.9" cy="717.8" r="0.75" fill="#7eaee6" fill-opacity="0.55"/>
<circle cx="398.3" cy="719.3" r="0.75" fill="#7eaee6" fill-opacity="0.55"/>
<circle cx="382.6" cy="719.3" r="0.75" fill="#7eaee6" fill-opacity="0.55"/>
<circle cx="395.5" cy="716.8" r="0.75" fill="#7eaee6" fill-opacity="0.55"/>
<circle cx="397.7" cy="719.0" r="0.75" fill="#7eaee6" fill-opacity="0.55"/>
<circle cx="394.0" cy="718.2" r="0.75" fill="#7eaee6" fill-opacity="0.55"/>
<circle cx="409.1" cy="719.3" r="0.75" fill="#7eaee6" fill-opacity="0.55"/>
<circle cx="389.2" cy="719.5" r="0.75" fill="#7eaee6" fill-opacity="0.55"/>
<circle cx="416.7" cy="719.0" r="0.75" fill="#7eaee6" fill-opacity="0.55"/>
<circle cx="414.1" cy="717.9" r="0.75" fill="#7eaee6" fill-opacity="0.55"/>
<circle cx="397.3" cy="718.4" r="0.75" fill="#7eaee6" fill-opacity="0.55"/>
<circle cx="417.7" cy="719.2" r="0.75" fill="#7eaee6" fill-opacity="0.55"/>
<circle cx="411.2" cy="717.5" r="0.75" fill="#7eaee6" fill-opacity="0.55"/>
<circle cx="391.9" cy="717.1" r="0.75" fill="#7eaee6" fill-opacity="0.55"/>
<circle cx="403.2" cy="718.6" r="0.75" fill="#7eaee6" fill-opacity="0.55"/>
<circle cx="400.9" cy="719.1" r="0.75" fill="#7eaee6" fill-opacity="0.55"/>
<circle cx="379.2" cy="717.2" r="0.75" fill="#7eaee6" fill-opacity="0.55"/>
<circle cx="401.3" cy="719.5" r="0.75" fill="#7eaee6" fill-opacity="0.55"/>
<circle cx="409.9" cy="717.5" r="0.75" fill="#7eaee6" fill-opacity="0.55"/>
<circle cx="420.0" cy="718.4" r="0.75" fill="#7eaee6" fill-opacity="0.55"/>
<circle cx="395.1" cy="717.0" r="0.75" fill="#7eaee6" fill-opacity="0.55"/>
<circle cx="402.5" cy="718.4" r="0.75" fill="#7eaee6" fill-opacity="0.55"/>
<circle cx="412.0" cy="719.4" r="0.75" fill="#7eaee6" fill-opacity="0.55"/>
<circle cx="390.7" cy="718.6" r="0.75" fill="#7eaee6" fill-opacity="0.55"/>
<circle cx="406.4" cy="717.8" r="0.75" fill="#7eaee6" fill-opacity="0.55"/>
<circle cx="424.2" cy="719.5" r="0.75" fill="#7eaee6" fill-opacity="0.55"/>
<circle cx="406.5" cy="718.2" r="0.75" fill="#7eaee6" fill-opacity="0.55"/>
<circle cx="410.6" cy="717.8" r="0.75" fill="#7eaee6" fill-opacity="0.55"/>
<circle cx="393.7" cy="719.6" r="0.75" fill="#7eaee6" fill-opacity="0.55"/>
<circle cx="408.1" cy="717.8" r="0.75" fill="#7eaee6" fill-opacity="0.55"/>
<circle cx="400.4" cy="718.2" r="0.75" fill="#7eaee6" fill-opacity="0.55"/>
<circle cx="403.4" cy="716.6" r="0.75" fill="#7eaee6" fill-opacity="0.55"/>
<circle cx="407.4" cy="717.6" r="0.75" fill="#7eaee6" fill-opacity="0.55"/>
<circle cx="403.2" cy="718.8" r="0.75" fill="#7eaee6" fill-opacity="0.55"/>
<circle cx="399.6" cy="718.8" r="0.75" fill="#7eaee6" fill-opacity="0.55"/>
<circle cx="414.3" cy="717.9" r="0.75" fill="#7eaee6" fill-opacity="0.55"/>
<circle cx="374.4" cy="716.6" r="0.75" fill="#7eaee6" fill-opacity="0.55"/>
<circle cx="396.7" cy="719.5" r="0.75" fill="#7eaee6" fill-opacity="0.55"/>
<circle cx="384.0" cy="716.9" r="0.75" fill="#7eaee6" fill-opacity="0.55"/>
<circle cx="394.5" cy="717.2" r="0.75" fill="#7eaee6" fill-opacity="0.55"/>
<circle cx="391.1" cy="718.5" r="0.75" fill="#7eaee6" fill-opacity="0.55"/>
<circle cx="389.9" cy="718.7" r="0.75" fill="#7eaee6" fill-opacity="0.55"/>
<circle cx="407.8" cy="716.7" r="0.75" fill="#7eaee6" fill-opacity="0.55"/>
<circle cx="380.1" cy="717.5" r="0.75" fill="#7eaee6" fill-opacity="0.55"/>
<circle cx="395.3" cy="717.3" r="0.75" fill="#7eaee6" fill-opacity="0.55"/>
<circle cx="419.1" cy="718.0" r="0.75" fill="#7eaee6" fill-opacity="0.55"/>
<circle cx="394.8" cy="717.9" r="0.75" fill="#7eaee6" fill-opacity="0.55"/>
<circle cx="393.8" cy="718.4" r="0.75" fill="#7eaee6" fill-opacity="0.55"/>
<circle cx="410.7" cy="718.6" r="0.75" fill="#7eaee6" fill-opacity="0.55"/>
<circle cx="405.2" cy="716.6" r="0.75" fill="#7eaee6" fill-opacity="0.55"/>
<circle cx="391.1" cy="718.9" r="0.75" fill="#7eaee6" fill-opacity="0.55"/>
<circle cx="402.7" cy="718.9" r="0.75" fill="#7eaee6" fill-opacity="0.55"/>
<circle cx="398.0" cy="719.6" r="0.75" fill="#7eaee6" fill-opacity="0.55"/>
<circle cx="406.3" cy="716.9" r="0.75" fill="#7eaee6" fill-opacity="0.55"/>
<circle cx="390.1" cy="717.9" r="0.75" fill="#7eaee6" fill-opacity="0.55"/>
<circle cx="405.0" cy="718.7" r="0.75" fill="#7eaee6" fill-opacity="0.55"/>
<circle cx="403.5" cy="718.7" r="0.75" fill="#7eaee6" fill-opacity="0.55"/>
<circle cx="405.1" cy="718.7" r="0.75" fill="#7eaee6" fill-opacity="0.55"/>
<circle cx="399.5" cy="716.7" r="0.75" fill="#7eaee6" fill-opacity="0.55"/>
<circle cx="387.7" cy="718.6" r="0.75" fill="#7eaee6" fill-opacity="0.55"/>
<circle cx="414.3" cy="719.4" r="0.75" fill="#7eaee6" fill-opacity="0.55"/>
<circle cx="394.6" cy="719.1" r="0.75" fill="#7eaee6" fill-opacity="0.55"/>
<circle cx="373.1" cy="718.5" r="0.75" fill="#7eaee6" fill-opacity="0.55"/>
<circle cx="385.8" cy="717.2" r="0.75" fill="#7eaee6" fill-opacity="0.55"/>
<circle cx="381.6" cy="719.4" r="0.75" fill="#7eaee6" fill-opacity="0.55"/>
<circle cx="411.1" cy="718.1" r="0.75" fill="#7eaee6" fill-opacity="0.55"/>
<circle cx="408.6" cy="718.8" r="0.75" fill="#7eaee6" fill-opacity="0.55"/>
<circle cx="396.3" cy="719.5" r="0.75" fill="#7eaee6" fill-opacity="0.55"/>
<circle cx="405.9" cy="717.4" r="0.75" fill="#7eaee6" fill-opacity="0.55"/>
<circle cx="409.0" cy="718.9" r="0.75" fill="#7eaee6" fill-opacity="0.55"/>
<circle cx="395.6" cy="717.8" r="0.75" fill="#7eaee6" fill-opacity="0.55"/>
<circle cx="405.8" cy="717.0" r="0.75" fill="#7eaee6" fill-opacity="0.55"/>
<circle cx="397.2" cy="717.4" r="0.75" fill="#7eaee6" fill-opacity="0.55"/>
<circle cx="395.7" cy="716.7" r="0.75" fill="#7eaee6" fill-opacity="0.55"/>
<circle cx="397.9" cy="717.1" r="0.75" fill="#7eaee6" fill-opacity="0.55"/>
<circle cx="398.9" cy="716.9" r="0.75" fill="#7eaee6" fill-opacity="0.55"/>
<circle cx="398.3" cy="719.0" r="0.75" fill="#7eaee6" fill-opacity="0.55"/>
<circle cx="406.5" cy="718.0" r="0.75" fill="#7eaee6" fill-opacity="0.55"/>
<circle cx="412.6" cy="716.8" r="0.75" fill="#7eaee6" fill-opacity="0.55"/>
<circle cx="390.4" cy="719.0" r="0.75" fill="#7eaee6" fill-opacity="0.55"/>
<circle cx="393.0" cy="717.6" r="0.75" fill="#7eaee6" fill-opacity="0.55"/>
<circle cx="417.7" cy="718.4" r="0.75" fill="#7eaee6" fill-opacity="0.55"/>
<circle cx="397.2" cy="719.4" r="0.75" fill="#7eaee6" fill-opacity="0.55"/>
<circle cx="392.5" cy="718.3" r="0.75" fill="#7eaee6" fill-opacity="0.55"/>
<circle cx="416.3" cy="718.6" r="0.75" fill="#7eaee6" fill-opacity="0.55"/>
<circle cx="405.8" cy="718.1" r="0.75" fill="#7eaee6" fill-opacity="0.55"/>
<circle cx="394.6" cy="718.2" r="0.75" fill="#7eaee6" fill-opacity="0.55"/>
<circle cx="396.6" cy="719.6" r="0.75" fill="#7eaee6" fill-opacity="0.55"/>
<circle cx="414.1" cy="716.6" r="0.75" fill="#7eaee6" fill-opacity="0.55"/>
<circle cx="395.1" cy="719.4" r="0.75" fill="#7eaee6" fill-opacity="0.55"/>
<circle cx="388.2" cy="718.6" r="0.75" fill="#7eaee6" fill-opacity="0.55"/>
<circle cx="389.9" cy="719.3" r="0.75" fill="#7eaee6" fill-opacity="0.55"/>
<circle cx="404.9" cy="717.3" r="0.75" fill="#7eaee6" fill-opacity="0.55"/>
<circle cx="406.6" cy="719.3" r="0.75" fill="#7eaee6" fill-opacity="0.55"/>
<circle cx="406.0" cy="718.0" r="0.75" fill="#7eaee6" fill-opacity="0.55"/>
<circle cx="390.9" cy="717.8" r="0.75" fill="#7eaee6" fill-opacity="0.55"/>
<circle cx="386.4" cy="717.8" r="0.75" fill="#7eaee6" fill-opacity="0.55"/>
<circle cx="396.1" cy="718.6" r="0.75" fill="#7eaee6" fill-opacity="0.55"/>
<circle cx="401.0" cy="717.4" r="0.75" fill="#7eaee6" fill-opacity="0.55"/>
<circle cx="393.0" cy="717.3" r="0.75" fill="#7eaee6" fill-opacity="0.55"/>
<circle cx="403.0" cy="717.2" r="0.75" fill="#7eaee6" fill-opacity="0.55"/>
<circle cx="392.2" cy="716.6" r="0.75" fill="#7eaee6" fill-opacity="0.55"/>
<circle cx="393.0" cy="718.0" r="0.75" fill="#7eaee6" fill-opacity="0.55"/>
<circle cx="404.1" cy="716.7" r="0.75" fill="#7eaee6" fill-opacity="0.55"/>
<circle cx="402.5" cy="718.1" r="0.75" fill="#7eaee6" fill-opacity="0.55"/>
<circle cx="402.6" cy="717.6" r="0.75" fill="#7eaee6" fill-opacity="0.55"/>
<circle cx="403.1" cy="716.6" r="0.75" fill="#7eaee6" fill-opacity="0.55"/>
<circle cx="391.2" cy="718.9" r="0.75" fill="#7eaee6" fill-opacity="0.55"/>
<circle cx="401.7" cy="719.5" r="0.75" fill="#7eaee6" fill-opacity="0.55"/>
<circle cx="396.7" cy="719.2" r="0.75" fill="#7eaee6" fill-opacity="0.55"/>
<circle cx="413.5" cy="717.9" r="0.75" fill="#7eaee6" fill-opacity="0.55"/>
<circle cx="406.3" cy="719.0" r="0.75" fill="#7eaee6" fill-opacity="0.55"/>
<circle cx="411.2" cy="719.1" r="0.75" fill="#7eaee6" fill-opacity="0.55"/>
<circle cx="397.6" cy="719.1" r="0.75" fill="#7eaee6" fill-opacity="0.55"/>
<circle cx="399.6" cy="719.1" r="0.75" fill="#7eaee6" fill-opacity="0.55"/>
<circle cx="376.8" cy="719.5" r="0.75" fill="#7eaee6" fill-opacity="0.55"/>
<circle cx="402.9" cy="716.6" r="0.75" fill="#7eaee6" fill-opacity="0.55"/>
<circle cx="393.4" cy="718.1" r="0.75" fill="#7eaee6" fill-opacity="0.55"/>
<circle cx="394.9" cy="717.2" r="0.75" fill="#7eaee6" fill-opacity="0.55"/>
<circle cx="393.9" cy="718.2" r="0.75" fill="#7eaee6" fill-opacity="0.55"/>
<circle cx="390.9" cy="719.3" r="0.75" fill="#7eaee6" fill-opacity="0.55"/>
<circle cx="422.7" cy="717.4" r="0.75" fill="#7eaee6" fill-opacity="0.55"/>
<circle cx="416.0" cy="718.4" r="0.75" fill="#7eaee6" fill-opacity="0.55"/>
<circle cx="407.8" cy="717.0" r="0.75" fill="#7eaee6" fill-opacity="0.55"/>
<circle cx="414.7" cy="718.3" r="0.75" fill="#7eaee6" fill-opacity="0.55"/>
<circle cx="406.7" cy="716.8" r="0.75" fill="#7eaee6" fill-opacity="0.55"/>
<circle cx="406.4" cy="701.9" r="0.6" fill="#8ab4e6" fill-opacity="0.6"/>
<circle cx="398.8" cy="716.0" r="0.6" fill="#8ab4e6" fill-opacity="0.6"/>
<circle cx="399.2" cy="716.3" r="0.6" fill="#8ab4e6" fill-opacity="0.6"/>
<circle cx="398.9" cy="716.6" r="0.6" fill="#8ab4e6" fill-opacity="0.6"/>
<circle cx="404.5" cy="713.8" r="0.6" fill="#8ab4e6" fill-opacity="0.6"/>
<circle cx="399.6" cy="716.3" r="0.6" fill="#8ab4e6" fill-opacity="0.6"/>
<circle cx="398.7" cy="713.9" r="0.6" fill="#8ab4e6" fill-opacity="0.6"/>
<circle cx="398.1" cy="708.6" r="0.6" fill="#8ab4e6" fill-opacity="0.6"/>
<circle cx="405.6" cy="711.8" r="0.6" fill="#8ab4e6" fill-opacity="0.6"/>
<circle cx="404.4" cy="713.4" r="0.6" fill="#8ab4e6" fill-opacity="0.6"/>
<circle cx="399.4" cy="717.3" r="0.6" fill="#8ab4e6" fill-opacity="0.6"/>
<circle cx="401.6" cy="719.6" r="0.6" fill="#8ab4e6" fill-opacity="0.6"/>
<circle cx="398.2" cy="710.1" r="0.6" fill="#8ab4e6" fill-opacity="0.6"/>
<circle cx="402.8" cy="718.9" r="0.6" fill="#8ab4e6" fill-opacity="0.6"/>
<circle cx="402.6" cy="718.9" r="0.6" fill="#8ab4e6" fill-opacity="0.6"/>
<circle cx="398.7" cy="712.1" r="0.6" fill="#8ab4e6" fill-opacity="0.6"/>
<circle cx="400.3" cy="718.4" r="0.6" fill="#8ab4e6" fill-opacity="0.6"/>
<circle cx="405.6" cy="713.4" r="0.6" fill="#8ab4e6" fill-opacity="0.6"/>
<circle cx="405.6" cy="705.0" r="0.6" fill="#8ab4e6" fill-opacity="0.6"/>
<circle cx="399.6" cy="719.1" r="0.6" fill="#8ab4e6" fill-opacity="0.6"/>
<circle cx="397.6" cy="703.9" r="0.6" fill="#8ab4e6" fill-opacity="0.6"/>
<circle cx="396.6" cy="693.6" r="0.6" fill="#8ab4e6" fill-opacity="0.6"/>
<circle cx="398.1" cy="709.0" r="0.6" fill="#8ab4e6" fill-opacity="0.6"/>
<circle cx="397.5" cy="712.5" r="0.6" fill="#8ab4e6" fill-opacity="0.6"/>
<circle cx="403.7" cy="718.5" r="0.6" fill="#8ab4e6" fill-opacity="0.6"/>
<circle cx="400.0" cy="717.8" r="0.6" fill="#8ab4e6" fill-opacity="0.6"/>
<circle cx="404.0" cy="714.8" r="0.6" fill="#8ab4e6" fill-opacity="0.6"/>
<circle cx="406.8" cy="714.9" r="0.6" fill="#8ab4e6" fill-opacity="0.6"/>
<circle cx="398.9" cy="713.8" r="0.6" fill="#8ab4e6" fill-opacity="0.6"/>
<circle cx="403.7" cy="718.8" r="0.6" fill="#8ab4e6" fill-opacity="0.6"/>
<circle cx="401.8" cy="719.6" r="0.6" fill="#8ab4e6" fill-opacity="0.6"/>
<circle cx="401.0" cy="719.5" r="0.6" fill="#8ab4e6" fill-opacity="0.6"/>
<circle cx="396.7" cy="693.8" r="0.6" fill="#8ab4e6" fill-opacity="0.6"/>
<circle cx="399.8" cy="717.1" r="0.6" fill="#8ab4e6" fill-opacity="0.6"/>
<circle cx="397.7" cy="709.1" r="0.6" fill="#8ab4e6" fill-opacity="0.6"/>
<circle cx="397.9" cy="710.7" r="0.6" fill="#8ab4e6" fill-opacity="0.6"/>
<circle cx="398.4" cy="711.2" r="0.6" fill="#8ab4e6" fill-opacity="0.6"/>
<circle cx="398.0" cy="708.8" r="0.6" fill="#8ab4e6" fill-opacity="0.6"/>
<circle cx="401.7" cy="719.6" r="0.6" fill="#8ab4e6" fill-opacity="0.6"/>
<circle cx="400.2" cy="718.6" r="0.6" fill="#8ab4e6" fill-opacity="0.6"/>
<circle cx="406.1" cy="708.0" r="0.6" fill="#8ab4e6" fill-opacity="0.6"/>
<circle cx="398.7" cy="712.1" r="0.6" fill="#8ab4e6" fill-opacity="0.6"/>
<circle cx="405.8" cy="705.7" r="0.6" fill="#8ab4e6" fill-opacity="0.6"/>
<circle cx="399.3" cy="717.7" r="0.6" fill="#8ab4e6" fill-opacity="0.6"/>
<circle cx="399.3" cy="718.3" r="0.6" fill="#8ab4e6" fill-opacity="0.6"/>
<circle cx="396.9" cy="703.1" r="0.6" fill="#8ab4e6" fill-opacity="0.6"/>
<circle cx="400.8" cy="719.3" r="0.6" fill="#8ab4e6" fill-opacity="0.6"/>
<circle cx="400.3" cy="719.5" r="0.6" fill="#8ab4e6" fill-opacity="0.6"/>
<circle cx="403.7" cy="716.5" r="0.6" fill="#8ab4e6" fill-opacity="0.6"/>
<circle cx="402.2" cy="719.4" r="0.6" fill="#8ab4e6" fill-opacity="0.6"/>
<circle cx="403.7" cy="715.7" r="0.6" fill="#8ab4e6" fill-opacity="0.6"/>
<circle cx="405.7" cy="706.5" r="0.6" fill="#8ab4e6" fill-opacity="0.6"/>
<circle cx="400.7" cy="719.3" r="0.6" fill="#8ab4e6" fill-opacity="0.6"/>
<circle cx="400.9" cy="719.3" r="0.6" fill="#8ab4e6" fill-opacity="0.6"/>
<circle cx="400.5" cy="719.1" r="0.6" fill="#8ab4e6" fill-opacity="0.6"/>
<circle cx="400.8" cy="719.5" r="0.6" fill="#8ab4e6" fill-opacity="0.6"/>
<circle cx="407.0" cy="717.5" r="0.6" fill="#8ab4e6" fill-opacity="0.6"/>
<circle cx="402.9" cy="718.3" r="0.6" fill="#8ab4e6" fill-opacity="0.6"/>
<circle cx="399.1" cy="715.4" r="0.6" fill="#8ab4e6" fill-opacity="0.6"/>
<circle cx="400.4" cy="719.1" r="0.6" fill="#8ab4e6" fill-opacity="0.6"/>
<circle cx="398.6" cy="716.6" r="0.6" fill="#8ab4e6" fill-opacity="0.6"/>
<circle cx="405.3" cy="708.1" r="0.6" fill="#8ab4e6" fill-opacity="0.6"/>
<circle cx="406.0" cy="715.5" r="0.6" fill="#8ab4e6" fill-opacity="0.6"/>
<circle cx="403.8" cy="717.3" r="0.6" fill="#8ab4e6" fill-opacity="0.6"/>
<circle cx="403.3" cy="717.9" r="0.6" fill="#8ab4e6" fill-opacity="0.6"/>
<circle cx="399.8" cy="717.0" r="0.6" fill="#8ab4e6" fill-opacity="0.6"/>
<circle cx="396.5" cy="695.1" r="0.6" fill="#8ab4e6" fill-opacity="0.6"/>
<circle cx="405.4" cy="709.7" r="0.6" fill="#8ab4e6" fill-opacity="0.6"/>
<circle cx="402.7" cy="718.6" r="0.6" fill="#8ab4e6" fill-opacity="0.6"/>
<circle cx="398.9" cy="714.5" r="0.6" fill="#8ab4e6" fill-opacity="0.6"/>
<circle cx="404.3" cy="715.6" r="0.6" fill="#8ab4e6" fill-opacity="0.6"/>
<circle cx="404.0" cy="716.5" r="0.6" fill="#8ab4e6" fill-opacity="0.6"/>
<circle cx="402.0" cy="719.5" r="0.6" fill="#8ab4e6" fill-opacity="0.6"/>
<circle cx="403.6" cy="717.7" r="0.6" fill="#8ab4e6" fill-opacity="0.6"/>
<circle cx="403.1" cy="718.2" r="0.6" fill="#8ab4e6" fill-opacity="0.6"/>
<circle cx="398.8" cy="714.0" r="0.6" fill="#8ab4e6" fill-opacity="0.6"/>
<circle cx="399.3" cy="715.0" r="0.6" fill="#8ab4e6" fill-opacity="0.6"/>
<circle cx="401.4" cy="719.6" r="0.6" fill="#8ab4e6" fill-opacity="0.6"/>
<circle cx="402.0" cy="719.5" r="0.6" fill="#8ab4e6" fill-opacity="0.6"/>
<circle cx="398.8" cy="716.9" r="0.6" fill="#8ab4e6" fill-opacity="0.6"/>
<circle cx="406.2" cy="704.7" r="0.6" fill="#8ab4e6" fill-opacity="0.6"/>
<circle cx="402.0" cy="719.5" r="0.6" fill="#8ab4e6" fill-opacity="0.6"/>
<circle cx="405.0" cy="714.3" r="0.6" fill="#8ab4e6" fill-opacity="0.6"/>
<circle cx="398.3" cy="709.9" r="0.6" fill="#8ab4e6" fill-opacity="0.6"/>
<circle cx="401.3" cy="719.6" r="0.6" fill="#8ab4e6" fill-opacity="0.6"/>
<circle cx="405.2" cy="708.5" r="0.6" fill="#8ab4e6" fill-opacity="0.6"/>
<circle cx="405.6" cy="716.5" r="0.6" fill="#8ab4e6" fill-opacity="0.6"/>
<circle cx="400.5" cy="718.8" r="0.6" fill="#8ab4e6" fill-opacity="0.6"/>
<circle cx="405.1" cy="715.7" r="0.6" fill="#8ab4e6" fill-opacity="0.6"/>
<circle cx="398.1" cy="713.5" r="0.6" fill="#8ab4e6" fill-opacity="0.6"/>
<circle cx="397.5" cy="709.6" r="0.6" fill="#8ab4e6" fill-opacity="0.6"/>
<circle cx="404.9" cy="712.3" r="0.6" fill="#8ab4e6" fill-opacity="0.6"/>
<circle cx="401.2" cy="719.6" r="0.6" fill="#8ab4e6" fill-opacity="0.6"/>
<circle cx="400.6" cy="719.0" r="0.6" fill="#8ab4e6" fill-opacity="0.6"/>
<circle cx="403.8" cy="716.8" r="0.6" fill="#8ab4e6" fill-opacity="0.6"/>
<circle cx="401.5" cy="719.6" r="0.6" fill="#8ab4e6" fill-opacity="0.6"/>
<circle cx="404.5" cy="716.8" r="0.6" fill="#8ab4e6" fill-opacity="0.6"/>
<circle cx="403.6" cy="717.5" r="0.6" fill="#8ab4e6" fill-opacity="0.6"/>
<circle cx="401.9" cy="719.5" r="0.6" fill="#8ab4e6" fill-opacity="0.6"/>
<circle cx="400.4" cy="719.0" r="0.6" fill="#8ab4e6" fill-opacity="0.6"/>
<circle cx="400.5" cy="719.5" r="0.6" fill="#8ab4e6" fill-opacity="0.6"/>
<circle cx="398.6" cy="713.1" r="0.6" fill="#8ab4e6" fill-opacity="0.6"/>
<circle cx="397.1" cy="710.5" r="0.6" fill="#8ab4e6" fill-opacity="0.6"/>
<circle cx="404.0" cy="716.9" r="0.6" fill="#8ab4e6" fill-opacity="0.6"/>
<circle cx="399.9" cy="718.4" r="0.6" fill="#8ab4e6" fill-opacity="0.6"/>
<circle cx="405.2" cy="715.9" r="0.6" fill="#8ab4e6" fill-opacity="0.6"/>
<circle cx="403.2" cy="717.7" r="0.6" fill="#8ab4e6" fill-opacity="0.6"/>
<circle cx="398.6" cy="714.0" r="0.6" fill="#8ab4e6" fill-opacity="0.6"/>
<circle cx="404.8" cy="712.3" r="0.6" fill="#8ab4e6" fill-opacity="0.6"/>
<circle cx="400.4" cy="719.4" r="0.6" fill="#8ab4e6" fill-opacity="0.6"/>
<circle cx="401.1" cy="719.5" r="0.6" fill="#8ab4e6" fill-opacity="0.6"/>
<circle cx="404.0" cy="716.9" r="0.6" fill="#8ab4e6" fill-opacity="0.6"/>
<circle cx="400.8" cy="719.3" r="0.6" fill="#8ab4e6" fill-opacity="0.6"/>
<circle cx="405.0" cy="713.3" r="0.6" fill="#8ab4e6" fill-opacity="0.6"/>
<circle cx="400.5" cy="719.0" r="0.6" fill="#8ab4e6" fill-opacity="0.6"/>
<circle cx="406.2" cy="710.7" r="0.6" fill="#8ab4e6" fill-opacity="0.6"/>
<circle cx="406.7" cy="698.4" r="0.6" fill="#8ab4e6" fill-opacity="0.6"/>
<circle cx="400.4" cy="718.8" r="0.6" fill="#8ab4e6" fill-opacity="0.6"/>
<circle cx="399.9" cy="719.0" r="0.6" fill="#8ab4e6" fill-opacity="0.6"/>
<circle cx="404.4" cy="715.2" r="0.6" fill="#8ab4e6" fill-opacity="0.6"/>
<circle cx="402.0" cy="719.5" r="0.6" fill="#8ab4e6" fill-opacity="0.6"/>
<circle cx="406.0" cy="704.0" r="0.6" fill="#8ab4e6" fill-opacity="0.6"/>
<circle cx="396.7" cy="700.2" r="0.6" fill="#8ab4e6" fill-opacity="0.6"/>
<circle cx="401.3" cy="719.6" r="0.6" fill="#8ab4e6" fill-opacity="0.6"/>
<circle cx="405.3" cy="711.4" r="0.6" fill="#8ab4e6" fill-opacity="0.6"/>
<circle cx="401.5" cy="719.6" r="0.6" fill="#8ab4e6" fill-opacity="0.6"/>
<circle cx="401.1" cy="719.5" r="0.6" fill="#8ab4e6" fill-opacity="0.6"/>
<circle cx="401.9" cy="719.5" r="0.6" fill="#8ab4e6" fill-opacity="0.6"/>
<circle cx="403.5" cy="716.9" r="0.6" fill="#8ab4e6" fill-opacity="0.6"/>
<circle cx="400.7" cy="719.5" r="0.6" fill="#8ab4e6" fill-opacity="0.6"/>
<circle cx="403.6" cy="717.0" r="0.6" fill="#8ab4e6" fill-opacity="0.6"/>
<circle cx="404.6" cy="712.7" r="0.6" fill="#8ab4e6" fill-opacity="0.6"/>
<circle cx="397.7" cy="712.4" r="0.6" fill="#8ab4e6" fill-opacity="0.6"/>
<circle cx="397.3" cy="702.1" r="0.6" fill="#8ab4e6" fill-opacity="0.6"/>
<circle cx="397.5" cy="714.6" r="0.6" fill="#8ab4e6" fill-opacity="0.6"/>
<circle cx="404.4" cy="714.4" r="0.6" fill="#8ab4e6" fill-opacity="0.6"/>
<circle cx="397.0" cy="701.6" r="0.6" fill="#8ab4e6" fill-opacity="0.6"/>
<circle cx="403.9" cy="716.2" r="0.6" fill="#8ab4e6" fill-opacity="0.6"/>
<circle cx="397.0" cy="701.5" r="0.6" fill="#8ab4e6" fill-opacity="0.6"/>
<circle cx="400.9" cy="719.4" r="0.6" fill="#8ab4e6" fill-opacity="0.6"/>
<circle cx="407.0" cy="694.1" r="0.6" fill="#8ab4e6" fill-opacity="0.6"/>
<circle cx="405.6" cy="713.8" r="0.6" fill="#8ab4e6" fill-opacity="0.6"/>
<circle cx="400.0" cy="718.1" r="0.6" fill="#8ab4e6" fill-opacity="0.6"/>
<circle cx="396.5" cy="692.1" r="0.6" fill="#8ab4e6" fill-opacity="0.6"/>
<circle cx="399.4" cy="717.4" r="0.6" fill="#8ab4e6" fill-opacity="0.6"/>
<circle cx="399.8" cy="718.2" r="0.6" fill="#8ab4e6" fill-opacity="0.6"/>
<circle cx="405.5" cy="709.0" r="0.6" fill="#8ab4e6" fill-opacity="0.6"/>
<circle cx="401.8" cy="719.6" r="0.6" fill="#8ab4e6" fill-opacity="0.6"/>
<circle cx="397.0" cy="707.3" r="0.6" fill="#8ab4e6" fill-opacity="0.6"/>
<circle cx="405.6" cy="706.3" r="0.6" fill="#8ab4e6" fill-opacity="0.6"/>
<circle cx="405.5" cy="712.5" r="0.6" fill="#8ab4e6" fill-opacity="0.6"/>
<circle cx="398.6" cy="717.7" r="0.6" fill="#8ab4e6" fill-opacity="0.6"/>
<circle cx="402.1" cy="719.5" r="0.6" fill="#8ab4e6" fill-opacity="0.6"/>
<circle cx="401.4" cy="719.6" r="0.6" fill="#8ab4e6" fill-opacity="0.6"/>
<circle cx="402.6" cy="719.1" r="0.6" fill="#8ab4e6" fill-opacity="0.6"/>
<circle cx="404.9" cy="715.2" r="0.6" fill="#8ab4e6" fill-opacity="0.6"/>
<circle cx="406.1" cy="704.9" r="0.6" fill="#8ab4e6" fill-opacity="0.6"/>
<circle cx="397.0" cy="707.1" r="0.6" fill="#8ab4e6" fill-opacity="0.6"/>
<circle cx="402.1" cy="719.5" r="0.6" fill="#8ab4e6" fill-opacity="0.6"/>
<circle cx="402.4" cy="719.3" r="0.6" fill="#8ab4e6" fill-opacity="0.6"/>
<circle cx="399.3" cy="715.7" r="0.6" fill="#8ab4e6" fill-opacity="0.6"/>
<circle cx="399.5" cy="716.6" r="0.6" fill="#8ab4e6" fill-opacity="0.6"/>
<circle cx="404.9" cy="711.9" r="0.6" fill="#8ab4e6" fill-opacity="0.6"/>
<circle cx="401.3" cy="719.6" r="0.6" fill="#8ab4e6" fill-opacity="0.6"/>
<circle cx="401.1" cy="719.5" r="0.6" fill="#8ab4e6" fill-opacity="0.6"/>
<circle cx="397.1" cy="705.5" r="0.6" fill="#8ab4e6" fill-opacity="0.6"/>
<circle cx="403.2" cy="719.1" r="0.6" fill="#8ab4e6" fill-opacity="0.6"/>
<circle cx="405.5" cy="715.7" r="0.6" fill="#8ab4e6" fill-opacity="0.6"/>
<circle cx="402.7" cy="719.1" r="0.6" fill="#8ab4e6" fill-opacity="0.6"/>
<circle cx="406.2" cy="704.6" r="0.6" fill="#8ab4e6" fill-opacity="0.6"/>
<circle cx="404.9" cy="712.6" r="0.6" fill="#8ab4e6" fill-opacity="0.6"/>
<circle cx="403.6" cy="716.9" r="0.6" fill="#8ab4e6" fill-opacity="0.6"/>
<circle cx="399.6" cy="718.0" r="0.6" fill="#8ab4e6" fill-opacity="0.6"/>
<circle cx="405.3" cy="714.8" r="0.6" fill="#8ab4e6" fill-opacity="0.6"/>
<circle cx="406.1" cy="710.7" r="0.6" fill="#8ab4e6" fill-opacity="0.6"/>
<circle cx="397.5" cy="714.4" r="0.6" fill="#8ab4e6" fill-opacity="0.6"/>
<circle cx="404.7" cy="711.0" r="0.6" fill="#8ab4e6" fill-opacity="0.6"/>
<circle cx="400.8" cy="719.3" r="0.6" fill="#8ab4e6" fill-opacity="0.6"/>
<circle cx="399.2" cy="714.7" r="0.6" fill="#8ab4e6" fill-opacity="0.6"/>
<circle cx="403.7" cy="718.1" r="0.6" fill="#8ab4e6" fill-opacity="0.6"/>
<circle cx="397.1" cy="701.6" r="0.6" fill="#8ab4e6" fill-opacity="0.6"/>
<circle cx="396.9" cy="698.3" r="0.6" fill="#8ab4e6" fill-opacity="0.6"/>
<circle cx="399.6" cy="717.9" r="0.6" fill="#8ab4e6" fill-opacity="0.6"/>
<circle cx="402.6" cy="719.1" r="0.6" fill="#8ab4e6" fill-opacity="0.6"/>
<circle cx="402.4" cy="719.4" r="0.6" fill="#8ab4e6" fill-opacity="0.6"/>
<circle cx="406.1" cy="708.8" r="0.6" fill="#8ab4e6" fill-opacity="0.6"/>
<circle cx="405.3" cy="714.6" r="0.6" fill="#8ab4e6" fill-opacity="0.6"/>
<circle cx="404.9" cy="709.9" r="0.6" fill="#8ab4e6" fill-opacity="0.6"/>
<circle cx="400.6" cy="719.5" r="0.6" fill="#8ab4e6" fill-opacity="0.6"/>
<circle cx="400.5" cy="718.9" r="0.6" fill="#8ab4e6" fill-opacity="0.6"/>
<circle cx="398.8" cy="714.3" r="0.6" fill="#8ab4e6" fill-opacity="0.6"/>
<circle cx="397.5" cy="707.6" r="0.6" fill="#8ab4e6" fill-opacity="0.6"/>
<circle cx="404.1" cy="715.9" r="0.6" fill="#8ab4e6" fill-opacity="0.6"/>
<circle cx="403.6" cy="718.4" r="0.6" fill="#8ab4e6" fill-opacity="0.6"/>
<circle cx="405.2" cy="715.5" r="0.6" fill="#8ab4e6" fill-opacity="0.6"/>
<circle cx="406.2" cy="699.6" r="0.6" fill="#8ab4e6" fill-opacity="0.6"/>
<circle cx="406.4" cy="703.8" r="0.6" fill="#8ab4e6" fill-opacity="0.6"/>
<circle cx="399.5" cy="717.5" r="0.6" fill="#8ab4e6" fill-opacity="0.6"/>
<circle cx="404.4" cy="714.8" r="0.6" fill="#8ab4e6" fill-opacity="0.6"/>
<circle cx="406.3" cy="713.3" r="0.6" fill="#8ab4e6" fill-opacity="0.6"/>
<circle cx="401.6" cy="719.6" r="0.6" fill="#8ab4e6" fill-opacity="0.6"/>
<circle cx="402.8" cy="718.8" r="0.6" fill="#8ab4e6" fill-opacity="0.6"/>
<circle cx="397.4" cy="712.8" r="0.6" fill="#8ab4e6" fill-opacity="0.6"/>
<circle cx="399.3" cy="715.3" r="0.6" fill="#8ab4e6" fill-opacity="0.6"/>
<circle cx="405.4" cy="713.3" r="0.6" fill="#8ab4e6" fill-opacity="0.6"/>
<circle cx="406.2" cy="716.0" r="0.6" fill="#8ab4e6" fill-opacity="0.6"/>
<circle cx="402.8" cy="718.5" r="0.6" fill="#8ab4e6" fill-opacity="0.6"/>
<circle cx="400.1" cy="717.9" r="0.6" fill="#8ab4e6" fill-opacity="0.6"/>
<circle cx="403.4" cy="719.0" r="0.6" fill="#8ab4e6" fill-opacity="0.6"/>
<circle cx="400.0" cy="718.2" r="0.6" fill="#8ab4e6" fill-opacity="0.6"/>
<circle cx="399.1" cy="714.7" r="0.6" fill="#8ab4e6" fill-opacity="0.6"/>
<circle cx="398.3" cy="710.6" r="0.6" fill="#8ab4e6" fill-opacity="0.6"/>
<circle cx="399.6" cy="718.7" r="0.6" fill="#8ab4e6" fill-opacity="0.6"/>
<circle cx="402.4" cy="719.5" r="0.6" fill="#8ab4e6" fill-opacity="0.6"/>
<circle cx="402.3" cy="719.3" r="0.6" fill="#8ab4e6" fill-opacity="0.6"/>
<circle cx="402.7" cy="718.9" r="0.6" fill="#8ab4e6" fill-opacity="0.6"/>
<circle cx="396.8" cy="702.2" r="0.6" fill="#8ab4e6" fill-opacity="0.6"/>
<circle cx="397.5" cy="705.7" r="0.6" fill="#8ab4e6" fill-opacity="0.6"/>
<circle cx="397.9" cy="709.0" r="0.6" fill="#8ab4e6" fill-opacity="0.6"/>
<circle cx="400.2" cy="718.7" r="0.6" fill="#8ab4e6" fill-opacity="0.6"/>
<circle cx="403.4" cy="718.4" r="0.6" fill="#8ab4e6" fill-opacity="0.6"/>
<circle cx="398.3" cy="709.1" r="0.6" fill="#8ab4e6" fill-opacity="0.6"/>
<circle cx="400.0" cy="717.7" r="0.6" fill="#8ab4e6" fill-opacity="0.6"/>
<circle cx="405.7" cy="708.9" r="0.6" fill="#8ab4e6" fill-opacity="0.6"/>
<circle cx="398.0" cy="715.8" r="0.6" fill="#8ab4e6" fill-opacity="0.6"/>
<circle cx="405.7" cy="714.1" r="0.6" fill="#8ab4e6" fill-opacity="0.6"/>
<circle cx="401.7" cy="719.6" r="0.6" fill="#8ab4e6" fill-opacity="0.6"/>
<circle cx="397.7" cy="709.1" r="0.6" fill="#8ab4e6" fill-opacity="0.6"/>
<circle cx="398.2" cy="711.3" r="0.6" fill="#8ab4e6" fill-opacity="0.6"/>
<circle cx="401.8" cy="719.6" r="0.6" fill="#8ab4e6" fill-opacity="0.6"/>
<circle cx="398.5" cy="714.0" r="0.6" fill="#8ab4e6" fill-opacity="0.6"/>
<circle cx="398.6" cy="716.6" r="0.6" fill="#8ab4e6" fill-opacity="0.6"/>
<circle cx="399.0" cy="713.9" r="0.6" fill="#8ab4e6" fill-opacity="0.6"/>
<circle cx="401.7" cy="719.6" r="0.6" fill="#8ab4e6" fill-opacity="0.6"/>
<circle cx="396.6" cy="693.8" r="0.6" fill="#8ab4e6" fill-opacity="0.6"/>
<circle cx="401.6" cy="719.6" r="0.6" fill="#8ab4e6" fill-opacity="0.6"/>
<circle cx="402.5" cy="719.1" r="0.6" fill="#8ab4e6" fill-opacity="0.6"/>
<circle cx="398.9" cy="713.7" r="0.6" fill="#8ab4e6" fill-opacity="0.6"/>
<circle cx="398.1" cy="713.4" r="0.6" fill="#8ab4e6" fill-opacity="0.6"/>
<circle cx="396.8" cy="704.2" r="0.6" fill="#8ab4e6" fill-opacity="0.6"/>
<circle cx="401.9" cy="719.5" r="0.6" fill="#8ab4e6" fill-opacity="0.6"/>
<circle cx="405.8" cy="714.7" r="0.6" fill="#8ab4e6" fill-opacity="0.6"/>
<circle cx="402.6" cy="719.2" r="0.6" fill="#8ab4e6" fill-opacity="0.6"/>
<circle cx="402.7" cy="718.7" r="0.6" fill="#8ab4e6" fill-opacity="0.6"/>
<circle cx="403.9" cy="718.4" r="0.6" fill="#8ab4e6" fill-opacity="0.6"/>
<circle cx="399.1" cy="715.1" r="0.6" fill="#8ab4e6" fill-opacity="0.6"/>
<circle cx="406.8" cy="714.2" r="0.6" fill="#8ab4e6" fill-opacity="0.6"/>
<circle cx="403.0" cy="718.3" r="0.6" fill="#8ab4e6" fill-opacity="0.6"/>
<circle cx="405.0" cy="713.3" r="0.6" fill="#8ab4e6" fill-opacity="0.6"/>
<circle cx="405.0" cy="712.4" r="0.6" fill="#8ab4e6" fill-opacity="0.6"/>
<circle cx="406.2" cy="717.5" r="0.6" fill="#8ab4e6" fill-opacity="0.6"/>
<circle cx="406.4" cy="705.6" r="0.6" fill="#8ab4e6" fill-opacity="0.6"/>
<circle cx="400.8" cy="719.5" r="0.6" fill="#8ab4e6" fill-opacity="0.6"/>
<circle cx="399.0" cy="714.6" r="0.6" fill="#8ab4e6" fill-opacity="0.6"/>
<circle cx="403.6" cy="718.2" r="0.6" fill="#8ab4e6" fill-opacity="0.6"/>
<circle cx="400.1" cy="719.0" r="0.6" fill="#8ab4e6" fill-opacity="0.6"/>
<circle cx="398.6" cy="715.5" r="0.6" fill="#8ab4e6" fill-opacity="0.6"/>
<circle cx="400.0" cy="717.5" r="0.6" fill="#8ab4e6" fill-opacity="0.6"/>
<circle cx="407.0" cy="694.5" r="0.6" fill="#8ab4e6" fill-opacity="0.6"/>
<circle cx="401.5" cy="719.6" r="0.6" fill="#8ab4e6" fill-opacity="0.6"/>
<circle cx="404.7" cy="711.5" r="0.6" fill="#8ab4e6" fill-opacity="0.6"/>
<circle cx="404.4" cy="714.1" r="0.6" fill="#8ab4e6" fill-opacity="0.6"/>
<circle cx="398.6" cy="712.7" r="0.6" fill="#8ab4e6" fill-opacity="0.6"/>
<circle cx="405.4" cy="707.9" r="0.6" fill="#8ab4e6" fill-opacity="0.6"/>
<circle cx="397.4" cy="704.6" r="0.6" fill="#8ab4e6" fill-opacity="0.6"/>
<circle cx="400.1" cy="719.0" r="0.6" fill="#8ab4e6" fill-opacity="0.6"/>
<circle cx="406.6" cy="699.5" r="0.6" fill="#8ab4e6" fill-opacity="0.6"/>
<circle cx="404.3" cy="717.2" r="0.6" fill="#8ab4e6" fill-opacity="0.6"/>
<circle cx="405.2" cy="708.1" r="0.6" fill="#8ab4e6" fill-opacity="0.6"/>
<circle cx="406.0" cy="703.8" r="0.6" fill="#8ab4e6" fill-opacity="0.6"/>
<circle cx="405.2" cy="708.7" r="0.6" fill="#8ab4e6" fill-opacity="0.6"/>
<circle cx="402.7" cy="719.0" r="0.6" fill="#8ab4e6" fill-opacity="0.6"/>
<circle cx="405.2" cy="709.3" r="0.6" fill="#8ab4e6" fill-opacity="0.6"/>
<circle cx="405.6" cy="711.3" r="0.6" fill="#8ab4e6" fill-opacity="0.6"/>
<circle cx="406.6" cy="702.1" r="0.6" fill="#8ab4e6" fill-opacity="0.6"/>
<circle cx="406.4" cy="712.0" r="0.6" fill="#8ab4e6" fill-opacity="0.6"/>
<circle cx="406.7" cy="697.6" r="0.6" fill="#8ab4e6" fill-opacity="0.6"/>
<circle cx="399.1" cy="714.6" r="0.6" fill="#8ab4e6" fill-opacity="0.6"/>
<circle cx="398.9" cy="716.7" r="0.6" fill="#8ab4e6" fill-opacity="0.6"/>
<circle cx="401.3" cy="719.6" r="0.6" fill="#8ab4e6" fill-opacity="0.6"/>
<circle cx="401.7" cy="719.6" r="0.6" fill="#8ab4e6" fill-opacity="0.6"/>
<circle cx="403.7" cy="716.5" r="0.6" fill="#8ab4e6" fill-opacity="0.6"/>
<circle cx="400.6" cy="719.0" r="0.6" fill="#8ab4e6" fill-opacity="0.6"/>
<circle cx="404.8" cy="711.8" r="0.6" fill="#8ab4e6" fill-opacity="0.6"/>
<circle cx="406.4" cy="699.7" r="0.6" fill="#8ab4e6" fill-opacity="0.6"/>
<circle cx="400.7" cy="719.5" r="0.6" fill="#8ab4e6" fill-opacity="0.6"/>
<circle cx="403.3" cy="717.3" r="0.6" fill="#8ab4e6" fill-opacity="0.6"/>
<circle cx="400.0" cy="718.2" r="0.6" fill="#8ab4e6" fill-opacity="0.6"/>
<circle cx="405.3" cy="708.5" r="0.6" fill="#8ab4e6" fill-opacity="0.6"/>
<circle cx="396.5" cy="700.1" r="0.6" fill="#8ab4e6" fill-opacity="0.6"/>
<circle cx="396.6" cy="710.8" r="0.6" fill="#8ab4e6" fill-opacity="0.6"/>
<circle cx="405.0" cy="712.7" r="0.6" fill="#8ab4e6" fill-opacity="0.6"/>
<circle cx="402.8" cy="718.7" r="0.6" fill="#8ab4e6" fill-opacity="0.6"/>
<circle cx="400.0" cy="718.7" r="0.6" fill="#8ab4e6" fill-opacity="0.6"/>
<circle cx="400.2" cy="718.2" r="0.6" fill="#8ab4e6" fill-opacity="0.6"/>
<circle cx="403.0" cy="718.7" r="0.6" fill="#8ab4e6" fill-opacity="0.6"/>
<circle cx="397.4" cy="710.1" r="0.6" fill="#8ab4e6" fill-opacity="0.6"/>
<circle cx="403.8" cy="716.7" r="0.6" fill="#8ab4e6" fill-opacity="0.6"/>
<circle cx="403.4" cy="717.1" r="0.6" fill="#8ab4e6" fill-opacity="0.6"/>
<circle cx="397.7" cy="707.2" r="0.6" fill="#8ab4e6" fill-opacity="0.6"/>
<circle cx="396.9" cy="698.4" r="0.6" fill="#8ab4e6" fill-opacity="0.6"/>
<circle cx="398.4" cy="714.5" r="0.6" fill="#8ab4e6" fill-opacity="0.6"/>
<circle cx="406.5" cy="705.4" r="0.6" fill="#8ab4e6" fill-opacity="0.6"/>
<circle cx="398.8" cy="712.9" r="0.6" fill="#8ab4e6" fill-opacity="0.6"/>
<circle cx="402.9" cy="718.3" r="0.6" fill="#8ab4e6" fill-opacity="0.6"/>
<circle cx="400.6" cy="719.2" r="0.6" fill="#8ab4e6" fill-opacity="0.6"/>
<circle cx="406.5" cy="702.9" r="0.6" fill="#8ab4e6" fill-opacity="0.6"/>
<circle cx="406.9" cy="707.8" r="0.6" fill="#8ab4e6" fill-opacity="0.6"/>
<circle cx="405.2" cy="714.8" r="0.6" fill="#8ab4e6" fill-opacity="0.6"/>
<circle cx="402.0" cy="719.6" r="0.6" fill="#8ab4e6" fill-opacity="0.6"/>
<circle cx="398.3" cy="709.5" r="0.6" fill="#8ab4e6" fill-opacity="0.6"/>
<circle cx="401.3" cy="719.6" r="0.6" fill="#8ab4e6" fill-opacity="0.6"/>
<circle cx="399.1" cy="716.3" r="0.6" fill="#8ab4e6" fill-opacity="0.6"/>
<circle cx="397.5" cy="707.0" r="0.6" fill="#8ab4e6" fill-opacity="0.6"/>
<circle cx="405.5" cy="709.2" r="0.6" fill="#8ab4e6" fill-opacity="0.6"/>
<circle cx="400.4" cy="718.7" r="0.6" fill="#8ab4e6" fill-opacity="0.6"/>
<circle cx="405.9" cy="705.5" r="0.6" fill="#8ab4e6" fill-opacity="0.6"/>
<circle cx="397.3" cy="704.2" r="0.6" fill="#8ab4e6" fill-opacity="0.6"/>
<circle cx="401.1" cy="719.5" r="0.6" fill="#8ab4e6" fill-opacity="0.6"/>
<circle cx="400.3" cy="718.6" r="0.6" fill="#8ab4e6" fill-opacity="0.6"/>
<circle cx="403.1" cy="718.4" r="0.6" fill="#8ab4e6" fill-opacity="0.6"/>
<circle cx="402.0" cy="719.5" r="0.6" fill="#8ab4e6" fill-opacity="0.6"/>
<circle cx="406.0" cy="706.5" r="0.6" fill="#8ab4e6" fill-opacity="0.6"/>
<circle cx="400.3" cy="718.4" r="0.6" fill="#8ab4e6" fill-opacity="0.6"/>
<circle cx="397.1" cy="699.9" r="0.6" fill="#8ab4e6" fill-opacity="0.6"/>
<circle cx="403.7" cy="716.9" r="0.6" fill="#8ab4e6" fill-opacity="0.6"/>
<circle cx="401.2" cy="719.5" r="0.6" fill="#8ab4e6" fill-opacity="0.6"/>
<circle cx="405.8" cy="705.1" r="0.6" fill="#8ab4e6" fill-opacity="0.6"/>
<circle cx="404.4" cy="718.3" r="0.6" fill="#8ab4e6" fill-opacity="0.6"/>
<circle cx="399.9" cy="718.7" r="0.6" fill="#8ab4e6" fill-opacity="0.6"/>
<circle cx="406.5" cy="697.7" r="0.6" fill="#8ab4e6" fill-opacity="0.6"/>
<circle cx="398.0" cy="709.7" r="0.6" fill="#8ab4e6" fill-opacity="0.6"/>
<circle cx="402.5" cy="719.4" r="0.6" fill="#8ab4e6" fill-opacity="0.6"/>
<circle cx="400.6" cy="719.0" r="0.6" fill="#8ab4e6" fill-opacity="0.6"/>
<circle cx="403.2" cy="718.4" r="0.6" fill="#8ab4e6" fill-opacity="0.6"/>
<circle cx="404.5" cy="715.6" r="0.6" fill="#8ab4e6" fill-opacity="0.6"/>
<circle cx="402.2" cy="719.4" r="0.6" fill="#8ab4e6" fill-opacity="0.6"/>
<circle cx="406.8" cy="698.7" r="0.6" fill="#8ab4e6" fill-opacity="0.6"/>
<circle cx="404.9" cy="711.2" r="0.6" fill="#8ab4e6" fill-opacity="0.6"/>
<circle cx="400.5" cy="718.7" r="0.6" fill="#8ab4e6" fill-opacity="0.6"/>
<circle cx="403.9" cy="715.6" r="0.6" fill="#8ab4e6" fill-opacity="0.6"/>
<circle cx="399.4" cy="717.9" r="0.6" fill="#8ab4e6" fill-opacity="0.6"/>
<circle cx="402.5" cy="719.0" r="0.6" fill="#8ab4e6" fill-opacity="0.6"/>
<circle cx="404.8" cy="714.1" r="0.6" fill="#8ab4e6" fill-opacity="0.6"/>
<circle cx="397.9" cy="710.0" r="0.6" fill="#8ab4e6" fill-opacity="0.6"/>
<circle cx="405.7" cy="713.2" r="0.6" fill="#8ab4e6" fill-opacity="0.6"/>
<circle cx="404.2" cy="717.1" r="0.6" fill="#8ab4e6" fill-opacity="0.6"/>
<circle cx="399.8" cy="719.0" r="0.6" fill="#8ab4e6" fill-opacity="0.6"/>
<circle cx="399.6" cy="717.5" r="0.6" fill="#8ab4e6" fill-opacity="0.6"/>
<circle cx="406.6" cy="695.4" r="0.6" fill="#8ab4e6" fill-opacity="0.6"/>
<circle cx="398.4" cy="714.3" r="0.6" fill="#8ab4e6" fill-opacity="0.6"/>
<circle cx="406.4" cy="709.8" r="0.6" fill="#8ab4e6" fill-opacity="0.6"/>
<circle cx="399.8" cy="718.0" r="0.6" fill="#8ab4e6" fill-opacity="0.6"/>
<circle cx="397.6" cy="711.3" r="0.6" fill="#8ab4e6" fill-opacity="0.6"/>
<circle cx="400.6" cy="719.2" r="0.6" fill="#8ab4e6" fill-opacity="0.6"/>
<circle cx="406.6" cy="707.0" r="0.6" fill="#8ab4e6" fill-opacity="0.6"/>
<circle cx="398.6" cy="711.6" r="0.6" fill="#8ab4e6" fill-opacity="0.6"/>
<circle cx="401.2" cy="719.5" r="0.6" fill="#8ab4e6" fill-opacity="0.6"/>
<circle cx="403.2" cy="717.8" r="0.6" fill="#8ab4e6" fill-opacity="0.6"/>
<circle cx="399.8" cy="718.6" r="0.6" fill="#8ab4e6" fill-opacity="0.6"/>
<circle cx="404.4" cy="714.7" r="0.6" fill="#8ab4e6" fill-opacity="0.6"/>
<circle cx="402.3" cy="719.2" r="0.6" fill="#8ab4e6" fill-opacity="0.6"/>
<circle cx="404.4" cy="716.0" r="0.6" fill="#8ab4e6" fill-opacity="0.6"/>
<circle cx="400.3" cy="718.4" r="0.6" fill="#8ab4e6" fill-opacity="0.6"/>
<circle cx="402.0" cy="719.5" r="0.6" fill="#8ab4e6" fill-opacity="0.6"/>
<circle cx="403.1" cy="718.6" r="0.6" fill="#8ab4e6" fill-opacity="0.6"/>
<circle cx="404.6" cy="718.0" r="0.6" fill="#8ab4e6" fill-opacity="0.6"/>
<circle cx="405.2" cy="710.8" r="0.6" fill="#8ab4e6" fill-opacity="0.6"/>
<circle cx="400.2" cy="718.2" r="0.6" fill="#8ab4e6" fill-opacity="0.6"/>
<circle cx="399.3" cy="717.2" r="0.6" fill="#8ab4e6" fill-opacity="0.6"/>
<circle cx="397.2" cy="704.7" r="0.6" fill="#8ab4e6" fill-opacity="0.6"/>
<circle cx="404.4" cy="713.8" r="0.6" fill="#8ab4e6" fill-opacity="0.6"/>
<circle cx="400.8" cy="719.3" r="0.6" fill="#8ab4e6" fill-opacity="0.6"/>
<circle cx="397.6" cy="710.8" r="0.6" fill="#8ab4e6" fill-opacity="0.6"/>
<circle cx="403.3" cy="717.3" r="0.6" fill="#8ab4e6" fill-opacity="0.6"/>
<circle cx="403.1" cy="717.9" r="0.6" fill="#8ab4e6" fill-opacity="0.6"/>
<circle cx="404.6" cy="714.4" r="0.6" fill="#8ab4e6" fill-opacity="0.6"/>
<circle cx="406.4" cy="700.8" r="0.6" fill="#8ab4e6" fill-opacity="0.6"/>
<circle cx="400.1" cy="718.5" r="0.6" fill="#8ab4e6" fill-opacity="0.6"/>
<circle cx="404.9" cy="713.6" r="0.6" fill="#8ab4e6" fill-opacity="0.6"/>
<circle cx="398.4" cy="710.6" r="0.6" fill="#8ab4e6" fill-opacity="0.6"/>
<circle cx="402.1" cy="719.5" r="0.6" fill="#8ab4e6" fill-opacity="0.6"/>
<circle cx="403.5" cy="716.6" r="0.6" fill="#8ab4e6" fill-opacity="0.6"/>
<circle cx="397.9" cy="711.5" r="0.6" fill="#8ab4e6" fill-opacity="0.6"/>
<circle cx="397.2" cy="706.4" r="0.6" fill="#8ab4e6" fill-opacity="0.6"/>
<circle cx="401.8" cy="719.6" r="0.6" fill="#8ab4e6" fill-opacity="0.6"/>
<circle cx="403.5" cy="717.3" r="0.6" fill="#8ab4e6" fill-opacity="0.6"/>
<circle cx="400.7" cy="719.2" r="0.6" fill="#8ab4e6" fill-opacity="0.6"/>
<circle cx="399.3" cy="715.6" r="0.6" fill="#8ab4e6" fill-opacity="0.6"/>
<circle cx="404.8" cy="711.3" r="0.6" fill="#8ab4e6" fill-opacity="0.6"/>
<circle cx="398.1" cy="709.5" r="0.6" fill="#8ab4e6" fill-opacity="0.6"/>
<circle cx="404.4" cy="714.6" r="0.6" fill="#8ab4e6" fill-opacity="0.6"/>
<circle cx="405.9" cy="702.8" r="0.6" fill="#8ab4e6" fill-opacity="0.6"/>
<circle cx="404.3" cy="713.8" r="0.6" fill="#8ab4e6" fill-opacity="0.6"/>
<circle cx="403.3" cy="717.3" r="0.6" fill="#8ab4e6" fill-opacity="0.6"/>
<circle cx="397.8" cy="707.8" r="0.6" fill="#8ab4e6" fill-opacity="0.6"/>
<circle cx="403.9" cy="716.1" r="0.6" fill="#8ab4e6" fill-opacity="0.6"/>
<circle cx="399.4" cy="718.5" r="0.6" fill="#8ab4e6" fill-opacity="0.6"/>
<circle cx="402.8" cy="718.5" r="0.6" fill="#8ab4e6" fill-opacity="0.6"/>
<circle cx="399.3" cy="717.6" r="0.6" fill="#8ab4e6" fill-opacity="0.6"/>
<circle cx="398.8" cy="717.4" r="0.6" fill="#8ab4e6" fill-opacity="0.6"/>
<circle cx="403.6" cy="716.3" r="0.6" fill="#8ab4e6" fill-opacity="0.6"/>
<circle cx="404.9" cy="713.6" r="0.6" fill="#8ab4e6" fill-opacity="0.6"/>
<circle cx="403.8" cy="718.4" r="0.6" fill="#8ab4e6" fill-opacity="0.6"/>
<circle cx="405.3" cy="712.4" r="0.6" fill="#8ab4e6" fill-opacity="0.6"/>
<circle cx="396.5" cy="697.4" r="0.6" fill="#8ab4e6" fill-opacity="0.6"/>
<circle cx="397.9" cy="712.6" r="0.6" fill="#8ab4e6" fill-opacity="0.6"/>
<circle cx="397.1" cy="705.4" r="0.6" fill="#8ab4e6" fill-opacity="0.6"/>
<circle cx="402.3" cy="719.2" r="0.6" fill="#8ab4e6" fill-opacity="0.6"/>
<circle cx="396.9" cy="698.2" r="0.6" fill="#8ab4e6" fill-opacity="0.6"/>
<circle cx="397.6" cy="712.0" r="0.6" fill="#8ab4e6" fill-opacity="0.6"/>
<circle cx="403.1" cy="718.5" r="0.6" fill="#8ab4e6" fill-opacity="0.6"/>
<circle cx="400.0" cy="718.0" r="0.6" fill="#8ab4e6" fill-opacity="0.6"/>
<circle cx="398.8" cy="712.9" r="0.6" fill="#8ab4e6" fill-opacity="0.6"/>
<circle cx="398.7" cy="712.2" r="0.6" fill="#8ab4e6" fill-opacity="0.6"/>
<circle cx="405.0" cy="712.0" r="0.6" fill="#8ab4e6" fill-opacity="0.6"/>
<circle cx="396.8" cy="697.9" r="0.6" fill="#8ab4e6" fill-opacity="0.6"/>
<circle cx="396.8" cy="701.9" r="0.6" fill="#8ab4e6" fill-opacity="0.6"/>
<circle cx="400.9" cy="719.5" r="0.6" fill="#8ab4e6" fill-opacity="0.6"/>
<circle cx="403.1" cy="718.0" r="0.6" fill="#8ab4e6" fill-opacity="0.6"/>
<circle cx="390.3" cy="533.3" r="1.15" fill="#d00000" stroke="#400000" stroke-width="0.55"/>
<circle cx="386.5" cy="564.0" r="1.15" fill="#d00000" stroke="#400000" stroke-width="0.55"/>
<circle cx="390.3" cy="571.0" r="1.15" fill="#d00000" stroke="#400000" stroke-width="0.55"/>
<circle cx="390.3" cy="573.7" r="1.15" fill="#d00000" stroke="#400000" stroke-width="0.55"/>
<circle cx="388.3" cy="583.8" r="1.15" fill="#d00000" stroke="#400000" stroke-width="0.55"/>
<circle cx="391.6" cy="588.9" r="1.15" fill="#d00000" stroke="#400000" stroke-width="0.55"/>
<circle cx="392.7" cy="596.6" r="1.15" fill="#d00000" stroke="#400000" stroke-width="0.55"/>
<circle cx="392.3" cy="600.6" r="1.15" fill="#d00000" stroke="#400000" stroke-width="0.55"/>
<circle cx="386.2" cy="614.5" r="1.15" fill="#d00000" stroke="#400000" stroke-width="0.55"/>
<circle cx="393.6" cy="616.5" r="1.15" fill="#d00000" stroke="#400000" stroke-width="0.55"/>
<circle cx="410.9" cy="617.2" r="1.15" fill="#d00000" stroke="#400000" stroke-width="0.55"/>
<circle cx="411.0" cy="632.1" r="1.15" fill="#d00000" stroke="#400000" stroke-width="0.55"/>
<circle cx="412.3" cy="640.2" r="1.15" fill="#d00000" stroke="#400000" stroke-width="0.55"/>
<circle cx="411.8" cy="692.7" r="1.15" fill="#d00000" stroke="#400000" stroke-width="0.55"/>
<circle cx="415.0" cy="694.0" r="1.15" fill="#d00000" stroke="#400000" stroke-width="0.55"/>
<circle cx="444.1" cy="715.6" r="1.15" fill="#d00000" stroke="#400000" stroke-width="0.55"/>
<circle cx="420.4" cy="713.7" r="1.15" fill="#d00000" stroke="#400000" stroke-width="0.55"/>
<circle cx="423.1" cy="714.8" r="1.15" fill="#d00000" stroke="#400000" stroke-width="0.55"/>
<circle cx="356.0" cy="716.0" r="1.15" fill="#d00000" stroke="#400000" stroke-width="0.55"/>
<circle cx="393.5" cy="633.5" r="1.15" fill="#d00000" stroke="#400000" stroke-width="0.55"/>
<circle cx="392.7" cy="639.8" r="1.15" fill="#d00000" stroke="#400000" stroke-width="0.55"/>
<circle cx="394.6" cy="639.9" r="1.15" fill="#d00000" stroke="#400000" stroke-width="0.55"/>
<circle cx="387.5" cy="644.5" r="1.15" fill="#d00000" stroke="#400000" stroke-width="0.55"/>
<circle cx="393.3" cy="645.9" r="1.15" fill="#d00000" stroke="#400000" stroke-width="0.55"/>
<circle cx="392.7" cy="651.5" r="1.15" fill="#d00000" stroke="#400000" stroke-width="0.55"/>
<circle cx="395.1" cy="652.5" r="1.15" fill="#d00000" stroke="#400000" stroke-width="0.55"/>
<circle cx="395.0" cy="654.9" r="1.15" fill="#d00000" stroke="#400000" stroke-width="0.55"/>
<circle cx="389.0" cy="655.6" r="1.15" fill="#d00000" stroke="#400000" stroke-width="0.55"/>
<circle cx="395.0" cy="659.5" r="1.15" fill="#d00000" stroke="#400000" stroke-width="0.55"/>
<circle cx="394.4" cy="691.3" r="1.15" fill="#d00000" stroke="#400000" stroke-width="0.55"/>
<circle cx="390.3" cy="695.2" r="1.15" fill="#d00000" stroke="#400000" stroke-width="0.55"/>
<circle cx="390.0" cy="659.9" r="1.15" fill="#d00000" stroke="#400000" stroke-width="0.55"/>
<circle cx="396.3" cy="700.5" r="1.15" fill="#d00000" stroke="#400000" stroke-width="0.55"/>
<circle cx="391.4" cy="714.4" r="1.15" fill="#d00000" stroke="#400000" stroke-width="0.55"/>
<circle cx="394.9" cy="684.4" r="1.15" fill="#d00000" stroke="#400000" stroke-width="0.55"/>
<circle cx="392.8" cy="713.5" r="1.15" fill="#d00000" stroke="#400000" stroke-width="0.55"/>
<circle cx="384.4" cy="713.4" r="1.15" fill="#d00000" stroke="#400000" stroke-width="0.55"/>
<circle cx="395.8" cy="709.4" r="1.15" fill="#d00000" stroke="#400000" stroke-width="0.55"/>
<circle cx="395.8" cy="695.9" r="1.15" fill="#d00000" stroke="#400000" stroke-width="0.55"/>
<circle cx="389.6" cy="684.6" r="1.15" fill="#d00000" stroke="#400000" stroke-width="0.55"/>
<circle cx="390.5" cy="679.0" r="1.15" fill="#d00000" stroke="#400000" stroke-width="0.55"/>
<circle cx="396.3" cy="684.2" r="1.15" fill="#d00000" stroke="#400000" stroke-width="0.55"/>
<circle cx="374.0" cy="716.3" r="1.15" fill="#d00000" stroke="#400000" stroke-width="0.55"/>
<circle cx="395.9" cy="686.2" r="1.15" fill="#d00000" stroke="#400000" stroke-width="0.55"/>
<circle cx="387.1" cy="713.9" r="1.15" fill="#d00000" stroke="#400000" stroke-width="0.55"/>
<circle cx="396.4" cy="671.0" r="1.15" fill="#d00000" stroke="#400000" stroke-width="0.55"/>
<circle cx="382.3" cy="710.8" r="1.15" fill="#d00000" stroke="#400000" stroke-width="0.55"/>
<circle cx="396.3" cy="690.1" r="1.15" fill="#d00000" stroke="#400000" stroke-width="0.55"/>
<circle cx="382.1" cy="714.0" r="1.15" fill="#d00000" stroke="#400000" stroke-width="0.55"/>
<circle cx="388.6" cy="700.4" r="1.15" fill="#d00000" stroke="#400000" stroke-width="0.55"/>
<circle cx="391.4" cy="689.6" r="1.15" fill="#d00000" stroke="#400000" stroke-width="0.55"/>
<circle cx="388.3" cy="714.8" r="1.15" fill="#d00000" stroke="#400000" stroke-width="0.55"/>
<circle cx="395.0" cy="713.1" r="1.15" fill="#d00000" stroke="#400000" stroke-width="0.55"/>
<circle cx="391.4" cy="701.8" r="1.15" fill="#d00000" stroke="#400000" stroke-width="0.55"/>
<circle cx="395.1" cy="655.9" r="1.15" fill="#d00000" stroke="#400000" stroke-width="0.55"/>
<circle cx="391.4" cy="691.7" r="1.15" fill="#d00000" stroke="#400000" stroke-width="0.55"/>
<circle cx="396.4" cy="697.3" r="1.15" fill="#d00000" stroke="#400000" stroke-width="0.55"/>
<circle cx="394.5" cy="707.0" r="1.15" fill="#d00000" stroke="#400000" stroke-width="0.55"/>
<circle cx="389.9" cy="703.0" r="1.15" fill="#d00000" stroke="#400000" stroke-width="0.55"/>
<circle cx="373.9" cy="715.8" r="1.15" fill="#d00000" stroke="#400000" stroke-width="0.55"/>
<circle cx="393.5" cy="715.4" r="1.15" fill="#d00000" stroke="#400000" stroke-width="0.55"/>
<circle cx="394.7" cy="680.4" r="1.15" fill="#d00000" stroke="#400000" stroke-width="0.55"/>
<circle cx="395.9" cy="695.7" r="1.15" fill="#d00000" stroke="#400000" stroke-width="0.55"/>
<circle cx="396.3" cy="669.3" r="1.15" fill="#d00000" stroke="#400000" stroke-width="0.55"/>
<circle cx="396.0" cy="697.4" r="1.15" fill="#d00000" stroke="#400000" stroke-width="0.55"/>
<circle cx="391.1" cy="707.0" r="1.15" fill="#d00000" stroke="#400000" stroke-width="0.55"/>
<circle cx="396.3" cy="690.4" r="1.15" fill="#d00000" stroke="#400000" stroke-width="0.55"/>
<circle cx="394.4" cy="699.1" r="1.15" fill="#d00000" stroke="#400000" stroke-width="0.55"/>
<circle cx="390.3" cy="705.6" r="1.15" fill="#d00000" stroke="#400000" stroke-width="0.55"/>
<circle cx="390.5" cy="706.0" r="1.15" fill="#d00000" stroke="#400000" stroke-width="0.55"/>
<circle cx="376.5" cy="714.2" r="1.15" fill="#d00000" stroke="#400000" stroke-width="0.55"/>
<circle cx="395.9" cy="698.9" r="1.15" fill="#d00000" stroke="#400000" stroke-width="0.55"/>
<circle cx="395.3" cy="672.8" r="1.15" fill="#d00000" stroke="#400000" stroke-width="0.55"/>
<circle cx="393.5" cy="681.8" r="1.15" fill="#d00000" stroke="#400000" stroke-width="0.55"/>
<circle cx="396.3" cy="699.4" r="1.15" fill="#d00000" stroke="#400000" stroke-width="0.55"/>
<circle cx="396.4" cy="659.9" r="1.15" fill="#d00000" stroke="#400000" stroke-width="0.55"/>
<circle cx="378.5" cy="712.6" r="1.15" fill="#d00000" stroke="#400000" stroke-width="0.55"/>
<circle cx="386.0" cy="705.6" r="1.15" fill="#d00000" stroke="#400000" stroke-width="0.55"/>
<circle cx="395.9" cy="679.7" r="1.15" fill="#d00000" stroke="#400000" stroke-width="0.55"/>
<circle cx="379.4" cy="716.3" r="1.15" fill="#d00000" stroke="#400000" stroke-width="0.55"/>
<circle cx="391.6" cy="700.7" r="1.15" fill="#d00000" stroke="#400000" stroke-width="0.55"/>
<circle cx="396.1" cy="703.4" r="1.15" fill="#d00000" stroke="#400000" stroke-width="0.55"/>
<circle cx="380.6" cy="714.8" r="1.15" fill="#d00000" stroke="#400000" stroke-width="0.55"/>
<circle cx="396.4" cy="679.8" r="1.15" fill="#d00000" stroke="#400000" stroke-width="0.55"/>
<circle cx="391.5" cy="687.8" r="1.15" fill="#d00000" stroke="#400000" stroke-width="0.55"/>
<circle cx="391.9" cy="706.5" r="1.15" fill="#d00000" stroke="#400000" stroke-width="0.55"/>
<circle cx="396.4" cy="698.5" r="1.15" fill="#d00000" stroke="#400000" stroke-width="0.55"/>
<circle cx="393.4" cy="711.8" r="1.15" fill="#d00000" stroke="#400000" stroke-width="0.55"/>
<circle cx="396.4" cy="704.4" r="1.15" fill="#d00000" stroke="#400000" stroke-width="0.55"/>
<circle cx="394.9" cy="682.1" r="1.15" fill="#d00000" stroke="#400000" stroke-width="0.55"/>
<circle cx="395.9" cy="706.0" r="1.15" fill="#d00000" stroke="#400000" stroke-width="0.55"/>
<circle cx="372.2" cy="714.8" r="1.15" fill="#d00000" stroke="#400000" stroke-width="0.55"/>
<circle cx="396.2" cy="710.8" r="1.15" fill="#d00000" stroke="#400000" stroke-width="0.55"/>
<circle cx="391.3" cy="681.2" r="1.15" fill="#d00000" stroke="#400000" stroke-width="0.55"/>
<circle cx="394.8" cy="710.6" r="1.15" fill="#d00000" stroke="#400000" stroke-width="0.55"/>
<circle cx="393.3" cy="697.0" r="1.15" fill="#d00000" stroke="#400000" stroke-width="0.55"/>
<circle cx="396.4" cy="660.7" r="1.15" fill="#d00000" stroke="#400000" stroke-width="0.55"/>
<circle cx="384.3" cy="714.7" r="1.15" fill="#d00000" stroke="#400000" stroke-width="0.55"/>
<circle cx="394.9" cy="688.6" r="1.15" fill="#d00000" stroke="#400000" stroke-width="0.55"/>
<circle cx="391.0" cy="706.6" r="1.15" fill="#d00000" stroke="#400000" stroke-width="0.55"/>
<circle cx="392.0" cy="661.5" r="1.15" fill="#d00000" stroke="#400000" stroke-width="0.55"/>
<circle cx="392.8" cy="659.1" r="1.15" fill="#d00000" stroke="#400000" stroke-width="0.55"/>
<circle cx="387.8" cy="705.5" r="1.15" fill="#d00000" stroke="#400000" stroke-width="0.55"/>
<circle cx="396.1" cy="702.3" r="1.15" fill="#d00000" stroke="#400000" stroke-width="0.55"/>
<circle cx="392.9" cy="668.0" r="1.15" fill="#d00000" stroke="#400000" stroke-width="0.55"/>
<circle cx="394.1" cy="711.7" r="1.15" fill="#d00000" stroke="#400000" stroke-width="0.55"/>
<circle cx="391.3" cy="715.0" r="1.15" fill="#d00000" stroke="#400000" stroke-width="0.55"/>
<circle cx="390.4" cy="663.2" r="1.15" fill="#d00000" stroke="#400000" stroke-width="0.55"/>
<circle cx="389.4" cy="681.5" r="1.15" fill="#d00000" stroke="#400000" stroke-width="0.55"/>
<circle cx="395.9" cy="694.1" r="1.15" fill="#d00000" stroke="#400000" stroke-width="0.55"/>
<circle cx="394.8" cy="716.2" r="1.15" fill="#d00000" stroke="#400000" stroke-width="0.55"/>
<circle cx="395.6" cy="679.7" r="1.15" fill="#d00000" stroke="#400000" stroke-width="0.55"/>
<circle cx="390.8" cy="682.9" r="1.15" fill="#d00000" stroke="#400000" stroke-width="0.55"/>
<circle cx="396.3" cy="688.4" r="1.15" fill="#d00000" stroke="#400000" stroke-width="0.55"/>
<circle cx="393.3" cy="693.2" r="1.15" fill="#d00000" stroke="#400000" stroke-width="0.55"/>
<circle cx="383.5" cy="707.8" r="1.15" fill="#d00000" stroke="#400000" stroke-width="0.55"/>
<circle cx="390.5" cy="707.9" r="1.15" fill="#d00000" stroke="#400000" stroke-width="0.55"/>
<circle cx="394.8" cy="701.3" r="1.15" fill="#d00000" stroke="#400000" stroke-width="0.55"/>
<circle cx="389.9" cy="662.4" r="1.15" fill="#d00000" stroke="#400000" stroke-width="0.55"/>
<circle cx="394.6" cy="713.1" r="1.15" fill="#d00000" stroke="#400000" stroke-width="0.55"/>
<circle cx="395.9" cy="677.6" r="1.15" fill="#d00000" stroke="#400000" stroke-width="0.55"/>
<circle cx="396.2" cy="678.1" r="1.15" fill="#d00000" stroke="#400000" stroke-width="0.55"/>
<circle cx="390.7" cy="705.4" r="1.15" fill="#d00000" stroke="#400000" stroke-width="0.55"/>
<circle cx="395.9" cy="683.4" r="1.15" fill="#d00000" stroke="#400000" stroke-width="0.55"/>
<circle cx="382.4" cy="716.1" r="1.15" fill="#d00000" stroke="#400000" stroke-width="0.55"/>
<circle cx="377.8" cy="712.3" r="1.15" fill="#d00000" stroke="#400000" stroke-width="0.55"/>
<circle cx="393.3" cy="687.0" r="1.15" fill="#d00000" stroke="#400000" stroke-width="0.55"/>
<circle cx="395.7" cy="684.7" r="1.15" fill="#d00000" stroke="#400000" stroke-width="0.55"/>
<circle cx="396.4" cy="715.5" r="1.15" fill="#d00000" stroke="#400000" stroke-width="0.55"/>
<circle cx="396.1" cy="714.2" r="1.15" fill="#d00000" stroke="#400000" stroke-width="0.55"/>
<circle cx="391.9" cy="700.8" r="1.15" fill="#d00000" stroke="#400000" stroke-width="0.55"/>
<circle cx="396.0" cy="704.0" r="1.15" fill="#d00000" stroke="#400000" stroke-width="0.55"/>
<circle cx="393.2" cy="711.6" r="1.15" fill="#d00000" stroke="#400000" stroke-width="0.55"/>
<circle cx="392.4" cy="690.3" r="1.15" fill="#d00000" stroke="#400000" stroke-width="0.55"/>
<circle cx="395.2" cy="701.4" r="1.15" fill="#d00000" stroke="#400000" stroke-width="0.55"/>
<circle cx="390.2" cy="699.6" r="1.15" fill="#d00000" stroke="#400000" stroke-width="0.55"/>
<circle cx="389.8" cy="702.6" r="1.15" fill="#d00000" stroke="#400000" stroke-width="0.55"/>
<circle cx="396.4" cy="694.1" r="1.15" fill="#d00000" stroke="#400000" stroke-width="0.55"/>
<circle cx="396.1" cy="701.8" r="1.15" fill="#d00000" stroke="#400000" stroke-width="0.55"/>
<circle cx="393.2" cy="687.1" r="1.15" fill="#d00000" stroke="#400000" stroke-width="0.55"/>
<circle cx="396.1" cy="714.2" r="1.15" fill="#d00000" stroke="#400000" stroke-width="0.55"/>
<circle cx="393.4" cy="669.3" r="1.15" fill="#d00000" stroke="#400000" stroke-width="0.55"/>
<circle cx="396.3" cy="695.3" r="1.15" fill="#d00000" stroke="#400000" stroke-width="0.55"/>
<circle cx="396.2" cy="702.7" r="1.15" fill="#d00000" stroke="#400000" stroke-width="0.55"/>
<circle cx="392.8" cy="669.7" r="1.15" fill="#d00000" stroke="#400000" stroke-width="0.55"/>
<circle cx="395.7" cy="703.7" r="1.15" fill="#d00000" stroke="#400000" stroke-width="0.55"/>
<circle cx="396.2" cy="708.0" r="1.15" fill="#d00000" stroke="#400000" stroke-width="0.55"/>
<circle cx="395.5" cy="703.6" r="1.15" fill="#d00000" stroke="#400000" stroke-width="0.55"/>
<circle cx="395.8" cy="704.1" r="1.15" fill="#d00000" stroke="#400000" stroke-width="0.55"/>
<circle cx="393.2" cy="713.0" r="1.15" fill="#d00000" stroke="#400000" stroke-width="0.55"/>
<circle cx="393.6" cy="706.1" r="1.15" fill="#d00000" stroke="#400000" stroke-width="0.55"/>
<circle cx="392.4" cy="699.1" r="1.15" fill="#d00000" stroke="#400000" stroke-width="0.55"/>
<circle cx="396.4" cy="695.0" r="1.15" fill="#d00000" stroke="#400000" stroke-width="0.55"/>
<circle cx="391.1" cy="714.7" r="1.15" fill="#d00000" stroke="#400000" stroke-width="0.55"/>
<circle cx="396.3" cy="698.2" r="1.15" fill="#d00000" stroke="#400000" stroke-width="0.55"/>
<circle cx="395.2" cy="713.7" r="1.15" fill="#d00000" stroke="#400000" stroke-width="0.55"/>
<circle cx="396.3" cy="714.6" r="1.15" fill="#d00000" stroke="#400000" stroke-width="0.55"/>
<circle cx="383.2" cy="708.9" r="1.15" fill="#d00000" stroke="#400000" stroke-width="0.55"/>
<circle cx="395.9" cy="698.7" r="1.15" fill="#d00000" stroke="#400000" stroke-width="0.55"/>
<circle cx="390.9" cy="687.7" r="1.15" fill="#d00000" stroke="#400000" stroke-width="0.55"/>
<circle cx="396.3" cy="658.7" r="1.15" fill="#d00000" stroke="#400000" stroke-width="0.55"/>
<circle cx="396.0" cy="666.1" r="1.15" fill="#d00000" stroke="#400000" stroke-width="0.55"/>
<circle cx="395.9" cy="702.5" r="1.15" fill="#d00000" stroke="#400000" stroke-width="0.55"/>
<circle cx="379.4" cy="712.2" r="1.15" fill="#d00000" stroke="#400000" stroke-width="0.55"/>
<circle cx="396.3" cy="704.6" r="1.15" fill="#d00000" stroke="#400000" stroke-width="0.55"/>
<circle cx="395.6" cy="711.4" r="1.15" fill="#d00000" stroke="#400000" stroke-width="0.55"/>
<circle cx="396.3" cy="692.2" r="1.15" fill="#d00000" stroke="#400000" stroke-width="0.55"/>
<circle cx="396.2" cy="667.1" r="1.15" fill="#d00000" stroke="#400000" stroke-width="0.55"/>
<circle cx="393.1" cy="705.9" r="1.15" fill="#d00000" stroke="#400000" stroke-width="0.55"/>
<circle cx="411.5" cy="693.1" r="1.15" fill="#d00000" stroke="#400000" stroke-width="0.55"/>
<circle cx="415.0" cy="694.2" r="1.15" fill="#d00000" stroke="#400000" stroke-width="0.55"/>
<circle cx="408.8" cy="698.8" r="1.15" fill="#d00000" stroke="#400000" stroke-width="0.55"/>
<circle cx="415.8" cy="698.5" r="1.15" fill="#d00000" stroke="#400000" stroke-width="0.55"/>
<circle cx="408.5" cy="705.0" r="1.15" fill="#d00000" stroke="#400000" stroke-width="0.55"/>
<circle cx="407.3" cy="706.5" r="1.15" fill="#d00000" stroke="#400000" stroke-width="0.55"/>
<circle cx="410.8" cy="707.1" r="1.15" fill="#d00000" stroke="#400000" stroke-width="0.55"/>
<circle cx="409.6" cy="708.8" r="1.15" fill="#d00000" stroke="#400000" stroke-width="0.55"/>
<circle cx="411.5" cy="710.8" r="1.15" fill="#d00000" stroke="#400000" stroke-width="0.55"/>
<circle cx="408.1" cy="711.9" r="1.15" fill="#d00000" stroke="#400000" stroke-width="0.55"/>
<circle cx="413.1" cy="713.8" r="1.15" fill="#d00000" stroke="#400000" stroke-width="0.55"/>
<circle cx="415.8" cy="716.5" r="1.15" fill="#d00000" stroke="#400000" stroke-width="0.55"/>
<circle cx="418.1" cy="716.9" r="1.15" fill="#d00000" stroke="#400000" stroke-width="0.55"/>
<circle cx="420.4" cy="713.1" r="1.15" fill="#d00000" stroke="#400000" stroke-width="0.55"/>
<circle cx="422.7" cy="715.0" r="1.15" fill="#d00000" stroke="#400000" stroke-width="0.55"/>
<circle cx="425.5" cy="716.0" r="1.15" fill="#d00000" stroke="#400000" stroke-width="0.55"/>
<circle cx="428.5" cy="716.5" r="1.15" fill="#d00000" stroke="#400000" stroke-width="0.55"/>
<circle cx="417.0" cy="710.0" r="1.15" fill="#d00000" stroke="#400000" stroke-width="0.55"/>
<circle cx="396.2" cy="715.7" r="1.25" fill="#d8cc20" stroke="#403800" stroke-width="0.6"/>
<circle cx="398.3" cy="716.1" r="1.25" fill="#d8cc20" stroke="#403800" stroke-width="0.6"/>
<circle cx="405.4" cy="713.4" r="1.25" fill="#d8cc20" stroke="#403800" stroke-width="0.6"/>
<circle cx="410.0" cy="714.3" r="1.25" fill="#d8cc20" stroke="#403800" stroke-width="0.6"/>
<circle cx="407.0" cy="719.3" r="1.25" fill="#d8cc20" stroke="#403800" stroke-width="0.6"/>
<circle cx="412.4" cy="719.3" r="1.25" fill="#d8cc20" stroke="#403800" stroke-width="0.6"/>
<circle cx="398.7" cy="705.9" r="1.25" fill="#7a30a0" stroke="#2a0838" stroke-width="0.6"/>
<circle cx="399.3" cy="714.3" r="1.25" fill="#7a30a0" stroke="#2a0838" stroke-width="0.6"/>
<circle cx="398.5" cy="718.4" r="1.25" fill="#7a30a0" stroke="#2a0838" stroke-width="0.6"/>
<circle cx="400.7" cy="719.3" r="1.25" fill="#7a30a0" stroke="#2a0838" stroke-width="0.6"/>
<circle cx="486.9" cy="570.0" r="1.15" fill="#d8861c" stroke="#5a3000" stroke-width="0.5"/>
<circle cx="484.5" cy="641.0" r="1.15" fill="#d8861c" stroke="#5a3000" stroke-width="0.5"/>
<circle cx="465.6" cy="654.5" r="1.15" fill="#d8861c" stroke="#5a3000" stroke-width="0.5"/>
<circle cx="500.4" cy="691.4" r="1.15" fill="#d8861c" stroke="#5a3000" stroke-width="0.5"/>
<line x1="300.40" y1="527.10" x2="300.40" y2="724.60" stroke="#000" stroke-width="1.8"/>
<line x1="299.60" y1="723.80" x2="503.30" y2="723.80" stroke="#000" stroke-width="1.8"/>
<line x1="296.80" y1="719.60" x2="300.40" y2="719.60" stroke="#111" stroke-width="1.0"/>
<text x="292.40" y="723.27" font-size="10.2" text-anchor="end" fill="#111" stroke="#111" stroke-width="0.2">0</text>
<line x1="296.80" y1="699.25" x2="300.40" y2="699.25" stroke="#111" stroke-width="1.0"/>
<text x="292.40" y="702.92" font-size="10.2" text-anchor="end" fill="#111" stroke="#111" stroke-width="0.2">10</text>
<line x1="296.80" y1="678.90" x2="300.40" y2="678.90" stroke="#111" stroke-width="1.0"/>
<text x="292.40" y="682.57" font-size="10.2" text-anchor="end" fill="#111" stroke="#111" stroke-width="0.2">20</text>
<line x1="296.80" y1="658.55" x2="300.40" y2="658.55" stroke="#111" stroke-width="1.0"/>
<text x="292.40" y="662.22" font-size="10.2" text-anchor="end" fill="#111" stroke="#111" stroke-width="0.2">30</text>
<line x1="296.80" y1="638.20" x2="300.40" y2="638.20" stroke="#111" stroke-width="1.0"/>
<text x="292.40" y="641.87" font-size="10.2" text-anchor="end" fill="#111" stroke="#111" stroke-width="0.2">40</text>
<line x1="296.80" y1="617.85" x2="300.40" y2="617.85" stroke="#111" stroke-width="1.0"/>
<text x="292.40" y="621.52" font-size="10.2" text-anchor="end" fill="#111" stroke="#111" stroke-width="0.2">50</text>
<line x1="296.80" y1="597.50" x2="300.40" y2="597.50" stroke="#111" stroke-width="1.0"/>
<text x="292.40" y="601.17" font-size="10.2" text-anchor="end" fill="#111" stroke="#111" stroke-width="0.2">60</text>
<line x1="296.80" y1="577.15" x2="300.40" y2="577.15" stroke="#111" stroke-width="1.0"/>
<text x="292.40" y="580.82" font-size="10.2" text-anchor="end" fill="#111" stroke="#111" stroke-width="0.2">70</text>
<line x1="296.80" y1="556.80" x2="300.40" y2="556.80" stroke="#111" stroke-width="1.0"/>
<text x="292.40" y="560.47" font-size="10.2" text-anchor="end" fill="#111" stroke="#111" stroke-width="0.2">80</text>
<line x1="296.80" y1="536.45" x2="300.40" y2="536.45" stroke="#111" stroke-width="1.0"/>
<text x="292.40" y="540.12" font-size="10.2" text-anchor="end" fill="#111" stroke="#111" stroke-width="0.2">90</text>
<line x1="310.00" y1="723.80" x2="310.00" y2="727.60" stroke="#111" stroke-width="1.0"/>
<text x="310.00" y="739.50" font-size="9.6" text-anchor="middle" fill="#111" stroke="#111" stroke-width="0.2">−10</text>
<line x1="355.75" y1="723.80" x2="355.75" y2="727.60" stroke="#111" stroke-width="1.0"/>
<text x="355.75" y="739.50" font-size="9.6" text-anchor="middle" fill="#111" stroke="#111" stroke-width="0.2">−5</text>
<line x1="401.50" y1="723.80" x2="401.50" y2="727.60" stroke="#111" stroke-width="1.0"/>
<text x="401.50" y="739.50" font-size="9.6" text-anchor="middle" fill="#111" stroke="#111" stroke-width="0.2">0</text>
<line x1="447.25" y1="723.80" x2="447.25" y2="727.60" stroke="#111" stroke-width="1.0"/>
<text x="447.25" y="739.50" font-size="9.6" text-anchor="middle" fill="#111" stroke="#111" stroke-width="0.2">5</text>
<line x1="493.00" y1="723.80" x2="493.00" y2="727.60" stroke="#111" stroke-width="1.0"/>
<text x="493.00" y="739.50" font-size="9.6" text-anchor="middle" fill="#111" stroke="#111" stroke-width="0.2">10</text>
<text font-size="11" text-anchor="middle" fill="#111" transform="translate(269.8,625.4) rotate(-90) scale(0.8,1)">-Log<tspan font-size="9" dy="5">10</tspan><tspan dy="-5">Padj</tspan></text>
<text x="383.20" y="519.90" font-size="12" text-anchor="start" fill="#111" stroke="#111" stroke-width="0.2" textLength="37.20" lengthAdjust="spacingAndGlyphs">Day 14</text>
<text x="312.60" y="594.00" font-size="9.6" text-anchor="start" fill="#111" stroke="#111" stroke-width="0.2" textLength="62.60" lengthAdjust="spacingAndGlyphs">A-cell enriched</text>
<text x="313.40" y="605.50" font-size="9.6" text-anchor="start" fill="#111" stroke="#111" stroke-width="0.2" textLength="61.80" lengthAdjust="spacingAndGlyphs">217 transcripts</text>
<text x="417.20" y="594.30" font-size="9.6" text-anchor="start" fill="#111" stroke="#111" stroke-width="0.2" textLength="61.60" lengthAdjust="spacingAndGlyphs">F-cell enriched</text>
<text x="419.80" y="605.00" font-size="9.6" text-anchor="start" fill="#111" stroke="#111" stroke-width="0.2" textLength="56.60" lengthAdjust="spacingAndGlyphs">44 transcripts</text>
<text x="466.20" y="563.80" font-size="9.6" text-anchor="start" fill="#111" stroke="#111" stroke-width="0.2" textLength="24.70" lengthAdjust="spacingAndGlyphs">HBG2</text>
<text x="472.10" y="636.80" font-size="9.6" text-anchor="start" fill="#111" stroke="#111" stroke-width="0.2" textLength="24.20" lengthAdjust="spacingAndGlyphs">HBG1</text>
<text x="434.70" y="657.80" font-size="9.6" text-anchor="start" fill="#111" stroke="#111" stroke-width="0.2" textLength="26.60" lengthAdjust="spacingAndGlyphs">BGLT3</text>
<text x="461.60" y="695.50" font-size="9.6" text-anchor="start" fill="#111" stroke="#111" stroke-width="0.2" textLength="33.60" lengthAdjust="spacingAndGlyphs">HBG1/2</text>
<text x="354.8" y="757.3" font-size="11.2" fill="#111" transform="translate(354.8,0) scale(0.81,1) translate(-354.8,0)">Log<tspan font-size="9.5" dy="4.3">2</tspan><tspan dy="-4.3"> fold change (F/A)</tspan></text>
<rect x="0.75" y="0.75" width="518.5" height="768.5" fill="none" stroke="#000" stroke-width="1.5"/>
</svg></body></html>
